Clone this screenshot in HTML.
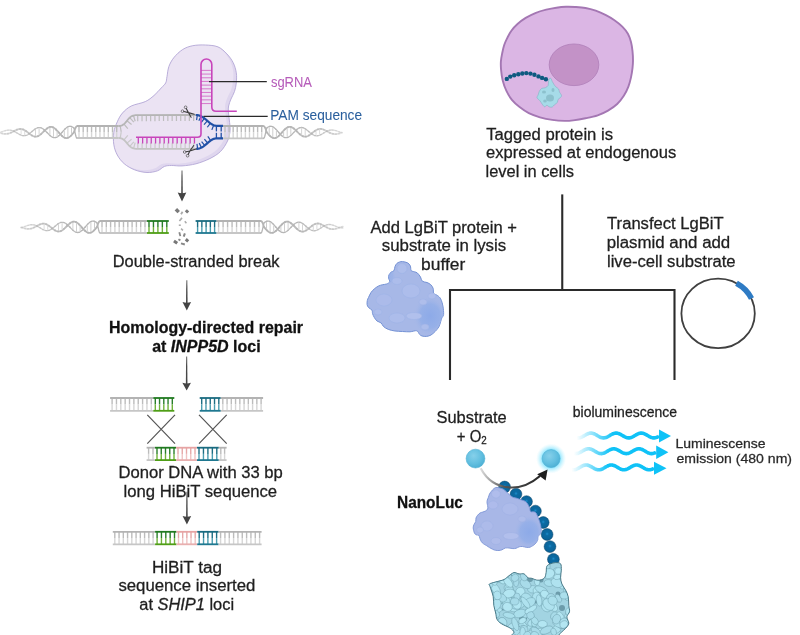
<!DOCTYPE html><html><head><meta charset="utf-8"><style>html,body{margin:0;padding:0;background:#fff;width:800px;height:635px;overflow:hidden}svg{display:block;will-change:transform}text{font-family:"Liberation Sans",sans-serif;font-size:16px}</style></head><body><svg width="800" height="635" viewBox="0 0 800 635"><defs><linearGradient id="shaft" x1="0" y1="0" x2="0" y2="1"><stop offset="0" stop-color="#777"/><stop offset="0.35" stop-color="#4a4a4a"/><stop offset="1" stop-color="#444"/></linearGradient></defs>
<defs><clipPath id="casclip"><path d="M205.4,45 C209.6,45.2 214.42,45.42 218,46.9 C221.58,48.38 224.37,51.27 226.9,53.9 C229.43,56.53 231.63,59.55 233.2,62.7 C234.77,65.85 235.78,69.43 236.3,72.8 C236.82,76.17 236.6,79.78 236.3,82.9 C236,86.02 235.38,88.82 234.5,91.5 C233.62,94.18 231.98,96.58 231,99 C230.02,101.42 229.03,103.83 228.6,106 C228.17,108.17 228.28,109.67 228.4,112 C228.52,114.33 229.02,116.92 229.3,120 C229.58,123.08 230.4,127 230.1,130.5 C229.8,134 229.1,137.5 227.5,141 C225.9,144.5 223.42,148.58 220.5,151.5 C217.58,154.42 214.08,156.45 210,158.5 C205.92,160.55 200.67,162.57 196,163.8 C191.33,165.03 186.08,165.62 182,165.9 C177.92,166.18 174.42,165.42 171.5,165.5 C168.58,165.58 166.83,165.52 164.5,166.4 C162.17,167.28 160.42,169.78 157.5,170.8 C154.58,171.82 150.78,172.65 147,172.5 C143.22,172.35 138.58,171.35 134.8,169.9 C131.02,168.45 127.22,166.28 124.3,163.8 C121.38,161.32 119.05,158.22 117.3,155 C115.55,151.78 114.38,148.28 113.8,144.5 C113.22,140.72 113.22,136.08 113.8,132.3 C114.38,128.52 115.85,125.02 117.3,121.8 C118.75,118.58 120.17,115.63 122.5,113 C124.83,110.37 127.5,107.9 131.3,106 C135.1,104.1 141.52,103.35 145.3,101.6 C149.08,99.85 151.33,97.78 154,95.5 C156.67,93.22 159.35,90 161.3,87.9 C163.25,85.8 164.75,84.78 165.7,82.9 C166.65,81.02 166.47,79.33 167,76.6 C167.53,73.87 167.75,69.67 168.9,66.5 C170.05,63.33 171.6,60.43 173.9,57.6 C176.2,54.77 179.55,51.48 182.7,49.5 C185.85,47.52 189.02,46.45 192.8,45.7 C196.58,44.95 201.2,44.8 205.4,45Z"/></clipPath></defs>
<path d="M205.4,45 C209.6,45.2 214.42,45.42 218,46.9 C221.58,48.38 224.37,51.27 226.9,53.9 C229.43,56.53 231.63,59.55 233.2,62.7 C234.77,65.85 235.78,69.43 236.3,72.8 C236.82,76.17 236.6,79.78 236.3,82.9 C236,86.02 235.38,88.82 234.5,91.5 C233.62,94.18 231.98,96.58 231,99 C230.02,101.42 229.03,103.83 228.6,106 C228.17,108.17 228.28,109.67 228.4,112 C228.52,114.33 229.02,116.92 229.3,120 C229.58,123.08 230.4,127 230.1,130.5 C229.8,134 229.1,137.5 227.5,141 C225.9,144.5 223.42,148.58 220.5,151.5 C217.58,154.42 214.08,156.45 210,158.5 C205.92,160.55 200.67,162.57 196,163.8 C191.33,165.03 186.08,165.62 182,165.9 C177.92,166.18 174.42,165.42 171.5,165.5 C168.58,165.58 166.83,165.52 164.5,166.4 C162.17,167.28 160.42,169.78 157.5,170.8 C154.58,171.82 150.78,172.65 147,172.5 C143.22,172.35 138.58,171.35 134.8,169.9 C131.02,168.45 127.22,166.28 124.3,163.8 C121.38,161.32 119.05,158.22 117.3,155 C115.55,151.78 114.38,148.28 113.8,144.5 C113.22,140.72 113.22,136.08 113.8,132.3 C114.38,128.52 115.85,125.02 117.3,121.8 C118.75,118.58 120.17,115.63 122.5,113 C124.83,110.37 127.5,107.9 131.3,106 C135.1,104.1 141.52,103.35 145.3,101.6 C149.08,99.85 151.33,97.78 154,95.5 C156.67,93.22 159.35,90 161.3,87.9 C163.25,85.8 164.75,84.78 165.7,82.9 C166.65,81.02 166.47,79.33 167,76.6 C167.53,73.87 167.75,69.67 168.9,66.5 C170.05,63.33 171.6,60.43 173.9,57.6 C176.2,54.77 179.55,51.48 182.7,49.5 C185.85,47.52 189.02,46.45 192.8,45.7 C196.58,44.95 201.2,44.8 205.4,45Z" fill="#dfd6ee"/>
<g clip-path="url(#casclip)"><path d="M205.4,45 C209.6,45.2 214.42,45.42 218,46.9 C221.58,48.38 224.37,51.27 226.9,53.9 C229.43,56.53 231.63,59.55 233.2,62.7 C234.77,65.85 235.78,69.43 236.3,72.8 C236.82,76.17 236.6,79.78 236.3,82.9 C236,86.02 235.38,88.82 234.5,91.5 C233.62,94.18 231.98,96.58 231,99 C230.02,101.42 229.03,103.83 228.6,106 C228.17,108.17 228.28,109.67 228.4,112 C228.52,114.33 229.02,116.92 229.3,120 C229.58,123.08 230.4,127 230.1,130.5 C229.8,134 229.1,137.5 227.5,141 C225.9,144.5 223.42,148.58 220.5,151.5 C217.58,154.42 214.08,156.45 210,158.5 C205.92,160.55 200.67,162.57 196,163.8 C191.33,165.03 186.08,165.62 182,165.9 C177.92,166.18 174.42,165.42 171.5,165.5 C168.58,165.58 166.83,165.52 164.5,166.4 C162.17,167.28 160.42,169.78 157.5,170.8 C154.58,171.82 150.78,172.65 147,172.5 C143.22,172.35 138.58,171.35 134.8,169.9 C131.02,168.45 127.22,166.28 124.3,163.8 C121.38,161.32 119.05,158.22 117.3,155 C115.55,151.78 114.38,148.28 113.8,144.5 C113.22,140.72 113.22,136.08 113.8,132.3 C114.38,128.52 115.85,125.02 117.3,121.8 C118.75,118.58 120.17,115.63 122.5,113 C124.83,110.37 127.5,107.9 131.3,106 C135.1,104.1 141.52,103.35 145.3,101.6 C149.08,99.85 151.33,97.78 154,95.5 C156.67,93.22 159.35,90 161.3,87.9 C163.25,85.8 164.75,84.78 165.7,82.9 C166.65,81.02 166.47,79.33 167,76.6 C167.53,73.87 167.75,69.67 168.9,66.5 C170.05,63.33 171.6,60.43 173.9,57.6 C176.2,54.77 179.55,51.48 182.7,49.5 C185.85,47.52 189.02,46.45 192.8,45.7 C196.58,44.95 201.2,44.8 205.4,45Z" fill="#ebe3f3" transform="translate(-3.2,-2.2)"/></g>
<path d="M205.4,45 C209.6,45.2 214.42,45.42 218,46.9 C221.58,48.38 224.37,51.27 226.9,53.9 C229.43,56.53 231.63,59.55 233.2,62.7 C234.77,65.85 235.78,69.43 236.3,72.8 C236.82,76.17 236.6,79.78 236.3,82.9 C236,86.02 235.38,88.82 234.5,91.5 C233.62,94.18 231.98,96.58 231,99 C230.02,101.42 229.03,103.83 228.6,106 C228.17,108.17 228.28,109.67 228.4,112 C228.52,114.33 229.02,116.92 229.3,120 C229.58,123.08 230.4,127 230.1,130.5 C229.8,134 229.1,137.5 227.5,141 C225.9,144.5 223.42,148.58 220.5,151.5 C217.58,154.42 214.08,156.45 210,158.5 C205.92,160.55 200.67,162.57 196,163.8 C191.33,165.03 186.08,165.62 182,165.9 C177.92,166.18 174.42,165.42 171.5,165.5 C168.58,165.58 166.83,165.52 164.5,166.4 C162.17,167.28 160.42,169.78 157.5,170.8 C154.58,171.82 150.78,172.65 147,172.5 C143.22,172.35 138.58,171.35 134.8,169.9 C131.02,168.45 127.22,166.28 124.3,163.8 C121.38,161.32 119.05,158.22 117.3,155 C115.55,151.78 114.38,148.28 113.8,144.5 C113.22,140.72 113.22,136.08 113.8,132.3 C114.38,128.52 115.85,125.02 117.3,121.8 C118.75,118.58 120.17,115.63 122.5,113 C124.83,110.37 127.5,107.9 131.3,106 C135.1,104.1 141.52,103.35 145.3,101.6 C149.08,99.85 151.33,97.78 154,95.5 C156.67,93.22 159.35,90 161.3,87.9 C163.25,85.8 164.75,84.78 165.7,82.9 C166.65,81.02 166.47,79.33 167,76.6 C167.53,73.87 167.75,69.67 168.9,66.5 C170.05,63.33 171.6,60.43 173.9,57.6 C176.2,54.77 179.55,51.48 182.7,49.5 C185.85,47.52 189.02,46.45 192.8,45.7 C196.58,44.95 201.2,44.8 205.4,45Z" fill="none" stroke="#b3a7d6" stroke-width="0.9"/>
<path d="M77,126.2 L76.5,126.4 L76,127 L75.5,127.96 L75,129.2 L74.5,130.65 L74,132.2" fill="none" stroke="#b5b5b5" stroke-width="1.8" stroke-opacity="1" stroke-linecap="round"/>
<path d="M74,132.2 L73.5,132.81 L73,133.4 L72.5,133.99 L72,134.55 L71.5,135.09 L71,135.6" fill="none" stroke="#b5b5b5" stroke-width="1.8" stroke-opacity="1" stroke-linecap="round"/>
<path d="M71,135.6 L70.5,136.07 L70,136.5 L69.5,136.89 L69,137.22 L68.5,137.51 L68,137.73" fill="none" stroke="#b5b5b5" stroke-width="1.8" stroke-opacity="1" stroke-linecap="round"/>
<path d="M68,137.73 L67.5,137.9 L67,138.01 L66.5,138.06 L66,138.05 L65.5,137.98 L65,137.84" fill="none" stroke="#b5b5b5" stroke-width="1.8" stroke-opacity="0.99" stroke-linecap="round"/>
<path d="M65,137.84 L64.5,137.66 L64,137.41 L63.5,137.11 L63,136.77 L62.5,136.38 L62,135.94" fill="none" stroke="#b5b5b5" stroke-width="1.8" stroke-opacity="0.99" stroke-linecap="round"/>
<path d="M62,135.94 L61.5,135.47 L61,134.97 L60.5,134.45 L60,133.9 L59.5,133.34 L59,132.77" fill="none" stroke="#b5b5b5" stroke-width="1.8" stroke-opacity="0.98" stroke-linecap="round"/>
<path d="M59,132.77 L58.5,132.2 L58,131.63 L57.5,131.07 L57,130.53 L56.5,130.01 L56,129.51" fill="none" stroke="#b5b5b5" stroke-width="1.8" stroke-opacity="0.97" stroke-linecap="round"/>
<path d="M56,129.51 L55.5,129.05 L55,128.62 L54.5,128.23 L54,127.89 L53.5,127.59 L53,127.34" fill="none" stroke="#b5b5b5" stroke-width="1.8" stroke-opacity="0.96" stroke-linecap="round"/>
<path d="M53,127.34 L52.5,127.15 L52,127 L51.5,126.92 L51,126.89 L50.5,126.91 L50,126.99" fill="none" stroke="#b5b5b5" stroke-width="1.8" stroke-opacity="0.95" stroke-linecap="round"/>
<path d="M50,126.99 L49.5,127.12 L49,127.3 L48.5,127.53 L48,127.81 L47.5,128.13 L47,128.49" fill="none" stroke="#b5b5b5" stroke-width="1.8" stroke-opacity="0.93" stroke-linecap="round"/>
<path d="M47,128.49 L46.5,128.88 L46,129.31 L45.5,129.75 L45,130.22 L44.5,130.71 L44,131.2" fill="none" stroke="#b5b5b5" stroke-width="1.8" stroke-opacity="0.91" stroke-linecap="round"/>
<path d="M44,131.2 L43.5,131.7 L43,132.2 L42.5,132.69 L42,133.17 L41.5,133.64 L41,134.08" fill="none" stroke="#b5b5b5" stroke-width="1.8" stroke-opacity="0.89" stroke-linecap="round"/>
<path d="M41,134.08 L40.5,134.5 L40,134.89 L39.5,135.25 L39,135.57 L38.5,135.85 L38,136.09" fill="none" stroke="#b5b5b5" stroke-width="1.8" stroke-opacity="0.87" stroke-linecap="round"/>
<path d="M38,136.09 L37.5,136.29 L37,136.44 L36.5,136.55 L36,136.6 L35.5,136.62 L35,136.58" fill="none" stroke="#b5b5b5" stroke-width="1.8" stroke-opacity="0.84" stroke-linecap="round"/>
<path d="M35,136.58 L34.5,136.5 L34,136.38 L33.5,136.22 L33,136.01 L32.5,135.77 L32,135.5" fill="none" stroke="#b5b5b5" stroke-width="1.8" stroke-opacity="0.82" stroke-linecap="round"/>
<path d="M32,135.5 L31.5,135.2 L31,134.87 L30.5,134.52 L30,134.15 L29.5,133.77 L29,133.38" fill="none" stroke="#b5b5b5" stroke-width="1.8" stroke-opacity="0.79" stroke-linecap="round"/>
<path d="M29,133.38 L28.5,132.99 L28,132.59 L27.5,132.2 L27,131.82 L26.5,131.44 L26,131.09" fill="none" stroke="#b5b5b5" stroke-width="1.8" stroke-opacity="0.75" stroke-linecap="round"/>
<path d="M26,131.09 L25.5,130.75 L25,130.44 L24.5,130.15 L24,129.89 L23.5,129.66 L23,129.46" fill="none" stroke="#b5b5b5" stroke-width="1.8" stroke-opacity="0.72" stroke-linecap="round"/>
<path d="M23,129.46 L22.5,129.29 L22,129.16 L21.5,129.07 L21,129.01 L20.5,128.99 L20,129" fill="none" stroke="#b5b5b5" stroke-width="1.8" stroke-opacity="0.68" stroke-linecap="round"/>
<path d="M20,129 L19.5,129.04 L19,129.12 L18.5,129.23 L18,129.36 L17.5,129.52 L17,129.71" fill="none" stroke="#b5b5b5" stroke-width="1.8" stroke-opacity="0.64" stroke-linecap="round"/>
<path d="M17,129.71 L16.5,129.91 L16,130.14 L15.5,130.38 L15,130.63 L14.5,130.89 L14,131.15" fill="none" stroke="#b5b5b5" stroke-width="1.8" stroke-opacity="0.6" stroke-linecap="round"/>
<path d="M14,131.15 L13.5,131.42 L13,131.68 L12.5,131.95 L12,132.2 L11.5,132.44 L11,132.68" fill="none" stroke="#b5b5b5" stroke-width="1.8" stroke-opacity="0.55" stroke-linecap="round"/>
<path d="M11,132.68 L10.5,132.89 L10,133.09 L9.5,133.27 L9,133.44 L8.5,133.58 L8,133.69" fill="none" stroke="#b5b5b5" stroke-width="1.8" stroke-opacity="0.5" stroke-linecap="round"/>
<path d="M8,133.69 L7.5,133.79 L7,133.86 L6.5,133.91 L6,133.94 L5.5,133.94 L5,133.93" fill="none" stroke="#b5b5b5" stroke-width="1.8" stroke-opacity="0.45" stroke-linecap="round"/>
<path d="M5,133.93 L4.5,133.89 L4,133.84 L3.5,133.77 L3,133.68 L2.5,133.58 L2,133.48" fill="none" stroke="#b5b5b5" stroke-width="1.8" stroke-opacity="0.4" stroke-linecap="round"/>
<path d="M2,133.48 L1.5,133.36 L1,133.24 L0.5,133.11 L0,132.98" fill="none" stroke="#b5b5b5" stroke-width="1.8" stroke-opacity="0.34" stroke-linecap="round"/>
<path d="M77,138.2 L76.5,137.76 L76,136.49 L75.5,134.59 L75,132.34 L74.5,130.07 L74,128.12" fill="none" stroke="#b5b5b5" stroke-width="1.3" stroke-opacity="1" stroke-linecap="round"/>
<path d="M74,128.12 L73.5,127.7 L73,127.33 L72.5,127.01 L72,126.74 L71.5,126.53 L71,126.38" fill="none" stroke="#b5b5b5" stroke-width="1.3" stroke-opacity="1" stroke-linecap="round"/>
<path d="M71,126.38 L70.5,126.29 L70,126.26 L69.5,126.3 L69,126.39 L68.5,126.54 L68,126.76" fill="none" stroke="#b5b5b5" stroke-width="1.3" stroke-opacity="1" stroke-linecap="round"/>
<path d="M68,126.76 L67.5,127.02 L67,127.34 L66.5,127.71 L66,128.12 L65.5,128.58 L65,129.07" fill="none" stroke="#b5b5b5" stroke-width="1.3" stroke-opacity="0.99" stroke-linecap="round"/>
<path d="M65,129.07 L64.5,129.59 L64,130.13 L63.5,130.69 L63,131.27 L62.5,131.85 L62,132.43" fill="none" stroke="#b5b5b5" stroke-width="1.3" stroke-opacity="0.99" stroke-linecap="round"/>
<path d="M62,132.43 L61.5,133.01 L61,133.58 L60.5,134.13 L60,134.65 L59.5,135.15 L59,135.61" fill="none" stroke="#b5b5b5" stroke-width="1.3" stroke-opacity="0.98" stroke-linecap="round"/>
<path d="M59,135.61 L58.5,136.04 L58,136.42 L57.5,136.76 L57,137.05 L56.5,137.28 L56,137.47" fill="none" stroke="#b5b5b5" stroke-width="1.3" stroke-opacity="0.97" stroke-linecap="round"/>
<path d="M56,137.47 L55.5,137.59 L55,137.66 L54.5,137.68 L54,137.63 L53.5,137.53 L53,137.38" fill="none" stroke="#b5b5b5" stroke-width="1.3" stroke-opacity="0.96" stroke-linecap="round"/>
<path d="M53,137.38 L52.5,137.17 L52,136.92 L51.5,136.62 L51,136.27 L50.5,135.89 L50,135.47" fill="none" stroke="#b5b5b5" stroke-width="1.3" stroke-opacity="0.95" stroke-linecap="round"/>
<path d="M50,135.47 L49.5,135.02 L49,134.55 L48.5,134.05 L48,133.55 L47.5,133.03 L47,132.51" fill="none" stroke="#b5b5b5" stroke-width="1.3" stroke-opacity="0.93" stroke-linecap="round"/>
<path d="M47,132.51 L46.5,131.99 L46,131.48 L45.5,130.99 L45,130.51 L44.5,130.05 L44,129.62" fill="none" stroke="#b5b5b5" stroke-width="1.3" stroke-opacity="0.91" stroke-linecap="round"/>
<path d="M44,129.62 L43.5,129.22 L43,128.86 L42.5,128.54 L42,128.26 L41.5,128.02 L41,127.83" fill="none" stroke="#b5b5b5" stroke-width="1.3" stroke-opacity="0.89" stroke-linecap="round"/>
<path d="M41,127.83 L40.5,127.68 L40,127.59 L39.5,127.54 L39,127.55 L38.5,127.6 L38,127.7" fill="none" stroke="#b5b5b5" stroke-width="1.3" stroke-opacity="0.87" stroke-linecap="round"/>
<path d="M38,127.7 L37.5,127.84 L37,128.03 L36.5,128.25 L36,128.52 L35.5,128.82 L35,129.15" fill="none" stroke="#b5b5b5" stroke-width="1.3" stroke-opacity="0.84" stroke-linecap="round"/>
<path d="M35,129.15 L34.5,129.5 L34,129.88 L33.5,130.28 L33,130.68 L32.5,131.1 L32,131.53" fill="none" stroke="#b5b5b5" stroke-width="1.3" stroke-opacity="0.82" stroke-linecap="round"/>
<path d="M32,131.53 L31.5,131.95 L31,132.37 L30.5,132.77 L30,133.17 L29.5,133.55 L29,133.9" fill="none" stroke="#b5b5b5" stroke-width="1.3" stroke-opacity="0.79" stroke-linecap="round"/>
<path d="M29,133.9 L28.5,134.24 L28,134.54 L27.5,134.81 L27,135.05 L26.5,135.26 L26,135.43" fill="none" stroke="#b5b5b5" stroke-width="1.3" stroke-opacity="0.75" stroke-linecap="round"/>
<path d="M26,135.43 L25.5,135.56 L25,135.65 L24.5,135.71 L24,135.73 L23.5,135.71 L23,135.65" fill="none" stroke="#b5b5b5" stroke-width="1.3" stroke-opacity="0.72" stroke-linecap="round"/>
<path d="M23,135.65 L22.5,135.56 L22,135.44 L21.5,135.28 L21,135.1 L20.5,134.89 L20,134.65" fill="none" stroke="#b5b5b5" stroke-width="1.3" stroke-opacity="0.68" stroke-linecap="round"/>
<path d="M20,134.65 L19.5,134.4 L19,134.13 L18.5,133.85 L18,133.56 L17.5,133.26 L17,132.96" fill="none" stroke="#b5b5b5" stroke-width="1.3" stroke-opacity="0.64" stroke-linecap="round"/>
<path d="M17,132.96 L16.5,132.67 L16,132.37 L15.5,132.09 L15,131.81 L14.5,131.55 L14,131.3" fill="none" stroke="#b5b5b5" stroke-width="1.3" stroke-opacity="0.6" stroke-linecap="round"/>
<path d="M14,131.3 L13.5,131.08 L13,130.87 L12.5,130.68 L12,130.52 L11.5,130.39 L11,130.27" fill="none" stroke="#b5b5b5" stroke-width="1.3" stroke-opacity="0.55" stroke-linecap="round"/>
<path d="M11,130.27 L10.5,130.19 L10,130.13 L9.5,130.1 L9,130.09 L8.5,130.1 L8,130.14" fill="none" stroke="#b5b5b5" stroke-width="1.3" stroke-opacity="0.5" stroke-linecap="round"/>
<path d="M8,130.14 L7.5,130.2 L7,130.28 L6.5,130.38 L6,130.49 L5.5,130.62 L5,130.76" fill="none" stroke="#b5b5b5" stroke-width="1.3" stroke-opacity="0.45" stroke-linecap="round"/>
<path d="M5,130.76 L4.5,130.9 L4,131.06 L3.5,131.22 L3,131.38 L2.5,131.54 L2,131.69" fill="none" stroke="#b5b5b5" stroke-width="1.3" stroke-opacity="0.4" stroke-linecap="round"/>
<path d="M2,131.69 L1.5,131.84 L1,131.99 L0.5,132.12 L0,132.25" fill="none" stroke="#b5b5b5" stroke-width="1.3" stroke-opacity="0.34" stroke-linecap="round"/>
<line x1="71.5" y1="127.33" x2="71.5" y2="134.29" stroke="#cdcdcd" stroke-width="1" stroke-opacity="1"/>
<line x1="67.9" y1="127.6" x2="67.9" y2="136.97" stroke="#cdcdcd" stroke-width="1" stroke-opacity="0.99"/>
<line x1="64.3" y1="130.6" x2="64.3" y2="136.76" stroke="#cdcdcd" stroke-width="1" stroke-opacity="0.99"/>
<line x1="57.1" y1="131.44" x2="57.1" y2="136.19" stroke="#cdcdcd" stroke-width="1" stroke-opacity="0.96"/>
<line x1="53.5" y1="128.39" x2="53.5" y2="136.73" stroke="#cdcdcd" stroke-width="1" stroke-opacity="0.95"/>
<line x1="49.9" y1="127.81" x2="49.9" y2="134.58" stroke="#cdcdcd" stroke-width="1" stroke-opacity="0.93"/>
<line x1="39.1" y1="128.34" x2="39.1" y2="134.71" stroke="#cdcdcd" stroke-width="1" stroke-opacity="0.85"/>
<line x1="35.5" y1="129.62" x2="35.5" y2="135.82" stroke="#cdcdcd" stroke-width="1" stroke-opacity="0.82"/>
<line x1="24.7" y1="131.06" x2="24.7" y2="134.89" stroke="#cdcdcd" stroke-width="1" stroke-opacity="0.7"/>
<line x1="21.1" y1="129.82" x2="21.1" y2="134.34" stroke="#cdcdcd" stroke-width="1" stroke-opacity="0.65"/>
<line x1="79" y1="126" x2="79" y2="132" stroke="#bcbcbc" stroke-width="1.4"/>
<line x1="79" y1="132" x2="79" y2="138" stroke="#d6d6d6" stroke-width="1.4"/>
<line x1="83.19" y1="126" x2="83.19" y2="132" stroke="#bcbcbc" stroke-width="1.4"/>
<line x1="83.19" y1="132" x2="83.19" y2="138" stroke="#d6d6d6" stroke-width="1.4"/>
<line x1="87.38" y1="126" x2="87.38" y2="132" stroke="#bcbcbc" stroke-width="1.4"/>
<line x1="87.38" y1="132" x2="87.38" y2="138" stroke="#d6d6d6" stroke-width="1.4"/>
<line x1="91.57" y1="126" x2="91.57" y2="132" stroke="#bcbcbc" stroke-width="1.4"/>
<line x1="91.57" y1="132" x2="91.57" y2="138" stroke="#d6d6d6" stroke-width="1.4"/>
<line x1="95.76" y1="126" x2="95.76" y2="132" stroke="#bcbcbc" stroke-width="1.4"/>
<line x1="95.76" y1="132" x2="95.76" y2="138" stroke="#d6d6d6" stroke-width="1.4"/>
<line x1="99.94" y1="126" x2="99.94" y2="132" stroke="#bcbcbc" stroke-width="1.4"/>
<line x1="99.94" y1="132" x2="99.94" y2="138" stroke="#d6d6d6" stroke-width="1.4"/>
<line x1="104.13" y1="126" x2="104.13" y2="132" stroke="#bcbcbc" stroke-width="1.4"/>
<line x1="104.13" y1="132" x2="104.13" y2="138" stroke="#d6d6d6" stroke-width="1.4"/>
<line x1="108.32" y1="126" x2="108.32" y2="132" stroke="#bcbcbc" stroke-width="1.4"/>
<line x1="108.32" y1="132" x2="108.32" y2="138" stroke="#d6d6d6" stroke-width="1.4"/>
<line x1="112.51" y1="126" x2="112.51" y2="132" stroke="#bcbcbc" stroke-width="1.4"/>
<line x1="112.51" y1="132" x2="112.51" y2="138" stroke="#d6d6d6" stroke-width="1.4"/>
<line x1="116.7" y1="126" x2="116.7" y2="132" stroke="#bcbcbc" stroke-width="1.4"/>
<line x1="116.7" y1="132" x2="116.7" y2="138" stroke="#d6d6d6" stroke-width="1.4"/>
<line x1="77" y1="126" x2="118.7" y2="126" stroke="#b3b3b3" stroke-width="1.8"/>
<line x1="77" y1="138" x2="118.7" y2="138" stroke="#c6c6c6" stroke-width="1.8"/>
<line x1="225" y1="126" x2="225" y2="132.2" stroke="#bcbcbc" stroke-width="1.4"/>
<line x1="225" y1="132.2" x2="225" y2="138.4" stroke="#d6d6d6" stroke-width="1.4"/>
<line x1="229.08" y1="126" x2="229.08" y2="132.2" stroke="#bcbcbc" stroke-width="1.4"/>
<line x1="229.08" y1="132.2" x2="229.08" y2="138.4" stroke="#d6d6d6" stroke-width="1.4"/>
<line x1="233.16" y1="126" x2="233.16" y2="132.2" stroke="#bcbcbc" stroke-width="1.4"/>
<line x1="233.16" y1="132.2" x2="233.16" y2="138.4" stroke="#d6d6d6" stroke-width="1.4"/>
<line x1="237.23" y1="126" x2="237.23" y2="132.2" stroke="#bcbcbc" stroke-width="1.4"/>
<line x1="237.23" y1="132.2" x2="237.23" y2="138.4" stroke="#d6d6d6" stroke-width="1.4"/>
<line x1="241.31" y1="126" x2="241.31" y2="132.2" stroke="#bcbcbc" stroke-width="1.4"/>
<line x1="241.31" y1="132.2" x2="241.31" y2="138.4" stroke="#d6d6d6" stroke-width="1.4"/>
<line x1="245.39" y1="126" x2="245.39" y2="132.2" stroke="#bcbcbc" stroke-width="1.4"/>
<line x1="245.39" y1="132.2" x2="245.39" y2="138.4" stroke="#d6d6d6" stroke-width="1.4"/>
<line x1="249.47" y1="126" x2="249.47" y2="132.2" stroke="#bcbcbc" stroke-width="1.4"/>
<line x1="249.47" y1="132.2" x2="249.47" y2="138.4" stroke="#d6d6d6" stroke-width="1.4"/>
<line x1="253.54" y1="126" x2="253.54" y2="132.2" stroke="#bcbcbc" stroke-width="1.4"/>
<line x1="253.54" y1="132.2" x2="253.54" y2="138.4" stroke="#d6d6d6" stroke-width="1.4"/>
<line x1="257.62" y1="126" x2="257.62" y2="132.2" stroke="#bcbcbc" stroke-width="1.4"/>
<line x1="257.62" y1="132.2" x2="257.62" y2="138.4" stroke="#d6d6d6" stroke-width="1.4"/>
<line x1="261.7" y1="126" x2="261.7" y2="132.2" stroke="#bcbcbc" stroke-width="1.4"/>
<line x1="261.7" y1="132.2" x2="261.7" y2="138.4" stroke="#d6d6d6" stroke-width="1.4"/>
<line x1="223" y1="126" x2="263.7" y2="126" stroke="#b3b3b3" stroke-width="1.8"/>
<line x1="223" y1="138.4" x2="263.7" y2="138.4" stroke="#c6c6c6" stroke-width="1.8"/>
<path d="M263.7,126.2 L264.2,126.41 L264.7,127.01 L265.21,127.97 L265.71,129.22 L266.21,130.68 L266.71,132.21" fill="none" stroke="#b5b5b5" stroke-width="1.8" stroke-opacity="1" stroke-linecap="round"/>
<path d="M266.71,132.21 L267.21,132.82 L267.72,133.42 L268.22,134.01 L268.72,134.57 L269.22,135.11 L269.72,135.62" fill="none" stroke="#b5b5b5" stroke-width="1.8" stroke-opacity="1" stroke-linecap="round"/>
<path d="M269.72,135.62 L270.22,136.1 L270.73,136.53 L271.23,136.91 L271.73,137.24 L272.23,137.52 L272.73,137.75" fill="none" stroke="#b5b5b5" stroke-width="1.8" stroke-opacity="1" stroke-linecap="round"/>
<path d="M272.73,137.75 L273.24,137.91 L273.74,138.02 L274.24,138.06 L274.74,138.05 L275.24,137.97 L275.75,137.83" fill="none" stroke="#b5b5b5" stroke-width="1.8" stroke-opacity="0.99" stroke-linecap="round"/>
<path d="M275.75,137.83 L276.25,137.64 L276.75,137.39 L277.25,137.09 L277.75,136.73 L278.26,136.34 L278.76,135.9" fill="none" stroke="#b5b5b5" stroke-width="1.8" stroke-opacity="0.99" stroke-linecap="round"/>
<path d="M278.76,135.9 L279.26,135.42 L279.76,134.91 L280.26,134.38 L280.77,133.83 L281.27,133.27 L281.77,132.69" fill="none" stroke="#b5b5b5" stroke-width="1.8" stroke-opacity="0.98" stroke-linecap="round"/>
<path d="M281.77,132.69 L282.27,132.12 L282.77,131.55 L283.27,130.99 L283.78,130.44 L284.28,129.92 L284.78,129.43" fill="none" stroke="#b5b5b5" stroke-width="1.8" stroke-opacity="0.97" stroke-linecap="round"/>
<path d="M284.78,129.43 L285.28,128.97 L285.78,128.54 L286.29,128.16 L286.79,127.82 L287.29,127.53 L287.79,127.29" fill="none" stroke="#b5b5b5" stroke-width="1.8" stroke-opacity="0.96" stroke-linecap="round"/>
<path d="M287.79,127.29 L288.29,127.1 L288.8,126.97 L289.3,126.89 L289.8,126.87 L290.3,126.9 L290.8,126.99" fill="none" stroke="#b5b5b5" stroke-width="1.8" stroke-opacity="0.95" stroke-linecap="round"/>
<path d="M290.8,126.99 L291.31,127.13 L291.81,127.33 L292.31,127.57 L292.81,127.86 L293.31,128.19 L293.82,128.56" fill="none" stroke="#b5b5b5" stroke-width="1.8" stroke-opacity="0.93" stroke-linecap="round"/>
<path d="M293.82,128.56 L294.32,128.96 L294.82,129.4 L295.32,129.85 L295.82,130.33 L296.32,130.82 L296.83,131.32" fill="none" stroke="#b5b5b5" stroke-width="1.8" stroke-opacity="0.91" stroke-linecap="round"/>
<path d="M296.83,131.32 L297.33,131.83 L297.83,132.33 L298.33,132.83 L298.83,133.31 L299.34,133.77 L299.84,134.22" fill="none" stroke="#b5b5b5" stroke-width="1.8" stroke-opacity="0.89" stroke-linecap="round"/>
<path d="M299.84,134.22 L300.34,134.64 L300.84,135.02 L301.34,135.37 L301.85,135.69 L302.35,135.96 L302.85,136.19" fill="none" stroke="#b5b5b5" stroke-width="1.8" stroke-opacity="0.87" stroke-linecap="round"/>
<path d="M302.85,136.19 L303.35,136.38 L303.85,136.52 L304.36,136.61 L304.86,136.66 L305.36,136.66 L305.86,136.61" fill="none" stroke="#b5b5b5" stroke-width="1.8" stroke-opacity="0.85" stroke-linecap="round"/>
<path d="M305.86,136.61 L306.36,136.52 L306.87,136.38 L307.37,136.2 L307.87,135.98 L308.37,135.73 L308.87,135.44" fill="none" stroke="#b5b5b5" stroke-width="1.8" stroke-opacity="0.82" stroke-linecap="round"/>
<path d="M308.87,135.44 L309.38,135.13 L309.88,134.79 L310.38,134.42 L310.88,134.04 L311.38,133.65 L311.88,133.25" fill="none" stroke="#b5b5b5" stroke-width="1.8" stroke-opacity="0.79" stroke-linecap="round"/>
<path d="M311.88,133.25 L312.39,132.85 L312.89,132.45 L313.39,132.05 L313.89,131.66 L314.39,131.29 L314.9,130.93" fill="none" stroke="#b5b5b5" stroke-width="1.8" stroke-opacity="0.76" stroke-linecap="round"/>
<path d="M314.9,130.93 L315.4,130.59 L315.9,130.28 L316.4,130 L316.9,129.74 L317.41,129.52 L317.91,129.33" fill="none" stroke="#b5b5b5" stroke-width="1.8" stroke-opacity="0.73" stroke-linecap="round"/>
<path d="M317.91,129.33 L318.41,129.17 L318.91,129.05 L319.41,128.96 L319.92,128.92 L320.42,128.91 L320.92,128.93" fill="none" stroke="#b5b5b5" stroke-width="1.8" stroke-opacity="0.69" stroke-linecap="round"/>
<path d="M320.92,128.93 L321.42,128.99 L321.92,129.08 L322.43,129.2 L322.93,129.35 L323.43,129.53 L323.93,129.73" fill="none" stroke="#b5b5b5" stroke-width="1.8" stroke-opacity="0.65" stroke-linecap="round"/>
<path d="M323.93,129.73 L324.43,129.95 L324.93,130.18 L325.44,130.44 L325.94,130.7 L326.44,130.97 L326.94,131.25" fill="none" stroke="#b5b5b5" stroke-width="1.8" stroke-opacity="0.61" stroke-linecap="round"/>
<path d="M326.94,131.25 L327.44,131.52 L327.95,131.8 L328.45,132.07 L328.95,132.33 L329.45,132.58 L329.95,132.82" fill="none" stroke="#b5b5b5" stroke-width="1.8" stroke-opacity="0.56" stroke-linecap="round"/>
<path d="M329.95,132.82 L330.46,133.04 L330.96,133.24 L331.46,133.42 L331.96,133.58 L332.46,133.72 L332.97,133.84" fill="none" stroke="#b5b5b5" stroke-width="1.8" stroke-opacity="0.52" stroke-linecap="round"/>
<path d="M332.97,133.84 L333.47,133.93 L333.97,134 L334.47,134.04 L334.97,134.06 L335.48,134.06 L335.98,134.04" fill="none" stroke="#b5b5b5" stroke-width="1.8" stroke-opacity="0.47" stroke-linecap="round"/>
<path d="M335.98,134.04 L336.48,133.99 L336.98,133.93 L337.48,133.85 L337.98,133.76 L338.49,133.65 L338.99,133.53" fill="none" stroke="#b5b5b5" stroke-width="1.8" stroke-opacity="0.41" stroke-linecap="round"/>
<path d="M338.99,133.53 L339.49,133.4 L339.99,133.27 L340.49,133.13 L341,132.99 L341.5,132.85 L342,132.72" fill="none" stroke="#b5b5b5" stroke-width="1.8" stroke-opacity="0.36" stroke-linecap="round"/>
<path d="M263.7,138.2 L264.2,137.75 L264.7,136.48 L265.21,134.57 L265.71,132.31 L266.21,130.03 L266.71,128.11" fill="none" stroke="#b5b5b5" stroke-width="1.3" stroke-opacity="1" stroke-linecap="round"/>
<path d="M266.71,128.11 L267.21,127.69 L267.72,127.32 L268.22,127 L268.72,126.73 L269.22,126.52 L269.72,126.38" fill="none" stroke="#b5b5b5" stroke-width="1.3" stroke-opacity="1" stroke-linecap="round"/>
<path d="M269.72,126.38 L270.22,126.29 L270.73,126.26 L271.23,126.3 L271.73,126.4 L272.23,126.55 L272.73,126.77" fill="none" stroke="#b5b5b5" stroke-width="1.3" stroke-opacity="1" stroke-linecap="round"/>
<path d="M272.73,126.77 L273.24,127.04 L273.74,127.37 L274.24,127.74 L274.74,128.16 L275.24,128.62 L275.75,129.11" fill="none" stroke="#b5b5b5" stroke-width="1.3" stroke-opacity="0.99" stroke-linecap="round"/>
<path d="M275.75,129.11 L276.25,129.63 L276.75,130.18 L277.25,130.75 L277.75,131.33 L278.26,131.92 L278.76,132.5" fill="none" stroke="#b5b5b5" stroke-width="1.3" stroke-opacity="0.99" stroke-linecap="round"/>
<path d="M278.76,132.5 L279.26,133.08 L279.76,133.65 L280.26,134.2 L280.77,134.72 L281.27,135.22 L281.77,135.68" fill="none" stroke="#b5b5b5" stroke-width="1.3" stroke-opacity="0.98" stroke-linecap="round"/>
<path d="M281.77,135.68 L282.27,136.1 L282.77,136.48 L283.27,136.82 L283.78,137.1 L284.28,137.33 L284.78,137.5" fill="none" stroke="#b5b5b5" stroke-width="1.3" stroke-opacity="0.97" stroke-linecap="round"/>
<path d="M284.78,137.5 L285.28,137.62 L285.78,137.68 L286.29,137.69 L286.79,137.63 L287.29,137.53 L287.79,137.36" fill="none" stroke="#b5b5b5" stroke-width="1.3" stroke-opacity="0.96" stroke-linecap="round"/>
<path d="M287.79,137.36 L288.29,137.15 L288.8,136.88 L289.3,136.57 L289.8,136.21 L290.3,135.82 L290.8,135.39" fill="none" stroke="#b5b5b5" stroke-width="1.3" stroke-opacity="0.95" stroke-linecap="round"/>
<path d="M290.8,135.39 L291.31,134.93 L291.81,134.45 L292.31,133.95 L292.81,133.44 L293.31,132.92 L293.82,132.39" fill="none" stroke="#b5b5b5" stroke-width="1.3" stroke-opacity="0.93" stroke-linecap="round"/>
<path d="M293.82,132.39 L294.32,131.87 L294.82,131.36 L295.32,130.86 L295.82,130.38 L296.32,129.93 L296.83,129.5" fill="none" stroke="#b5b5b5" stroke-width="1.3" stroke-opacity="0.91" stroke-linecap="round"/>
<path d="M296.83,129.5 L297.33,129.11 L297.83,128.75 L298.33,128.43 L298.83,128.16 L299.34,127.93 L299.84,127.75" fill="none" stroke="#b5b5b5" stroke-width="1.3" stroke-opacity="0.89" stroke-linecap="round"/>
<path d="M299.84,127.75 L300.34,127.62 L300.84,127.53 L301.34,127.5 L301.85,127.52 L302.35,127.58 L302.85,127.69" fill="none" stroke="#b5b5b5" stroke-width="1.3" stroke-opacity="0.87" stroke-linecap="round"/>
<path d="M302.85,127.69 L303.35,127.85 L303.85,128.05 L304.36,128.29 L304.86,128.57 L305.36,128.88 L305.86,129.22" fill="none" stroke="#b5b5b5" stroke-width="1.3" stroke-opacity="0.85" stroke-linecap="round"/>
<path d="M305.86,129.22 L306.36,129.59 L306.87,129.98 L307.37,130.39 L307.87,130.81 L308.37,131.24 L308.87,131.67" fill="none" stroke="#b5b5b5" stroke-width="1.3" stroke-opacity="0.82" stroke-linecap="round"/>
<path d="M308.87,131.67 L309.38,132.09 L309.88,132.52 L310.38,132.93 L310.88,133.32 L311.38,133.7 L311.88,134.06" fill="none" stroke="#b5b5b5" stroke-width="1.3" stroke-opacity="0.79" stroke-linecap="round"/>
<path d="M311.88,134.06 L312.39,134.39 L312.89,134.69 L313.39,134.95 L313.89,135.19 L314.39,135.39 L314.9,135.55" fill="none" stroke="#b5b5b5" stroke-width="1.3" stroke-opacity="0.76" stroke-linecap="round"/>
<path d="M314.9,135.55 L315.4,135.67 L315.9,135.75 L316.4,135.79 L316.9,135.8 L317.41,135.76 L317.91,135.69" fill="none" stroke="#b5b5b5" stroke-width="1.3" stroke-opacity="0.73" stroke-linecap="round"/>
<path d="M317.91,135.69 L318.41,135.59 L318.91,135.45 L319.41,135.28 L319.92,135.08 L320.42,134.85 L320.92,134.61" fill="none" stroke="#b5b5b5" stroke-width="1.3" stroke-opacity="0.69" stroke-linecap="round"/>
<path d="M320.92,134.61 L321.42,134.34 L321.92,134.06 L322.43,133.77 L322.93,133.46 L323.43,133.16 L323.93,132.85" fill="none" stroke="#b5b5b5" stroke-width="1.3" stroke-opacity="0.65" stroke-linecap="round"/>
<path d="M323.93,132.85 L324.43,132.54 L324.93,132.24 L325.44,131.95 L325.94,131.67 L326.44,131.4 L326.94,131.15" fill="none" stroke="#b5b5b5" stroke-width="1.3" stroke-opacity="0.61" stroke-linecap="round"/>
<path d="M326.94,131.15 L327.44,130.92 L327.95,130.72 L328.45,130.53 L328.95,130.37 L329.45,130.24 L329.95,130.14" fill="none" stroke="#b5b5b5" stroke-width="1.3" stroke-opacity="0.56" stroke-linecap="round"/>
<path d="M329.95,130.14 L330.46,130.06 L330.96,130 L331.46,129.98 L331.96,129.98 L332.46,130 L332.97,130.05" fill="none" stroke="#b5b5b5" stroke-width="1.3" stroke-opacity="0.52" stroke-linecap="round"/>
<path d="M332.97,130.05 L333.47,130.12 L333.97,130.21 L334.47,130.32 L334.97,130.45 L335.48,130.59 L335.98,130.74" fill="none" stroke="#b5b5b5" stroke-width="1.3" stroke-opacity="0.47" stroke-linecap="round"/>
<path d="M335.98,130.74 L336.48,130.9 L336.98,131.06 L337.48,131.23 L337.98,131.4 L338.49,131.57 L338.99,131.74" fill="none" stroke="#b5b5b5" stroke-width="1.3" stroke-opacity="0.41" stroke-linecap="round"/>
<path d="M338.99,131.74 L339.49,131.9 L339.99,132.05 L340.49,132.2 L341,132.33 L341.5,132.45 L342,132.56" fill="none" stroke="#b5b5b5" stroke-width="1.3" stroke-opacity="0.36" stroke-linecap="round"/>
<line x1="269.2" y1="127.33" x2="269.2" y2="134.29" stroke="#cdcdcd" stroke-width="1" stroke-opacity="1"/>
<line x1="272.8" y1="127.6" x2="272.8" y2="136.97" stroke="#cdcdcd" stroke-width="1" stroke-opacity="0.99"/>
<line x1="276.4" y1="130.6" x2="276.4" y2="136.77" stroke="#cdcdcd" stroke-width="1" stroke-opacity="0.99"/>
<line x1="283.6" y1="131.43" x2="283.6" y2="136.21" stroke="#cdcdcd" stroke-width="1" stroke-opacity="0.97"/>
<line x1="287.2" y1="128.37" x2="287.2" y2="136.75" stroke="#cdcdcd" stroke-width="1" stroke-opacity="0.95"/>
<line x1="290.8" y1="127.79" x2="290.8" y2="134.59" stroke="#cdcdcd" stroke-width="1" stroke-opacity="0.93"/>
<line x1="301.6" y1="128.3" x2="301.6" y2="134.74" stroke="#cdcdcd" stroke-width="1" stroke-opacity="0.86"/>
<line x1="305.2" y1="129.58" x2="305.2" y2="135.86" stroke="#cdcdcd" stroke-width="1" stroke-opacity="0.83"/>
<line x1="316" y1="131.02" x2="316" y2="134.96" stroke="#cdcdcd" stroke-width="1" stroke-opacity="0.71"/>
<line x1="319.6" y1="129.74" x2="319.6" y2="134.41" stroke="#cdcdcd" stroke-width="1" stroke-opacity="0.67"/>
<line x1="120.19" y1="125.87" x2="121.21" y2="131.78" stroke="#bdbdbd" stroke-width="1.2"/>
<line x1="124.01" y1="124.01" x2="127.8" y2="128.66" stroke="#bdbdbd" stroke-width="1.2"/>
<line x1="126.9" y1="120.83" x2="131.58" y2="124.58" stroke="#bdbdbd" stroke-width="1.2"/>
<line x1="129.76" y1="117.63" x2="133.81" y2="122.05" stroke="#bdbdbd" stroke-width="1.2"/>
<line x1="133.46" y1="115.53" x2="135.19" y2="121.28" stroke="#bdbdbd" stroke-width="1.2"/>
<line x1="137.73" y1="115.19" x2="137.75" y2="121.19" stroke="#bdbdbd" stroke-width="1.2"/>
<line x1="142.03" y1="115.18" x2="142.05" y2="121.18" stroke="#bdbdbd" stroke-width="1.2"/>
<line x1="146.33" y1="115.17" x2="146.35" y2="121.17" stroke="#bdbdbd" stroke-width="1.2"/>
<line x1="150.63" y1="115.15" x2="150.65" y2="121.15" stroke="#bdbdbd" stroke-width="1.2"/>
<line x1="154.93" y1="115.14" x2="154.95" y2="121.14" stroke="#bdbdbd" stroke-width="1.2"/>
<line x1="159.23" y1="115.12" x2="159.25" y2="121.12" stroke="#bdbdbd" stroke-width="1.2"/>
<line x1="163.53" y1="115.11" x2="163.55" y2="121.11" stroke="#bdbdbd" stroke-width="1.2"/>
<line x1="167.83" y1="115.09" x2="167.85" y2="121.09" stroke="#bdbdbd" stroke-width="1.2"/>
<line x1="172.13" y1="115.08" x2="172.15" y2="121.08" stroke="#bdbdbd" stroke-width="1.2"/>
<line x1="176.43" y1="115.06" x2="176.45" y2="121.06" stroke="#bdbdbd" stroke-width="1.2"/>
<line x1="180.73" y1="115.05" x2="180.75" y2="121.05" stroke="#bdbdbd" stroke-width="1.2"/>
<line x1="185.03" y1="115.04" x2="185.05" y2="121.04" stroke="#bdbdbd" stroke-width="1.2"/>
<line x1="189.33" y1="115.02" x2="189.35" y2="121.02" stroke="#bdbdbd" stroke-width="1.2"/>
<line x1="193.63" y1="115.01" x2="193.65" y2="121.01" stroke="#bdbdbd" stroke-width="1.2"/>
<line x1="120.19" y1="138.13" x2="121.21" y2="132.22" stroke="#c9c9c9" stroke-width="1.2"/>
<line x1="124.01" y1="139.98" x2="127.79" y2="135.32" stroke="#c9c9c9" stroke-width="1.2"/>
<line x1="126.93" y1="143.13" x2="131.57" y2="139.32" stroke="#c9c9c9" stroke-width="1.2"/>
<line x1="129.84" y1="146.3" x2="133.79" y2="141.78" stroke="#c9c9c9" stroke-width="1.2"/>
<line x1="133.55" y1="148.39" x2="135.19" y2="142.62" stroke="#c9c9c9" stroke-width="1.2"/>
<line x1="137.81" y1="148.8" x2="137.82" y2="142.8" stroke="#c9c9c9" stroke-width="1.2"/>
<line x1="142.11" y1="148.81" x2="142.12" y2="142.81" stroke="#c9c9c9" stroke-width="1.2"/>
<line x1="146.41" y1="148.82" x2="146.42" y2="142.82" stroke="#c9c9c9" stroke-width="1.2"/>
<line x1="150.71" y1="148.82" x2="150.72" y2="142.82" stroke="#c9c9c9" stroke-width="1.2"/>
<line x1="155.01" y1="148.83" x2="155.02" y2="142.83" stroke="#c9c9c9" stroke-width="1.2"/>
<line x1="159.31" y1="148.84" x2="159.32" y2="142.84" stroke="#c9c9c9" stroke-width="1.2"/>
<line x1="163.61" y1="148.85" x2="163.62" y2="142.85" stroke="#c9c9c9" stroke-width="1.2"/>
<line x1="167.91" y1="148.85" x2="167.92" y2="142.85" stroke="#c9c9c9" stroke-width="1.2"/>
<line x1="172.21" y1="148.86" x2="172.22" y2="142.86" stroke="#c9c9c9" stroke-width="1.2"/>
<line x1="176.51" y1="148.87" x2="176.52" y2="142.87" stroke="#c9c9c9" stroke-width="1.2"/>
<line x1="180.81" y1="148.87" x2="180.82" y2="142.87" stroke="#c9c9c9" stroke-width="1.2"/>
<line x1="185.11" y1="148.88" x2="185.12" y2="142.88" stroke="#c9c9c9" stroke-width="1.2"/>
<line x1="189.41" y1="148.89" x2="189.42" y2="142.89" stroke="#c9c9c9" stroke-width="1.2"/>
<line x1="193.71" y1="148.9" x2="193.72" y2="142.9" stroke="#c9c9c9" stroke-width="1.2"/>
<path d="M118.7,126 L119.31,125.98 L119.88,125.92 L120.43,125.83 L120.96,125.7 L121.46,125.54 L121.93,125.34 L122.39,125.12 L122.82,124.88 L123.24,124.61 L123.64,124.31 L124.02,124 L124.4,123.67 L124.76,123.32 L125.11,122.96 L125.45,122.58 L125.78,122.2 L126.11,121.81 L126.44,121.41 L126.76,121 L127.09,120.6 L127.41,120.2 L127.74,119.79 L128.07,119.39 L128.41,119 L128.76,118.62 L129.12,118.24 L129.48,117.88 L129.86,117.53 L130.26,117.2 L130.67,116.89 L131.09,116.59 L131.54,116.32 L132.01,116.08 L132.5,115.86 L133.01,115.66 L133.55,115.5 L134.12,115.37 L134.72,115.28 L135.34,115.22 L136,115.2 L195.8,115" fill="none" stroke="#b5b5b5" stroke-width="1.8"/>
<path d="M118.7,138 L119.31,138.02 L119.88,138.08 L120.43,138.17 L120.96,138.3 L121.46,138.46 L121.93,138.66 L122.39,138.88 L122.83,139.12 L123.24,139.39 L123.65,139.69 L124.03,140 L124.41,140.33 L124.77,140.68 L125.13,141.04 L125.47,141.42 L125.82,141.8 L126.15,142.19 L126.48,142.59 L126.82,143 L127.15,143.4 L127.49,143.8 L127.82,144.21 L128.17,144.61 L128.52,145 L128.88,145.38 L129.25,145.76 L129.64,146.12 L130.03,146.47 L130.45,146.8 L130.88,147.11 L131.33,147.41 L131.8,147.68 L132.29,147.92 L132.81,148.14 L133.35,148.34 L133.92,148.5 L134.52,148.63 L135.14,148.72 L135.81,148.78 L136.5,148.8 L196.2,148.9" fill="none" stroke="#c4c4c4" stroke-width="1.8"/>
<line x1="197.3" y1="115.1" x2="196.58" y2="120.05" stroke="#2150a6" stroke-width="1.2"/>
<line x1="201.01" y1="116.22" x2="198.84" y2="120.73" stroke="#2150a6" stroke-width="1.2"/>
<line x1="204.31" y1="118.29" x2="201.31" y2="122.29" stroke="#2150a6" stroke-width="1.2"/>
<line x1="207.31" y1="120.78" x2="204.03" y2="124.55" stroke="#2150a6" stroke-width="1.2"/>
<line x1="210.31" y1="123.27" x2="207.3" y2="127.26" stroke="#2150a6" stroke-width="1.2"/>
<line x1="213.68" y1="125.22" x2="211.83" y2="129.86" stroke="#2150a6" stroke-width="1.2"/>
<line x1="197.69" y1="148.79" x2="196.96" y2="143.85" stroke="#2150a6" stroke-width="1.2"/>
<line x1="201.39" y1="147.61" x2="199.2" y2="143.12" stroke="#2150a6" stroke-width="1.2"/>
<line x1="204.66" y1="145.49" x2="201.58" y2="141.55" stroke="#2150a6" stroke-width="1.2"/>
<line x1="207.65" y1="142.99" x2="204.39" y2="139.2" stroke="#2150a6" stroke-width="1.2"/>
<line x1="210.69" y1="140.56" x2="207.83" y2="136.46" stroke="#2150a6" stroke-width="1.2"/>
<path d="M195.8,115 L196.48,115.02 L197.14,115.08 L197.79,115.17 L198.41,115.3 L199.02,115.46 L199.62,115.64 L200.2,115.86 L200.77,116.1 L201.32,116.37 L201.86,116.66 L202.39,116.97 L202.91,117.29 L203.42,117.64 L203.92,118 L204.42,118.36 L204.9,118.74 L205.38,119.13 L205.85,119.53 L206.32,119.92 L206.79,120.32 L207.25,120.73 L207.71,121.13 L208.17,121.52 L208.62,121.91 L209.08,122.29 L209.54,122.67 L210,123.03 L210.46,123.38 L210.93,123.71 L211.4,124.03 L211.87,124.32 L212.35,124.6 L212.84,124.85 L213.33,125.08 L213.83,125.28 L214.35,125.45 L214.87,125.59 L215.4,125.69 L215.94,125.77 L216.5,125.8 L223,125.8" fill="none" stroke="#2150a6" stroke-width="2.2"/>
<path d="M196.2,148.9 L196.85,148.88 L197.49,148.82 L198.1,148.73 L198.7,148.61 L199.29,148.45 L199.86,148.27 L200.42,148.06 L200.97,147.82 L201.51,147.56 L202.03,147.27 L202.54,146.97 L203.05,146.65 L203.54,146.32 L204.03,145.97 L204.51,145.6 L204.99,145.23 L205.46,144.85 L205.92,144.47 L206.38,144.08 L206.84,143.69 L207.29,143.3 L207.74,142.91 L208.2,142.52 L208.65,142.14 L209.1,141.77 L209.56,141.4 L210.01,141.05 L210.47,140.71 L210.93,140.39 L211.4,140.08 L211.87,139.8 L212.35,139.53 L212.84,139.29 L213.33,139.07 L213.84,138.88 L214.35,138.72 L214.87,138.59 L215.4,138.49 L215.94,138.43 L216.5,138.4 L223,138.4" fill="none" stroke="#2150a6" stroke-width="2.2"/>
<line x1="216.4" y1="125.8" x2="216.4" y2="131.4" stroke="#2150a6" stroke-width="1.3"/><line x1="216.4" y1="132.8" x2="216.4" y2="138.4" stroke="#2150a6" stroke-width="1.3"/>
<line x1="221.2" y1="125.8" x2="221.2" y2="131.4" stroke="#2150a6" stroke-width="1.3"/><line x1="221.2" y1="132.8" x2="221.2" y2="138.4" stroke="#2150a6" stroke-width="1.3"/>
<line x1="138.3" y1="137.3" x2="138.3" y2="143.5" stroke="#c845bb" stroke-width="1.3"/>
<line x1="142.62" y1="137.3" x2="142.62" y2="143.5" stroke="#c845bb" stroke-width="1.3"/>
<line x1="146.94" y1="137.3" x2="146.94" y2="143.5" stroke="#c845bb" stroke-width="1.3"/>
<line x1="151.26" y1="137.3" x2="151.26" y2="143.5" stroke="#c845bb" stroke-width="1.3"/>
<line x1="155.58" y1="137.3" x2="155.58" y2="143.5" stroke="#c845bb" stroke-width="1.3"/>
<line x1="159.9" y1="137.3" x2="159.9" y2="143.5" stroke="#c845bb" stroke-width="1.3"/>
<line x1="164.22" y1="137.3" x2="164.22" y2="143.5" stroke="#c845bb" stroke-width="1.3"/>
<line x1="168.54" y1="137.3" x2="168.54" y2="143.5" stroke="#c845bb" stroke-width="1.3"/>
<line x1="172.86" y1="137.3" x2="172.86" y2="143.5" stroke="#c845bb" stroke-width="1.3"/>
<line x1="177.18" y1="137.3" x2="177.18" y2="143.5" stroke="#c845bb" stroke-width="1.3"/>
<line x1="181.5" y1="137.3" x2="181.5" y2="143.5" stroke="#c845bb" stroke-width="1.3"/>
<line x1="185.82" y1="137.3" x2="185.82" y2="143.5" stroke="#c845bb" stroke-width="1.3"/>
<line x1="190.14" y1="137.3" x2="190.14" y2="143.5" stroke="#c845bb" stroke-width="1.3"/>
<line x1="194.46" y1="137.3" x2="194.46" y2="143.5" stroke="#c845bb" stroke-width="1.3"/>
<line x1="201" y1="70.4" x2="211.8" y2="70.4" stroke="#d77fce" stroke-width="1.1"/>
<line x1="201" y1="74.08" x2="211.8" y2="74.08" stroke="#d77fce" stroke-width="1.1"/>
<line x1="201" y1="77.76" x2="211.8" y2="77.76" stroke="#d77fce" stroke-width="1.1"/>
<line x1="201" y1="81.44" x2="211.8" y2="81.44" stroke="#d77fce" stroke-width="1.1"/>
<line x1="201" y1="85.12" x2="211.8" y2="85.12" stroke="#d77fce" stroke-width="1.1"/>
<line x1="201" y1="88.8" x2="211.8" y2="88.8" stroke="#d77fce" stroke-width="1.1"/>
<line x1="201" y1="92.48" x2="211.8" y2="92.48" stroke="#d77fce" stroke-width="1.1"/>
<line x1="201" y1="96.16" x2="211.8" y2="96.16" stroke="#d77fce" stroke-width="1.1"/>
<line x1="201" y1="99.84" x2="211.8" y2="99.84" stroke="#d77fce" stroke-width="1.1"/>
<line x1="201" y1="103.52" x2="211.8" y2="103.52" stroke="#d77fce" stroke-width="1.1"/>
<path d="M136,137.3 L197.5,137.3 Q201,137.3 201,133.8 L201,64.4 A5.4,5.4 0 0 1 211.8,64.4 L211.8,107 Q211.8,111.2 216,111.2 L236.8,111.2" fill="none" stroke="#c845bb" stroke-width="1.6"/>
<g fill="none" stroke="#5a5a5a" stroke-width="0.75"><circle cx="185.6" cy="107.3" r="1.35"/><circle cx="182.5" cy="111.2" r="1.35"/><path d="M186.23,108.49 L188.4,112.6 L191.1,117.3 M183.81,111.51 L188.4,112.6 L194.3,114.2" stroke="#3d3d3d" stroke-width="1.1" stroke-linecap="round"/></g>
<g fill="none" stroke="#5a5a5a" stroke-width="0.75"><circle cx="184.7" cy="152" r="1.35"/><circle cx="187.6" cy="155.7" r="1.35"/><path d="M186.02,151.74 L189.8,151 L193.7,145.5 M188.17,154.48 L189.8,151 L196.1,148.9" stroke="#3d3d3d" stroke-width="1.1" stroke-linecap="round"/></g>
<line x1="209" y1="81.7" x2="266.8" y2="81.7" stroke="#2a2a2a" stroke-width="1.2"/>
<line x1="203.5" y1="116.3" x2="267.7" y2="116.3" stroke="#2a2a2a" stroke-width="1.2"/>
<text x="270.9" y="86.8" fill="#b65cb9" stroke="#b65cb9" stroke-width="0.05" textLength="41.09" lengthAdjust="spacingAndGlyphs"><tspan font-size="14">sgRNA</tspan></text>
<text x="270.22" y="120.4" fill="#2a5f9d" stroke="#2a5f9d" stroke-width="0.05" textLength="91.87" lengthAdjust="spacingAndGlyphs"><tspan font-size="14">PAM sequence</tspan></text>
<path d="M181.2,193.9 L181.45,170.6 L182.55,170.6 L182.8,193.9Z" fill="url(#shaft)"/><path d="M177.7,192.6 Q182,194.1 186.3,192.6 L182,201.4Z" fill="#444"/>
<path d="M186,303.4 L186.25,280.2 L187.35,280.2 L187.6,303.4Z" fill="url(#shaft)"/><path d="M182.5,302.1 Q186.8,303.6 191.1,302.1 L186.8,310.6Z" fill="#444"/>
<path d="M185.85,384 L186.1,356.5 L187.2,356.5 L187.45,384Z" fill="url(#shaft)"/><path d="M182.35,382.7 Q186.65,384.2 190.95,382.7 L186.65,390.6Z" fill="#444"/>
<path d="M186.1,517.4 L186.35,491.8 L187.45,491.8 L187.7,517.4Z" fill="url(#shaft)"/><path d="M182.6,516.1 Q186.9,517.6 191.2,516.1 L186.9,524.4Z" fill="#444"/>
<path d="M100,221 L99.5,221.2 L99,221.8 L98.5,222.76 L98,224 L97.5,225.45 L97,227" fill="none" stroke="#b5b5b5" stroke-width="1.8" stroke-opacity="1" stroke-linecap="round"/>
<path d="M97,227 L96.5,227.61 L96,228.2 L95.5,228.79 L95,229.35 L94.5,229.89 L94,230.4" fill="none" stroke="#b5b5b5" stroke-width="1.8" stroke-opacity="1" stroke-linecap="round"/>
<path d="M94,230.4 L93.5,230.87 L93,231.3 L92.5,231.69 L92,232.03 L91.5,232.31 L91,232.54" fill="none" stroke="#b5b5b5" stroke-width="1.8" stroke-opacity="1" stroke-linecap="round"/>
<path d="M91,232.54 L90.5,232.71 L90,232.82 L89.5,232.87 L89,232.85 L88.5,232.78 L88,232.65" fill="none" stroke="#b5b5b5" stroke-width="1.8" stroke-opacity="0.99" stroke-linecap="round"/>
<path d="M88,232.65 L87.5,232.46 L87,232.22 L86.5,231.92 L86,231.58 L85.5,231.18 L85,230.75" fill="none" stroke="#b5b5b5" stroke-width="1.8" stroke-opacity="0.99" stroke-linecap="round"/>
<path d="M85,230.75 L84.5,230.28 L84,229.78 L83.5,229.25 L83,228.71 L82.5,228.14 L82,227.57" fill="none" stroke="#b5b5b5" stroke-width="1.8" stroke-opacity="0.98" stroke-linecap="round"/>
<path d="M82,227.57 L81.5,227 L81,226.43 L80.5,225.87 L80,225.33 L79.5,224.8 L79,224.3" fill="none" stroke="#b5b5b5" stroke-width="1.8" stroke-opacity="0.97" stroke-linecap="round"/>
<path d="M79,224.3 L78.5,223.84 L78,223.4 L77.5,223.01 L77,222.67 L76.5,222.37 L76,222.12" fill="none" stroke="#b5b5b5" stroke-width="1.8" stroke-opacity="0.96" stroke-linecap="round"/>
<path d="M76,222.12 L75.5,221.92 L75,221.78 L74.5,221.69 L74,221.66 L73.5,221.68 L73,221.76" fill="none" stroke="#b5b5b5" stroke-width="1.8" stroke-opacity="0.95" stroke-linecap="round"/>
<path d="M73,221.76 L72.5,221.89 L72,222.07 L71.5,222.3 L71,222.58 L70.5,222.9 L70,223.26" fill="none" stroke="#b5b5b5" stroke-width="1.8" stroke-opacity="0.93" stroke-linecap="round"/>
<path d="M70,223.26 L69.5,223.66 L69,224.08 L68.5,224.53 L68,225.01 L67.5,225.49 L67,225.99" fill="none" stroke="#b5b5b5" stroke-width="1.8" stroke-opacity="0.92" stroke-linecap="round"/>
<path d="M67,225.99 L66.5,226.5 L66,227 L65.5,227.5 L65,227.98 L64.5,228.46 L64,228.91" fill="none" stroke="#b5b5b5" stroke-width="1.8" stroke-opacity="0.9" stroke-linecap="round"/>
<path d="M64,228.91 L63.5,229.33 L63,229.73 L62.5,230.09 L62,230.42 L61.5,230.7 L61,230.95" fill="none" stroke="#b5b5b5" stroke-width="1.8" stroke-opacity="0.88" stroke-linecap="round"/>
<path d="M61,230.95 L60.5,231.15 L60,231.3 L59.5,231.41 L59,231.47 L58.5,231.49 L58,231.45" fill="none" stroke="#b5b5b5" stroke-width="1.8" stroke-opacity="0.85" stroke-linecap="round"/>
<path d="M58,231.45 L57.5,231.38 L57,231.25 L56.5,231.09 L56,230.88 L55.5,230.64 L55,230.37" fill="none" stroke="#b5b5b5" stroke-width="1.8" stroke-opacity="0.83" stroke-linecap="round"/>
<path d="M55,230.37 L54.5,230.06 L54,229.73 L53.5,229.37 L53,229 L52.5,228.61 L52,228.21" fill="none" stroke="#b5b5b5" stroke-width="1.8" stroke-opacity="0.8" stroke-linecap="round"/>
<path d="M52,228.21 L51.5,227.81 L51,227.4 L50.5,227 L50,226.61 L49.5,226.22 L49,225.86" fill="none" stroke="#b5b5b5" stroke-width="1.8" stroke-opacity="0.77" stroke-linecap="round"/>
<path d="M49,225.86 L48.5,225.51 L48,225.19 L47.5,224.89 L47,224.62 L46.5,224.38 L46,224.17" fill="none" stroke="#b5b5b5" stroke-width="1.8" stroke-opacity="0.73" stroke-linecap="round"/>
<path d="M46,224.17 L45.5,224 L45,223.86 L44.5,223.76 L44,223.69 L43.5,223.66 L43,223.67" fill="none" stroke="#b5b5b5" stroke-width="1.8" stroke-opacity="0.7" stroke-linecap="round"/>
<path d="M43,223.67 L42.5,223.71 L42,223.79 L41.5,223.9 L41,224.04 L40.5,224.2 L40,224.39" fill="none" stroke="#b5b5b5" stroke-width="1.8" stroke-opacity="0.66" stroke-linecap="round"/>
<path d="M40,224.39 L39.5,224.6 L39,224.84 L38.5,225.08 L38,225.35 L37.5,225.62 L37,225.89" fill="none" stroke="#b5b5b5" stroke-width="1.8" stroke-opacity="0.62" stroke-linecap="round"/>
<path d="M37,225.89 L36.5,226.17 L36,226.45 L35.5,226.73 L35,227 L34.5,227.26 L34,227.51" fill="none" stroke="#b5b5b5" stroke-width="1.8" stroke-opacity="0.57" stroke-linecap="round"/>
<path d="M34,227.51 L33.5,227.74 L33,227.96 L32.5,228.16 L32,228.33 L31.5,228.49 L31,228.62" fill="none" stroke="#b5b5b5" stroke-width="1.8" stroke-opacity="0.53" stroke-linecap="round"/>
<path d="M31,228.62 L30.5,228.73 L30,228.82 L29.5,228.88 L29,228.91 L28.5,228.93 L28,228.92" fill="none" stroke="#b5b5b5" stroke-width="1.8" stroke-opacity="0.48" stroke-linecap="round"/>
<path d="M28,228.92 L27.5,228.88 L27,228.83 L26.5,228.76 L26,228.68 L25.5,228.58 L25,228.46" fill="none" stroke="#b5b5b5" stroke-width="1.8" stroke-opacity="0.43" stroke-linecap="round"/>
<path d="M25,228.46 L24.5,228.34 L24,228.2 L23.5,228.07 L23,227.92 L22.5,227.78 L22,227.64" fill="none" stroke="#b5b5b5" stroke-width="1.8" stroke-opacity="0.38" stroke-linecap="round"/>
<path d="M22,227.64 L21.5,227.49 L21,227.36" fill="none" stroke="#b5b5b5" stroke-width="1.8" stroke-opacity="0.32" stroke-linecap="round"/>
<path d="M100,233 L99.5,232.56 L99,231.29 L98.5,229.39 L98,227.14 L97.5,224.87 L97,222.92" fill="none" stroke="#b5b5b5" stroke-width="1.3" stroke-opacity="1" stroke-linecap="round"/>
<path d="M97,222.92 L96.5,222.5 L96,222.13 L95.5,221.81 L95,221.54 L94.5,221.33 L94,221.18" fill="none" stroke="#b5b5b5" stroke-width="1.3" stroke-opacity="1" stroke-linecap="round"/>
<path d="M94,221.18 L93.5,221.09 L93,221.06 L92.5,221.09 L92,221.19 L91.5,221.34 L91,221.55" fill="none" stroke="#b5b5b5" stroke-width="1.3" stroke-opacity="1" stroke-linecap="round"/>
<path d="M91,221.55 L90.5,221.82 L90,222.14 L89.5,222.51 L89,222.92 L88.5,223.37 L88,223.86" fill="none" stroke="#b5b5b5" stroke-width="1.3" stroke-opacity="0.99" stroke-linecap="round"/>
<path d="M88,223.86 L87.5,224.38 L87,224.93 L86.5,225.49 L86,226.07 L85.5,226.65 L85,227.23" fill="none" stroke="#b5b5b5" stroke-width="1.3" stroke-opacity="0.99" stroke-linecap="round"/>
<path d="M85,227.23 L84.5,227.81 L84,228.38 L83.5,228.93 L83,229.46 L82.5,229.96 L82,230.42" fill="none" stroke="#b5b5b5" stroke-width="1.3" stroke-opacity="0.98" stroke-linecap="round"/>
<path d="M82,230.42 L81.5,230.85 L81,231.24 L80.5,231.57 L80,231.86 L79.5,232.1 L79,232.29" fill="none" stroke="#b5b5b5" stroke-width="1.3" stroke-opacity="0.97" stroke-linecap="round"/>
<path d="M79,232.29 L78.5,232.41 L78,232.49 L77.5,232.5 L77,232.46 L76.5,232.36 L76,232.2" fill="none" stroke="#b5b5b5" stroke-width="1.3" stroke-opacity="0.96" stroke-linecap="round"/>
<path d="M76,232.2 L75.5,232 L75,231.74 L74.5,231.44 L74,231.09 L73.5,230.71 L73,230.29" fill="none" stroke="#b5b5b5" stroke-width="1.3" stroke-opacity="0.95" stroke-linecap="round"/>
<path d="M73,230.29 L72.5,229.84 L72,229.36 L71.5,228.87 L71,228.36 L70.5,227.84 L70,227.31" fill="none" stroke="#b5b5b5" stroke-width="1.3" stroke-opacity="0.93" stroke-linecap="round"/>
<path d="M70,227.31 L69.5,226.79 L69,226.28 L68.5,225.78 L68,225.29 L67.5,224.83 L67,224.4" fill="none" stroke="#b5b5b5" stroke-width="1.3" stroke-opacity="0.92" stroke-linecap="round"/>
<path d="M67,224.4 L66.5,223.99 L66,223.63 L65.5,223.3 L65,223.01 L64.5,222.77 L64,222.58" fill="none" stroke="#b5b5b5" stroke-width="1.3" stroke-opacity="0.9" stroke-linecap="round"/>
<path d="M64,222.58 L63.5,222.43 L63,222.33 L62.5,222.28 L62,222.29 L61.5,222.34 L61,222.43" fill="none" stroke="#b5b5b5" stroke-width="1.3" stroke-opacity="0.88" stroke-linecap="round"/>
<path d="M61,222.43 L60.5,222.58 L60,222.76 L59.5,222.99 L59,223.26 L58.5,223.56 L58,223.89" fill="none" stroke="#b5b5b5" stroke-width="1.3" stroke-opacity="0.85" stroke-linecap="round"/>
<path d="M58,223.89 L57.5,224.25 L57,224.64 L56.5,225.04 L56,225.46 L55.5,225.88 L55,226.31" fill="none" stroke="#b5b5b5" stroke-width="1.3" stroke-opacity="0.83" stroke-linecap="round"/>
<path d="M55,226.31 L54.5,226.74 L54,227.17 L53.5,227.59 L53,227.99 L52.5,228.38 L52,228.74" fill="none" stroke="#b5b5b5" stroke-width="1.3" stroke-opacity="0.8" stroke-linecap="round"/>
<path d="M52,228.74 L51.5,229.08 L51,229.4 L50.5,229.68 L50,229.93 L49.5,230.14 L49,230.32" fill="none" stroke="#b5b5b5" stroke-width="1.3" stroke-opacity="0.77" stroke-linecap="round"/>
<path d="M49,230.32 L48.5,230.46 L48,230.56 L47.5,230.62 L47,230.64 L46.5,230.62 L46,230.57" fill="none" stroke="#b5b5b5" stroke-width="1.3" stroke-opacity="0.73" stroke-linecap="round"/>
<path d="M46,230.57 L45.5,230.47 L45,230.35 L44.5,230.19 L44,230 L43.5,229.79 L43,229.55" fill="none" stroke="#b5b5b5" stroke-width="1.3" stroke-opacity="0.7" stroke-linecap="round"/>
<path d="M43,229.55 L42.5,229.29 L42,229.01 L41.5,228.72 L41,228.42 L40.5,228.11 L40,227.8" fill="none" stroke="#b5b5b5" stroke-width="1.3" stroke-opacity="0.66" stroke-linecap="round"/>
<path d="M40,227.8 L39.5,227.49 L39,227.18 L38.5,226.88 L38,226.59 L37.5,226.31 L37,226.05" fill="none" stroke="#b5b5b5" stroke-width="1.3" stroke-opacity="0.62" stroke-linecap="round"/>
<path d="M37,226.05 L36.5,225.81 L36,225.59 L35.5,225.39 L35,225.21 L34.5,225.06 L34,224.94" fill="none" stroke="#b5b5b5" stroke-width="1.3" stroke-opacity="0.57" stroke-linecap="round"/>
<path d="M34,224.94 L33.5,224.84 L33,224.78 L32.5,224.73 L32,224.72 L31.5,224.73 L31,224.76" fill="none" stroke="#b5b5b5" stroke-width="1.3" stroke-opacity="0.53" stroke-linecap="round"/>
<path d="M31,224.76 L30.5,224.82 L30,224.9 L29.5,225 L29,225.12 L28.5,225.25 L28,225.4" fill="none" stroke="#b5b5b5" stroke-width="1.3" stroke-opacity="0.48" stroke-linecap="round"/>
<path d="M28,225.4 L27.5,225.56 L27,225.72 L26.5,225.89 L26,226.07 L25.5,226.24 L25,226.42" fill="none" stroke="#b5b5b5" stroke-width="1.3" stroke-opacity="0.43" stroke-linecap="round"/>
<path d="M25,226.42 L24.5,226.59 L24,226.75 L23.5,226.91 L23,227.06 L22.5,227.19 L22,227.32" fill="none" stroke="#b5b5b5" stroke-width="1.3" stroke-opacity="0.38" stroke-linecap="round"/>
<path d="M22,227.32 L21.5,227.42 L21,227.52" fill="none" stroke="#b5b5b5" stroke-width="1.3" stroke-opacity="0.32" stroke-linecap="round"/>
<line x1="94.5" y1="222.13" x2="94.5" y2="229.09" stroke="#cdcdcd" stroke-width="1" stroke-opacity="1"/>
<line x1="90.9" y1="222.4" x2="90.9" y2="231.77" stroke="#cdcdcd" stroke-width="1" stroke-opacity="0.99"/>
<line x1="87.3" y1="225.4" x2="87.3" y2="231.57" stroke="#cdcdcd" stroke-width="1" stroke-opacity="0.99"/>
<line x1="80.1" y1="226.23" x2="80.1" y2="231.01" stroke="#cdcdcd" stroke-width="1" stroke-opacity="0.97"/>
<line x1="76.5" y1="223.17" x2="76.5" y2="231.56" stroke="#cdcdcd" stroke-width="1" stroke-opacity="0.95"/>
<line x1="72.9" y1="222.58" x2="72.9" y2="229.4" stroke="#cdcdcd" stroke-width="1" stroke-opacity="0.93"/>
<line x1="62.1" y1="223.08" x2="62.1" y2="229.55" stroke="#cdcdcd" stroke-width="1" stroke-opacity="0.86"/>
<line x1="58.5" y1="224.36" x2="58.5" y2="230.69" stroke="#cdcdcd" stroke-width="1" stroke-opacity="0.83"/>
<line x1="47.7" y1="225.8" x2="47.7" y2="229.8" stroke="#cdcdcd" stroke-width="1" stroke-opacity="0.72"/>
<line x1="44.1" y1="224.5" x2="44.1" y2="229.24" stroke="#cdcdcd" stroke-width="1" stroke-opacity="0.67"/>
<line x1="102" y1="221" x2="102" y2="227" stroke="#bcbcbc" stroke-width="1.4"/>
<line x1="102" y1="227" x2="102" y2="233" stroke="#d6d6d6" stroke-width="1.4"/>
<line x1="106.3" y1="221" x2="106.3" y2="227" stroke="#bcbcbc" stroke-width="1.4"/>
<line x1="106.3" y1="227" x2="106.3" y2="233" stroke="#d6d6d6" stroke-width="1.4"/>
<line x1="110.6" y1="221" x2="110.6" y2="227" stroke="#bcbcbc" stroke-width="1.4"/>
<line x1="110.6" y1="227" x2="110.6" y2="233" stroke="#d6d6d6" stroke-width="1.4"/>
<line x1="114.9" y1="221" x2="114.9" y2="227" stroke="#bcbcbc" stroke-width="1.4"/>
<line x1="114.9" y1="227" x2="114.9" y2="233" stroke="#d6d6d6" stroke-width="1.4"/>
<line x1="119.2" y1="221" x2="119.2" y2="227" stroke="#bcbcbc" stroke-width="1.4"/>
<line x1="119.2" y1="227" x2="119.2" y2="233" stroke="#d6d6d6" stroke-width="1.4"/>
<line x1="123.5" y1="221" x2="123.5" y2="227" stroke="#bcbcbc" stroke-width="1.4"/>
<line x1="123.5" y1="227" x2="123.5" y2="233" stroke="#d6d6d6" stroke-width="1.4"/>
<line x1="127.8" y1="221" x2="127.8" y2="227" stroke="#bcbcbc" stroke-width="1.4"/>
<line x1="127.8" y1="227" x2="127.8" y2="233" stroke="#d6d6d6" stroke-width="1.4"/>
<line x1="132.1" y1="221" x2="132.1" y2="227" stroke="#bcbcbc" stroke-width="1.4"/>
<line x1="132.1" y1="227" x2="132.1" y2="233" stroke="#d6d6d6" stroke-width="1.4"/>
<line x1="136.4" y1="221" x2="136.4" y2="227" stroke="#bcbcbc" stroke-width="1.4"/>
<line x1="136.4" y1="227" x2="136.4" y2="233" stroke="#d6d6d6" stroke-width="1.4"/>
<line x1="140.7" y1="221" x2="140.7" y2="227" stroke="#bcbcbc" stroke-width="1.4"/>
<line x1="140.7" y1="227" x2="140.7" y2="233" stroke="#d6d6d6" stroke-width="1.4"/>
<line x1="145" y1="221" x2="145" y2="227" stroke="#bcbcbc" stroke-width="1.4"/>
<line x1="145" y1="227" x2="145" y2="233" stroke="#d6d6d6" stroke-width="1.4"/>
<line x1="100" y1="221" x2="147" y2="221" stroke="#b3b3b3" stroke-width="1.8"/>
<line x1="100" y1="233" x2="147" y2="233" stroke="#c6c6c6" stroke-width="1.8"/>
<line x1="149" y1="221" x2="149" y2="227" stroke="#2a7f2a" stroke-width="1.4"/>
<line x1="149" y1="227" x2="149" y2="233" stroke="#6fb23a" stroke-width="1.4"/>
<line x1="153.45" y1="221" x2="153.45" y2="227" stroke="#2a7f2a" stroke-width="1.4"/>
<line x1="153.45" y1="227" x2="153.45" y2="233" stroke="#6fb23a" stroke-width="1.4"/>
<line x1="157.9" y1="221" x2="157.9" y2="227" stroke="#2a7f2a" stroke-width="1.4"/>
<line x1="157.9" y1="227" x2="157.9" y2="233" stroke="#6fb23a" stroke-width="1.4"/>
<line x1="162.35" y1="221" x2="162.35" y2="227" stroke="#2a7f2a" stroke-width="1.4"/>
<line x1="162.35" y1="227" x2="162.35" y2="233" stroke="#6fb23a" stroke-width="1.4"/>
<line x1="166.8" y1="221" x2="166.8" y2="227" stroke="#2a7f2a" stroke-width="1.4"/>
<line x1="166.8" y1="227" x2="166.8" y2="233" stroke="#6fb23a" stroke-width="1.4"/>
<line x1="147" y1="221" x2="168.8" y2="221" stroke="#217a21" stroke-width="1.8"/>
<line x1="147" y1="233" x2="168.8" y2="233" stroke="#4f9e16" stroke-width="1.8"/>
<line x1="197.6" y1="221" x2="197.6" y2="227" stroke="#1d6e84" stroke-width="1.4"/>
<line x1="197.6" y1="227" x2="197.6" y2="233" stroke="#4a9db0" stroke-width="1.4"/>
<line x1="201.85" y1="221" x2="201.85" y2="227" stroke="#1d6e84" stroke-width="1.4"/>
<line x1="201.85" y1="227" x2="201.85" y2="233" stroke="#4a9db0" stroke-width="1.4"/>
<line x1="206.1" y1="221" x2="206.1" y2="227" stroke="#1d6e84" stroke-width="1.4"/>
<line x1="206.1" y1="227" x2="206.1" y2="233" stroke="#4a9db0" stroke-width="1.4"/>
<line x1="210.35" y1="221" x2="210.35" y2="227" stroke="#1d6e84" stroke-width="1.4"/>
<line x1="210.35" y1="227" x2="210.35" y2="233" stroke="#4a9db0" stroke-width="1.4"/>
<line x1="214.6" y1="221" x2="214.6" y2="227" stroke="#1d6e84" stroke-width="1.4"/>
<line x1="214.6" y1="227" x2="214.6" y2="233" stroke="#4a9db0" stroke-width="1.4"/>
<line x1="195.6" y1="221" x2="216.6" y2="221" stroke="#1a6b80" stroke-width="1.8"/>
<line x1="195.6" y1="233" x2="216.6" y2="233" stroke="#1f7890" stroke-width="1.8"/>
<line x1="218.6" y1="221" x2="218.6" y2="227" stroke="#bcbcbc" stroke-width="1.4"/>
<line x1="218.6" y1="227" x2="218.6" y2="233" stroke="#d6d6d6" stroke-width="1.4"/>
<line x1="223.09" y1="221" x2="223.09" y2="227" stroke="#bcbcbc" stroke-width="1.4"/>
<line x1="223.09" y1="227" x2="223.09" y2="233" stroke="#d6d6d6" stroke-width="1.4"/>
<line x1="227.58" y1="221" x2="227.58" y2="227" stroke="#bcbcbc" stroke-width="1.4"/>
<line x1="227.58" y1="227" x2="227.58" y2="233" stroke="#d6d6d6" stroke-width="1.4"/>
<line x1="232.07" y1="221" x2="232.07" y2="227" stroke="#bcbcbc" stroke-width="1.4"/>
<line x1="232.07" y1="227" x2="232.07" y2="233" stroke="#d6d6d6" stroke-width="1.4"/>
<line x1="236.56" y1="221" x2="236.56" y2="227" stroke="#bcbcbc" stroke-width="1.4"/>
<line x1="236.56" y1="227" x2="236.56" y2="233" stroke="#d6d6d6" stroke-width="1.4"/>
<line x1="241.04" y1="221" x2="241.04" y2="227" stroke="#bcbcbc" stroke-width="1.4"/>
<line x1="241.04" y1="227" x2="241.04" y2="233" stroke="#d6d6d6" stroke-width="1.4"/>
<line x1="245.53" y1="221" x2="245.53" y2="227" stroke="#bcbcbc" stroke-width="1.4"/>
<line x1="245.53" y1="227" x2="245.53" y2="233" stroke="#d6d6d6" stroke-width="1.4"/>
<line x1="250.02" y1="221" x2="250.02" y2="227" stroke="#bcbcbc" stroke-width="1.4"/>
<line x1="250.02" y1="227" x2="250.02" y2="233" stroke="#d6d6d6" stroke-width="1.4"/>
<line x1="254.51" y1="221" x2="254.51" y2="227" stroke="#bcbcbc" stroke-width="1.4"/>
<line x1="254.51" y1="227" x2="254.51" y2="233" stroke="#d6d6d6" stroke-width="1.4"/>
<line x1="259" y1="221" x2="259" y2="227" stroke="#bcbcbc" stroke-width="1.4"/>
<line x1="259" y1="227" x2="259" y2="233" stroke="#d6d6d6" stroke-width="1.4"/>
<line x1="216.6" y1="221" x2="261" y2="221" stroke="#b3b3b3" stroke-width="1.8"/>
<line x1="216.6" y1="233" x2="261" y2="233" stroke="#c6c6c6" stroke-width="1.8"/>
<path d="M261,221 L261.5,221.2 L262,221.8 L262.5,222.76 L263,224 L263.5,225.45 L264,227" fill="none" stroke="#b5b5b5" stroke-width="1.8" stroke-opacity="1" stroke-linecap="round"/>
<path d="M264,227 L264.5,227.61 L265,228.2 L265.5,228.79 L266,229.35 L266.5,229.89 L267,230.4" fill="none" stroke="#b5b5b5" stroke-width="1.8" stroke-opacity="1" stroke-linecap="round"/>
<path d="M267,230.4 L267.5,230.88 L268,231.31 L268.5,231.69 L269,232.03 L269.5,232.31 L270,232.54" fill="none" stroke="#b5b5b5" stroke-width="1.8" stroke-opacity="1" stroke-linecap="round"/>
<path d="M270,232.54 L270.5,232.71 L271,232.82 L271.5,232.87 L272,232.86 L272.5,232.79 L273,232.66" fill="none" stroke="#b5b5b5" stroke-width="1.8" stroke-opacity="0.99" stroke-linecap="round"/>
<path d="M273,232.66 L273.5,232.47 L274,232.23 L274.5,231.93 L275,231.59 L275.5,231.19 L276,230.76" fill="none" stroke="#b5b5b5" stroke-width="1.8" stroke-opacity="0.99" stroke-linecap="round"/>
<path d="M276,230.76 L276.5,230.29 L277,229.79 L277.5,229.26 L278,228.71 L278.5,228.15 L279,227.58" fill="none" stroke="#b5b5b5" stroke-width="1.8" stroke-opacity="0.98" stroke-linecap="round"/>
<path d="M279,227.58 L279.5,227 L280,226.43 L280.5,225.87 L281,225.32 L281.5,224.79 L282,224.29" fill="none" stroke="#b5b5b5" stroke-width="1.8" stroke-opacity="0.98" stroke-linecap="round"/>
<path d="M282,224.29 L282.5,223.82 L283,223.38 L283.5,222.99 L284,222.64 L284.5,222.34 L285,222.09" fill="none" stroke="#b5b5b5" stroke-width="1.8" stroke-opacity="0.97" stroke-linecap="round"/>
<path d="M285,222.09 L285.5,221.89 L286,221.74 L286.5,221.65 L287,221.61 L287.5,221.64 L288,221.71" fill="none" stroke="#b5b5b5" stroke-width="1.8" stroke-opacity="0.95" stroke-linecap="round"/>
<path d="M288,221.71 L288.5,221.84 L289,222.02 L289.5,222.26 L290,222.54 L290.5,222.86 L291,223.22" fill="none" stroke="#b5b5b5" stroke-width="1.8" stroke-opacity="0.94" stroke-linecap="round"/>
<path d="M291,223.22 L291.5,223.62 L292,224.05 L292.5,224.5 L293,224.98 L293.5,225.48 L294,225.98" fill="none" stroke="#b5b5b5" stroke-width="1.8" stroke-opacity="0.92" stroke-linecap="round"/>
<path d="M294,225.98 L294.5,226.49 L295,227 L295.5,227.5 L296,228 L296.5,228.48 L297,228.94" fill="none" stroke="#b5b5b5" stroke-width="1.8" stroke-opacity="0.91" stroke-linecap="round"/>
<path d="M297,228.94 L297.5,229.37 L298,229.77 L298.5,230.14 L299,230.48 L299.5,230.77 L300,231.02" fill="none" stroke="#b5b5b5" stroke-width="1.8" stroke-opacity="0.89" stroke-linecap="round"/>
<path d="M300,231.02 L300.5,231.23 L301,231.39 L301.5,231.5 L302,231.57 L302.5,231.59 L303,231.55" fill="none" stroke="#b5b5b5" stroke-width="1.8" stroke-opacity="0.86" stroke-linecap="round"/>
<path d="M303,231.55 L303.5,231.48 L304,231.35 L304.5,231.19 L305,230.98 L305.5,230.74 L306,230.46" fill="none" stroke="#b5b5b5" stroke-width="1.8" stroke-opacity="0.84" stroke-linecap="round"/>
<path d="M306,230.46 L306.5,230.14 L307,229.8 L307.5,229.44 L308,229.06 L308.5,228.66 L309,228.25" fill="none" stroke="#b5b5b5" stroke-width="1.8" stroke-opacity="0.81" stroke-linecap="round"/>
<path d="M309,228.25 L309.5,227.83 L310,227.41 L310.5,227 L311,226.59 L311.5,226.2 L312,225.82" fill="none" stroke="#b5b5b5" stroke-width="1.8" stroke-opacity="0.78" stroke-linecap="round"/>
<path d="M312,225.82 L312.5,225.45 L313,225.11 L313.5,224.8 L314,224.52 L314.5,224.26 L315,224.04" fill="none" stroke="#b5b5b5" stroke-width="1.8" stroke-opacity="0.75" stroke-linecap="round"/>
<path d="M315,224.04 L315.5,223.86 L316,223.71 L316.5,223.6 L317,223.53 L317.5,223.5 L318,223.5" fill="none" stroke="#b5b5b5" stroke-width="1.8" stroke-opacity="0.72" stroke-linecap="round"/>
<path d="M318,223.5 L318.5,223.54 L319,223.61 L319.5,223.72 L320,223.86 L320.5,224.03 L321,224.23" fill="none" stroke="#b5b5b5" stroke-width="1.8" stroke-opacity="0.69" stroke-linecap="round"/>
<path d="M321,224.23 L321.5,224.45 L322,224.69 L322.5,224.95 L323,225.23 L323.5,225.52 L324,225.81" fill="none" stroke="#b5b5b5" stroke-width="1.8" stroke-opacity="0.65" stroke-linecap="round"/>
<path d="M324,225.81 L324.5,226.11 L325,226.41 L325.5,226.71 L326,227 L326.5,227.28 L327,227.55" fill="none" stroke="#b5b5b5" stroke-width="1.8" stroke-opacity="0.61" stroke-linecap="round"/>
<path d="M327,227.55 L327.5,227.81 L328,228.05 L328.5,228.27 L329,228.47 L329.5,228.65 L330,228.8" fill="none" stroke="#b5b5b5" stroke-width="1.8" stroke-opacity="0.57" stroke-linecap="round"/>
<path d="M330,228.8 L330.5,228.93 L331,229.03 L331.5,229.1 L332,229.15 L332.5,229.18 L333,229.18" fill="none" stroke="#b5b5b5" stroke-width="1.8" stroke-opacity="0.52" stroke-linecap="round"/>
<path d="M333,229.18 L333.5,229.15 L334,229.1 L334.5,229.03 L335,228.95 L335.5,228.84 L336,228.72" fill="none" stroke="#b5b5b5" stroke-width="1.8" stroke-opacity="0.47" stroke-linecap="round"/>
<path d="M336,228.72 L336.5,228.58 L337,228.43 L337.5,228.28 L338,228.12 L338.5,227.95 L339,227.78" fill="none" stroke="#b5b5b5" stroke-width="1.8" stroke-opacity="0.42" stroke-linecap="round"/>
<path d="M339,227.78 L339.5,227.62 L340,227.45 L340.5,227.29 L341,227.14 L341.5,227 L342,226.87" fill="none" stroke="#b5b5b5" stroke-width="1.8" stroke-opacity="0.37" stroke-linecap="round"/>
<path d="M342,226.87 L342.5,226.75 L343,226.64" fill="none" stroke="#b5b5b5" stroke-width="1.8" stroke-opacity="0.32" stroke-linecap="round"/>
<path d="M261,233 L261.5,232.56 L262,231.29 L262.5,229.39 L263,227.14 L263.5,224.87 L264,222.92" fill="none" stroke="#b5b5b5" stroke-width="1.3" stroke-opacity="1" stroke-linecap="round"/>
<path d="M264,222.92 L264.5,222.5 L265,222.13 L265.5,221.81 L266,221.54 L266.5,221.33 L267,221.18" fill="none" stroke="#b5b5b5" stroke-width="1.3" stroke-opacity="1" stroke-linecap="round"/>
<path d="M267,221.18 L267.5,221.09 L268,221.06 L268.5,221.09 L269,221.18 L269.5,221.34 L270,221.55" fill="none" stroke="#b5b5b5" stroke-width="1.3" stroke-opacity="1" stroke-linecap="round"/>
<path d="M270,221.55 L270.5,221.81 L271,222.13 L271.5,222.5 L272,222.91 L272.5,223.37 L273,223.86" fill="none" stroke="#b5b5b5" stroke-width="1.3" stroke-opacity="0.99" stroke-linecap="round"/>
<path d="M273,223.86 L273.5,224.38 L274,224.92 L274.5,225.49 L275,226.06 L275.5,226.65 L276,227.23" fill="none" stroke="#b5b5b5" stroke-width="1.3" stroke-opacity="0.99" stroke-linecap="round"/>
<path d="M276,227.23 L276.5,227.81 L277,228.38 L277.5,228.94 L278,229.47 L278.5,229.97 L279,230.44" fill="none" stroke="#b5b5b5" stroke-width="1.3" stroke-opacity="0.98" stroke-linecap="round"/>
<path d="M279,230.44 L279.5,230.87 L280,231.25 L280.5,231.6 L281,231.89 L281.5,232.13 L282,232.31" fill="none" stroke="#b5b5b5" stroke-width="1.3" stroke-opacity="0.98" stroke-linecap="round"/>
<path d="M282,232.31 L282.5,232.44 L283,232.52 L283.5,232.53 L284,232.49 L284.5,232.39 L285,232.24" fill="none" stroke="#b5b5b5" stroke-width="1.3" stroke-opacity="0.97" stroke-linecap="round"/>
<path d="M285,232.24 L285.5,232.03 L286,231.78 L286.5,231.47 L287,231.13 L287.5,230.74 L288,230.32" fill="none" stroke="#b5b5b5" stroke-width="1.3" stroke-opacity="0.95" stroke-linecap="round"/>
<path d="M288,230.32 L288.5,229.86 L289,229.38 L289.5,228.88 L290,228.37 L290.5,227.85 L291,227.32" fill="none" stroke="#b5b5b5" stroke-width="1.3" stroke-opacity="0.94" stroke-linecap="round"/>
<path d="M291,227.32 L291.5,226.79 L292,226.27 L292.5,225.76 L293,225.27 L293.5,224.8 L294,224.36" fill="none" stroke="#b5b5b5" stroke-width="1.3" stroke-opacity="0.92" stroke-linecap="round"/>
<path d="M294,224.36 L294.5,223.95 L295,223.58 L295.5,223.25 L296,222.96 L296.5,222.71 L297,222.51" fill="none" stroke="#b5b5b5" stroke-width="1.3" stroke-opacity="0.91" stroke-linecap="round"/>
<path d="M297,222.51 L297.5,222.36 L298,222.26 L298.5,222.2 L299,222.2 L299.5,222.25 L300,222.35" fill="none" stroke="#b5b5b5" stroke-width="1.3" stroke-opacity="0.89" stroke-linecap="round"/>
<path d="M300,222.35 L300.5,222.49 L301,222.68 L301.5,222.91 L302,223.18 L302.5,223.49 L303,223.82" fill="none" stroke="#b5b5b5" stroke-width="1.3" stroke-opacity="0.86" stroke-linecap="round"/>
<path d="M303,223.82 L303.5,224.19 L304,224.58 L304.5,224.99 L305,225.42 L305.5,225.85 L306,226.29" fill="none" stroke="#b5b5b5" stroke-width="1.3" stroke-opacity="0.84" stroke-linecap="round"/>
<path d="M306,226.29 L306.5,226.74 L307,227.17 L307.5,227.6 L308,228.02 L308.5,228.42 L309,228.8" fill="none" stroke="#b5b5b5" stroke-width="1.3" stroke-opacity="0.81" stroke-linecap="round"/>
<path d="M309,228.8 L309.5,229.15 L310,229.48 L310.5,229.77 L311,230.03 L311.5,230.26 L312,230.44" fill="none" stroke="#b5b5b5" stroke-width="1.3" stroke-opacity="0.78" stroke-linecap="round"/>
<path d="M312,230.44 L312.5,230.59 L313,230.7 L313.5,230.76 L314,230.79 L314.5,230.77 L315,230.72" fill="none" stroke="#b5b5b5" stroke-width="1.3" stroke-opacity="0.75" stroke-linecap="round"/>
<path d="M315,230.72 L315.5,230.63 L316,230.5 L316.5,230.34 L317,230.15 L317.5,229.93 L318,229.68" fill="none" stroke="#b5b5b5" stroke-width="1.3" stroke-opacity="0.72" stroke-linecap="round"/>
<path d="M318,229.68 L318.5,229.41 L319,229.12 L319.5,228.82 L320,228.5 L320.5,228.18 L321,227.85" fill="none" stroke="#b5b5b5" stroke-width="1.3" stroke-opacity="0.69" stroke-linecap="round"/>
<path d="M321,227.85 L321.5,227.52 L322,227.19 L322.5,226.87 L323,226.56 L323.5,226.26 L324,225.98" fill="none" stroke="#b5b5b5" stroke-width="1.3" stroke-opacity="0.65" stroke-linecap="round"/>
<path d="M324,225.98 L324.5,225.72 L325,225.48 L325.5,225.26 L326,225.06 L326.5,224.9 L327,224.76" fill="none" stroke="#b5b5b5" stroke-width="1.3" stroke-opacity="0.61" stroke-linecap="round"/>
<path d="M327,224.76 L327.5,224.65 L328,224.56 L328.5,224.51 L329,224.48 L329.5,224.49 L330,224.52" fill="none" stroke="#b5b5b5" stroke-width="1.3" stroke-opacity="0.57" stroke-linecap="round"/>
<path d="M330,224.52 L330.5,224.57 L331,224.65 L331.5,224.76 L332,224.88 L332.5,225.02 L333,225.18" fill="none" stroke="#b5b5b5" stroke-width="1.3" stroke-opacity="0.52" stroke-linecap="round"/>
<path d="M333,225.18 L333.5,225.35 L334,225.53 L334.5,225.72 L335,225.92 L335.5,226.12 L336,226.32" fill="none" stroke="#b5b5b5" stroke-width="1.3" stroke-opacity="0.47" stroke-linecap="round"/>
<path d="M336,226.32 L336.5,226.51 L337,226.71 L337.5,226.89 L338,227.07 L338.5,227.24 L339,227.39" fill="none" stroke="#b5b5b5" stroke-width="1.3" stroke-opacity="0.42" stroke-linecap="round"/>
<path d="M339,227.39 L339.5,227.53 L340,227.65 L340.5,227.76 L341,227.85 L341.5,227.92 L342,227.98" fill="none" stroke="#b5b5b5" stroke-width="1.3" stroke-opacity="0.37" stroke-linecap="round"/>
<path d="M342,227.98 L342.5,228.02 L343,228.04" fill="none" stroke="#b5b5b5" stroke-width="1.3" stroke-opacity="0.32" stroke-linecap="round"/>
<line x1="266.5" y1="222.13" x2="266.5" y2="229.09" stroke="#cdcdcd" stroke-width="1" stroke-opacity="1"/>
<line x1="270.1" y1="222.39" x2="270.1" y2="231.78" stroke="#cdcdcd" stroke-width="1" stroke-opacity="0.99"/>
<line x1="273.7" y1="225.39" x2="273.7" y2="231.58" stroke="#cdcdcd" stroke-width="1" stroke-opacity="0.99"/>
<line x1="280.9" y1="226.23" x2="280.9" y2="231.03" stroke="#cdcdcd" stroke-width="1" stroke-opacity="0.97"/>
<line x1="284.5" y1="223.14" x2="284.5" y2="231.59" stroke="#cdcdcd" stroke-width="1" stroke-opacity="0.96"/>
<line x1="288.1" y1="222.53" x2="288.1" y2="229.43" stroke="#cdcdcd" stroke-width="1" stroke-opacity="0.94"/>
<line x1="298.9" y1="223" x2="298.9" y2="229.61" stroke="#cdcdcd" stroke-width="1" stroke-opacity="0.87"/>
<line x1="302.5" y1="224.29" x2="302.5" y2="230.79" stroke="#cdcdcd" stroke-width="1" stroke-opacity="0.84"/>
<line x1="306.1" y1="227.18" x2="306.1" y2="229.6" stroke="#cdcdcd" stroke-width="1" stroke-opacity="0.81"/>
<line x1="313.3" y1="225.72" x2="313.3" y2="229.94" stroke="#cdcdcd" stroke-width="1" stroke-opacity="0.74"/>
<line x1="316.9" y1="224.34" x2="316.9" y2="229.39" stroke="#cdcdcd" stroke-width="1" stroke-opacity="0.7"/>
<line x1="320.5" y1="224.83" x2="320.5" y2="227.38" stroke="#cdcdcd" stroke-width="1" stroke-opacity="0.65"/>
<rect x="175.3" y="208.95" width="4" height="3.5" fill="#7a7a7a" transform="rotate(45 177.3 210.7)"/>
<rect x="180.3" y="212.1" width="3" height="1.8" fill="#aaa" transform="rotate(-60 181.8 213)"/>
<rect x="185.4" y="209.9" width="3.2" height="3" fill="#7a7a7a" transform="rotate(45 187 211.4)"/>
<rect x="178.7" y="218.6" width="4" height="1.6" fill="#aaa" transform="rotate(-50 180.7 219.4)"/>
<rect x="184.35" y="221.55" width="2.5" height="1.5" fill="#aaa" transform="rotate(50 185.6 222.3)"/>
<rect x="178.8" y="224.45" width="2" height="1.5" fill="#aaa" transform="rotate(0 179.8 225.2)"/>
<rect x="180.75" y="228.75" width="2.5" height="1.5" fill="#aaa" transform="rotate(40 182 229.5)"/>
<rect x="177.8" y="233.3" width="4" height="1.8" fill="#888" transform="rotate(75 179.8 234.2)"/>
<rect x="182.55" y="234" width="3.5" height="2" fill="#888" transform="rotate(-70 184.3 235)"/>
<rect x="178.3" y="238.8" width="2.2" height="2" fill="#888" transform="rotate(30 179.4 239.8)"/>
<rect x="185.4" y="238.8" width="3.2" height="3" fill="#777" transform="rotate(40 187 240.3)"/>
<rect x="173.6" y="240.7" width="4" height="3" fill="#777" transform="rotate(35 175.6 242.2)"/>
<rect x="180.9" y="242.9" width="4" height="2" fill="#888" transform="rotate(15 182.9 243.9)"/>
<text x="112.78" y="266.8" fill="#1f1f1f" stroke="#1f1f1f" stroke-width="0.28" textLength="166.7" lengthAdjust="spacingAndGlyphs">Double-stranded break</text>
<text x="109.1" y="332.9" fill="#111" stroke="#111" stroke-width="0.28" textLength="193.92" lengthAdjust="spacingAndGlyphs"><tspan font-weight="700">Homology-directed repair</tspan></text>
<text x="152.2" y="351.6" fill="#111" stroke="#111" stroke-width="0.28" textLength="108.45" lengthAdjust="spacingAndGlyphs"><tspan font-weight="700">at </tspan><tspan font-weight="700" font-style="italic">INPP5D</tspan><tspan font-weight="700"> loci</tspan></text>
<line x1="112.1" y1="398" x2="112.1" y2="404.4" stroke="#bcbcbc" stroke-width="1.4"/>
<line x1="112.1" y1="404.4" x2="112.1" y2="410.8" stroke="#d6d6d6" stroke-width="1.4"/>
<line x1="116.46" y1="398" x2="116.46" y2="404.4" stroke="#bcbcbc" stroke-width="1.4"/>
<line x1="116.46" y1="404.4" x2="116.46" y2="410.8" stroke="#d6d6d6" stroke-width="1.4"/>
<line x1="120.81" y1="398" x2="120.81" y2="404.4" stroke="#bcbcbc" stroke-width="1.4"/>
<line x1="120.81" y1="404.4" x2="120.81" y2="410.8" stroke="#d6d6d6" stroke-width="1.4"/>
<line x1="125.17" y1="398" x2="125.17" y2="404.4" stroke="#bcbcbc" stroke-width="1.4"/>
<line x1="125.17" y1="404.4" x2="125.17" y2="410.8" stroke="#d6d6d6" stroke-width="1.4"/>
<line x1="129.52" y1="398" x2="129.52" y2="404.4" stroke="#bcbcbc" stroke-width="1.4"/>
<line x1="129.52" y1="404.4" x2="129.52" y2="410.8" stroke="#d6d6d6" stroke-width="1.4"/>
<line x1="133.88" y1="398" x2="133.88" y2="404.4" stroke="#bcbcbc" stroke-width="1.4"/>
<line x1="133.88" y1="404.4" x2="133.88" y2="410.8" stroke="#d6d6d6" stroke-width="1.4"/>
<line x1="138.23" y1="398" x2="138.23" y2="404.4" stroke="#bcbcbc" stroke-width="1.4"/>
<line x1="138.23" y1="404.4" x2="138.23" y2="410.8" stroke="#d6d6d6" stroke-width="1.4"/>
<line x1="142.59" y1="398" x2="142.59" y2="404.4" stroke="#bcbcbc" stroke-width="1.4"/>
<line x1="142.59" y1="404.4" x2="142.59" y2="410.8" stroke="#d6d6d6" stroke-width="1.4"/>
<line x1="146.94" y1="398" x2="146.94" y2="404.4" stroke="#bcbcbc" stroke-width="1.4"/>
<line x1="146.94" y1="404.4" x2="146.94" y2="410.8" stroke="#d6d6d6" stroke-width="1.4"/>
<line x1="151.3" y1="398" x2="151.3" y2="404.4" stroke="#bcbcbc" stroke-width="1.4"/>
<line x1="151.3" y1="404.4" x2="151.3" y2="410.8" stroke="#d6d6d6" stroke-width="1.4"/>
<line x1="110.1" y1="398" x2="153.3" y2="398" stroke="#b3b3b3" stroke-width="1.8"/>
<line x1="110.1" y1="410.8" x2="153.3" y2="410.8" stroke="#c6c6c6" stroke-width="1.8"/>
<line x1="155.3" y1="398" x2="155.3" y2="404.4" stroke="#2a7f2a" stroke-width="1.4"/>
<line x1="155.3" y1="404.4" x2="155.3" y2="410.8" stroke="#6fb23a" stroke-width="1.4"/>
<line x1="159.55" y1="398" x2="159.55" y2="404.4" stroke="#2a7f2a" stroke-width="1.4"/>
<line x1="159.55" y1="404.4" x2="159.55" y2="410.8" stroke="#6fb23a" stroke-width="1.4"/>
<line x1="163.8" y1="398" x2="163.8" y2="404.4" stroke="#2a7f2a" stroke-width="1.4"/>
<line x1="163.8" y1="404.4" x2="163.8" y2="410.8" stroke="#6fb23a" stroke-width="1.4"/>
<line x1="168.05" y1="398" x2="168.05" y2="404.4" stroke="#2a7f2a" stroke-width="1.4"/>
<line x1="168.05" y1="404.4" x2="168.05" y2="410.8" stroke="#6fb23a" stroke-width="1.4"/>
<line x1="172.3" y1="398" x2="172.3" y2="404.4" stroke="#2a7f2a" stroke-width="1.4"/>
<line x1="172.3" y1="404.4" x2="172.3" y2="410.8" stroke="#6fb23a" stroke-width="1.4"/>
<line x1="153.3" y1="398" x2="174.3" y2="398" stroke="#217a21" stroke-width="1.8"/>
<line x1="153.3" y1="410.8" x2="174.3" y2="410.8" stroke="#4f9e16" stroke-width="1.8"/>
<line x1="201.7" y1="398" x2="201.7" y2="404.4" stroke="#1d6e84" stroke-width="1.4"/>
<line x1="201.7" y1="404.4" x2="201.7" y2="410.8" stroke="#4a9db0" stroke-width="1.4"/>
<line x1="205.97" y1="398" x2="205.97" y2="404.4" stroke="#1d6e84" stroke-width="1.4"/>
<line x1="205.97" y1="404.4" x2="205.97" y2="410.8" stroke="#4a9db0" stroke-width="1.4"/>
<line x1="210.25" y1="398" x2="210.25" y2="404.4" stroke="#1d6e84" stroke-width="1.4"/>
<line x1="210.25" y1="404.4" x2="210.25" y2="410.8" stroke="#4a9db0" stroke-width="1.4"/>
<line x1="214.53" y1="398" x2="214.53" y2="404.4" stroke="#1d6e84" stroke-width="1.4"/>
<line x1="214.53" y1="404.4" x2="214.53" y2="410.8" stroke="#4a9db0" stroke-width="1.4"/>
<line x1="218.8" y1="398" x2="218.8" y2="404.4" stroke="#1d6e84" stroke-width="1.4"/>
<line x1="218.8" y1="404.4" x2="218.8" y2="410.8" stroke="#4a9db0" stroke-width="1.4"/>
<line x1="199.7" y1="398" x2="220.8" y2="398" stroke="#1a6b80" stroke-width="1.8"/>
<line x1="199.7" y1="410.8" x2="220.8" y2="410.8" stroke="#1f7890" stroke-width="1.8"/>
<line x1="222.8" y1="398" x2="222.8" y2="404.4" stroke="#bcbcbc" stroke-width="1.4"/>
<line x1="222.8" y1="404.4" x2="222.8" y2="410.8" stroke="#d6d6d6" stroke-width="1.4"/>
<line x1="227.06" y1="398" x2="227.06" y2="404.4" stroke="#bcbcbc" stroke-width="1.4"/>
<line x1="227.06" y1="404.4" x2="227.06" y2="410.8" stroke="#d6d6d6" stroke-width="1.4"/>
<line x1="231.31" y1="398" x2="231.31" y2="404.4" stroke="#bcbcbc" stroke-width="1.4"/>
<line x1="231.31" y1="404.4" x2="231.31" y2="410.8" stroke="#d6d6d6" stroke-width="1.4"/>
<line x1="235.57" y1="398" x2="235.57" y2="404.4" stroke="#bcbcbc" stroke-width="1.4"/>
<line x1="235.57" y1="404.4" x2="235.57" y2="410.8" stroke="#d6d6d6" stroke-width="1.4"/>
<line x1="239.82" y1="398" x2="239.82" y2="404.4" stroke="#bcbcbc" stroke-width="1.4"/>
<line x1="239.82" y1="404.4" x2="239.82" y2="410.8" stroke="#d6d6d6" stroke-width="1.4"/>
<line x1="244.08" y1="398" x2="244.08" y2="404.4" stroke="#bcbcbc" stroke-width="1.4"/>
<line x1="244.08" y1="404.4" x2="244.08" y2="410.8" stroke="#d6d6d6" stroke-width="1.4"/>
<line x1="248.33" y1="398" x2="248.33" y2="404.4" stroke="#bcbcbc" stroke-width="1.4"/>
<line x1="248.33" y1="404.4" x2="248.33" y2="410.8" stroke="#d6d6d6" stroke-width="1.4"/>
<line x1="252.59" y1="398" x2="252.59" y2="404.4" stroke="#bcbcbc" stroke-width="1.4"/>
<line x1="252.59" y1="404.4" x2="252.59" y2="410.8" stroke="#d6d6d6" stroke-width="1.4"/>
<line x1="256.84" y1="398" x2="256.84" y2="404.4" stroke="#bcbcbc" stroke-width="1.4"/>
<line x1="256.84" y1="404.4" x2="256.84" y2="410.8" stroke="#d6d6d6" stroke-width="1.4"/>
<line x1="261.1" y1="398" x2="261.1" y2="404.4" stroke="#bcbcbc" stroke-width="1.4"/>
<line x1="261.1" y1="404.4" x2="261.1" y2="410.8" stroke="#d6d6d6" stroke-width="1.4"/>
<line x1="220.8" y1="398" x2="263.1" y2="398" stroke="#b3b3b3" stroke-width="1.8"/>
<line x1="220.8" y1="410.8" x2="263.1" y2="410.8" stroke="#c6c6c6" stroke-width="1.8"/>
<path d="M147.3,414.9 L175,443.7 M175,414.9 L147.3,443.7" stroke="#555" stroke-width="1.2" fill="none"/>
<path d="M199,414.9 L226.7,443.7 M226.7,414.9 L199,443.7" stroke="#555" stroke-width="1.2" fill="none"/>
<line x1="148.6" y1="447.7" x2="148.6" y2="453.9" stroke="#bcbcbc" stroke-width="1.4"/>
<line x1="148.6" y1="453.9" x2="148.6" y2="460.1" stroke="#d6d6d6" stroke-width="1.4"/>
<line x1="153" y1="447.7" x2="153" y2="453.9" stroke="#bcbcbc" stroke-width="1.4"/>
<line x1="153" y1="453.9" x2="153" y2="460.1" stroke="#d6d6d6" stroke-width="1.4"/>
<line x1="146.6" y1="447.7" x2="155" y2="447.7" stroke="#b3b3b3" stroke-width="1.8"/>
<line x1="146.6" y1="460.1" x2="155" y2="460.1" stroke="#c6c6c6" stroke-width="1.8"/>
<line x1="157" y1="447.7" x2="157" y2="453.9" stroke="#2a7f2a" stroke-width="1.4"/>
<line x1="157" y1="453.9" x2="157" y2="460.1" stroke="#6fb23a" stroke-width="1.4"/>
<line x1="161.25" y1="447.7" x2="161.25" y2="453.9" stroke="#2a7f2a" stroke-width="1.4"/>
<line x1="161.25" y1="453.9" x2="161.25" y2="460.1" stroke="#6fb23a" stroke-width="1.4"/>
<line x1="165.5" y1="447.7" x2="165.5" y2="453.9" stroke="#2a7f2a" stroke-width="1.4"/>
<line x1="165.5" y1="453.9" x2="165.5" y2="460.1" stroke="#6fb23a" stroke-width="1.4"/>
<line x1="169.75" y1="447.7" x2="169.75" y2="453.9" stroke="#2a7f2a" stroke-width="1.4"/>
<line x1="169.75" y1="453.9" x2="169.75" y2="460.1" stroke="#6fb23a" stroke-width="1.4"/>
<line x1="174" y1="447.7" x2="174" y2="453.9" stroke="#2a7f2a" stroke-width="1.4"/>
<line x1="174" y1="453.9" x2="174" y2="460.1" stroke="#6fb23a" stroke-width="1.4"/>
<line x1="155" y1="447.7" x2="176" y2="447.7" stroke="#217a21" stroke-width="1.8"/>
<line x1="155" y1="460.1" x2="176" y2="460.1" stroke="#4f9e16" stroke-width="1.8"/>
<line x1="178" y1="447.7" x2="178" y2="453.9" stroke="#e6a8a8" stroke-width="1.4"/>
<line x1="178" y1="453.9" x2="178" y2="460.1" stroke="#efc4c4" stroke-width="1.4"/>
<line x1="182.25" y1="447.7" x2="182.25" y2="453.9" stroke="#e6a8a8" stroke-width="1.4"/>
<line x1="182.25" y1="453.9" x2="182.25" y2="460.1" stroke="#efc4c4" stroke-width="1.4"/>
<line x1="186.5" y1="447.7" x2="186.5" y2="453.9" stroke="#e6a8a8" stroke-width="1.4"/>
<line x1="186.5" y1="453.9" x2="186.5" y2="460.1" stroke="#efc4c4" stroke-width="1.4"/>
<line x1="190.75" y1="447.7" x2="190.75" y2="453.9" stroke="#e6a8a8" stroke-width="1.4"/>
<line x1="190.75" y1="453.9" x2="190.75" y2="460.1" stroke="#efc4c4" stroke-width="1.4"/>
<line x1="195" y1="447.7" x2="195" y2="453.9" stroke="#e6a8a8" stroke-width="1.4"/>
<line x1="195" y1="453.9" x2="195" y2="460.1" stroke="#efc4c4" stroke-width="1.4"/>
<line x1="176" y1="447.7" x2="197" y2="447.7" stroke="#e6a4a4" stroke-width="1.8"/>
<line x1="176" y1="460.1" x2="197" y2="460.1" stroke="#e8b0b0" stroke-width="1.8"/>
<line x1="199" y1="447.7" x2="199" y2="453.9" stroke="#1d6e84" stroke-width="1.4"/>
<line x1="199" y1="453.9" x2="199" y2="460.1" stroke="#4a9db0" stroke-width="1.4"/>
<line x1="203.45" y1="447.7" x2="203.45" y2="453.9" stroke="#1d6e84" stroke-width="1.4"/>
<line x1="203.45" y1="453.9" x2="203.45" y2="460.1" stroke="#4a9db0" stroke-width="1.4"/>
<line x1="207.9" y1="447.7" x2="207.9" y2="453.9" stroke="#1d6e84" stroke-width="1.4"/>
<line x1="207.9" y1="453.9" x2="207.9" y2="460.1" stroke="#4a9db0" stroke-width="1.4"/>
<line x1="212.35" y1="447.7" x2="212.35" y2="453.9" stroke="#1d6e84" stroke-width="1.4"/>
<line x1="212.35" y1="453.9" x2="212.35" y2="460.1" stroke="#4a9db0" stroke-width="1.4"/>
<line x1="216.8" y1="447.7" x2="216.8" y2="453.9" stroke="#1d6e84" stroke-width="1.4"/>
<line x1="216.8" y1="453.9" x2="216.8" y2="460.1" stroke="#4a9db0" stroke-width="1.4"/>
<line x1="197" y1="447.7" x2="218.8" y2="447.7" stroke="#1a6b80" stroke-width="1.8"/>
<line x1="197" y1="460.1" x2="218.8" y2="460.1" stroke="#1f7890" stroke-width="1.8"/>
<line x1="220.8" y1="447.7" x2="220.8" y2="453.9" stroke="#bcbcbc" stroke-width="1.4"/>
<line x1="220.8" y1="453.9" x2="220.8" y2="460.1" stroke="#d6d6d6" stroke-width="1.4"/>
<line x1="224.6" y1="447.7" x2="224.6" y2="453.9" stroke="#bcbcbc" stroke-width="1.4"/>
<line x1="224.6" y1="453.9" x2="224.6" y2="460.1" stroke="#d6d6d6" stroke-width="1.4"/>
<line x1="218.8" y1="447.7" x2="226.6" y2="447.7" stroke="#b3b3b3" stroke-width="1.8"/>
<line x1="218.8" y1="460.1" x2="226.6" y2="460.1" stroke="#c6c6c6" stroke-width="1.8"/>
<text x="118.47" y="477.9" fill="#1f1f1f" stroke="#1f1f1f" stroke-width="0.28" textLength="164.33" lengthAdjust="spacingAndGlyphs">Donor DNA with 33 bp</text>
<text x="123.56" y="496.5" fill="#1f1f1f" stroke="#1f1f1f" stroke-width="0.28" textLength="153.53" lengthAdjust="spacingAndGlyphs">long HiBiT sequence</text>
<line x1="114.8" y1="531.8" x2="114.8" y2="538.05" stroke="#bcbcbc" stroke-width="1.4"/>
<line x1="114.8" y1="538.05" x2="114.8" y2="544.3" stroke="#d6d6d6" stroke-width="1.4"/>
<line x1="119.06" y1="531.8" x2="119.06" y2="538.05" stroke="#bcbcbc" stroke-width="1.4"/>
<line x1="119.06" y1="538.05" x2="119.06" y2="544.3" stroke="#d6d6d6" stroke-width="1.4"/>
<line x1="123.31" y1="531.8" x2="123.31" y2="538.05" stroke="#bcbcbc" stroke-width="1.4"/>
<line x1="123.31" y1="538.05" x2="123.31" y2="544.3" stroke="#d6d6d6" stroke-width="1.4"/>
<line x1="127.57" y1="531.8" x2="127.57" y2="538.05" stroke="#bcbcbc" stroke-width="1.4"/>
<line x1="127.57" y1="538.05" x2="127.57" y2="544.3" stroke="#d6d6d6" stroke-width="1.4"/>
<line x1="131.82" y1="531.8" x2="131.82" y2="538.05" stroke="#bcbcbc" stroke-width="1.4"/>
<line x1="131.82" y1="538.05" x2="131.82" y2="544.3" stroke="#d6d6d6" stroke-width="1.4"/>
<line x1="136.08" y1="531.8" x2="136.08" y2="538.05" stroke="#bcbcbc" stroke-width="1.4"/>
<line x1="136.08" y1="538.05" x2="136.08" y2="544.3" stroke="#d6d6d6" stroke-width="1.4"/>
<line x1="140.33" y1="531.8" x2="140.33" y2="538.05" stroke="#bcbcbc" stroke-width="1.4"/>
<line x1="140.33" y1="538.05" x2="140.33" y2="544.3" stroke="#d6d6d6" stroke-width="1.4"/>
<line x1="144.59" y1="531.8" x2="144.59" y2="538.05" stroke="#bcbcbc" stroke-width="1.4"/>
<line x1="144.59" y1="538.05" x2="144.59" y2="544.3" stroke="#d6d6d6" stroke-width="1.4"/>
<line x1="148.84" y1="531.8" x2="148.84" y2="538.05" stroke="#bcbcbc" stroke-width="1.4"/>
<line x1="148.84" y1="538.05" x2="148.84" y2="544.3" stroke="#d6d6d6" stroke-width="1.4"/>
<line x1="153.1" y1="531.8" x2="153.1" y2="538.05" stroke="#bcbcbc" stroke-width="1.4"/>
<line x1="153.1" y1="538.05" x2="153.1" y2="544.3" stroke="#d6d6d6" stroke-width="1.4"/>
<line x1="112.8" y1="531.8" x2="155.1" y2="531.8" stroke="#b3b3b3" stroke-width="1.8"/>
<line x1="112.8" y1="544.3" x2="155.1" y2="544.3" stroke="#c6c6c6" stroke-width="1.8"/>
<line x1="157.1" y1="531.8" x2="157.1" y2="538.05" stroke="#2a7f2a" stroke-width="1.4"/>
<line x1="157.1" y1="538.05" x2="157.1" y2="544.3" stroke="#6fb23a" stroke-width="1.4"/>
<line x1="161.45" y1="531.8" x2="161.45" y2="538.05" stroke="#2a7f2a" stroke-width="1.4"/>
<line x1="161.45" y1="538.05" x2="161.45" y2="544.3" stroke="#6fb23a" stroke-width="1.4"/>
<line x1="165.8" y1="531.8" x2="165.8" y2="538.05" stroke="#2a7f2a" stroke-width="1.4"/>
<line x1="165.8" y1="538.05" x2="165.8" y2="544.3" stroke="#6fb23a" stroke-width="1.4"/>
<line x1="170.15" y1="531.8" x2="170.15" y2="538.05" stroke="#2a7f2a" stroke-width="1.4"/>
<line x1="170.15" y1="538.05" x2="170.15" y2="544.3" stroke="#6fb23a" stroke-width="1.4"/>
<line x1="174.5" y1="531.8" x2="174.5" y2="538.05" stroke="#2a7f2a" stroke-width="1.4"/>
<line x1="174.5" y1="538.05" x2="174.5" y2="544.3" stroke="#6fb23a" stroke-width="1.4"/>
<line x1="155.1" y1="531.8" x2="176.5" y2="531.8" stroke="#217a21" stroke-width="1.8"/>
<line x1="155.1" y1="544.3" x2="176.5" y2="544.3" stroke="#4f9e16" stroke-width="1.8"/>
<line x1="178.5" y1="531.8" x2="178.5" y2="538.05" stroke="#e6a8a8" stroke-width="1.4"/>
<line x1="178.5" y1="538.05" x2="178.5" y2="544.3" stroke="#efc4c4" stroke-width="1.4"/>
<line x1="182.68" y1="531.8" x2="182.68" y2="538.05" stroke="#e6a8a8" stroke-width="1.4"/>
<line x1="182.68" y1="538.05" x2="182.68" y2="544.3" stroke="#efc4c4" stroke-width="1.4"/>
<line x1="186.85" y1="531.8" x2="186.85" y2="538.05" stroke="#e6a8a8" stroke-width="1.4"/>
<line x1="186.85" y1="538.05" x2="186.85" y2="544.3" stroke="#efc4c4" stroke-width="1.4"/>
<line x1="191.02" y1="531.8" x2="191.02" y2="538.05" stroke="#e6a8a8" stroke-width="1.4"/>
<line x1="191.02" y1="538.05" x2="191.02" y2="544.3" stroke="#efc4c4" stroke-width="1.4"/>
<line x1="195.2" y1="531.8" x2="195.2" y2="538.05" stroke="#e6a8a8" stroke-width="1.4"/>
<line x1="195.2" y1="538.05" x2="195.2" y2="544.3" stroke="#efc4c4" stroke-width="1.4"/>
<line x1="176.5" y1="531.8" x2="197.2" y2="531.8" stroke="#e6a4a4" stroke-width="1.8"/>
<line x1="176.5" y1="544.3" x2="197.2" y2="544.3" stroke="#e8b0b0" stroke-width="1.8"/>
<line x1="199.2" y1="531.8" x2="199.2" y2="538.05" stroke="#1d6e84" stroke-width="1.4"/>
<line x1="199.2" y1="538.05" x2="199.2" y2="544.3" stroke="#4a9db0" stroke-width="1.4"/>
<line x1="203.55" y1="531.8" x2="203.55" y2="538.05" stroke="#1d6e84" stroke-width="1.4"/>
<line x1="203.55" y1="538.05" x2="203.55" y2="544.3" stroke="#4a9db0" stroke-width="1.4"/>
<line x1="207.9" y1="531.8" x2="207.9" y2="538.05" stroke="#1d6e84" stroke-width="1.4"/>
<line x1="207.9" y1="538.05" x2="207.9" y2="544.3" stroke="#4a9db0" stroke-width="1.4"/>
<line x1="212.25" y1="531.8" x2="212.25" y2="538.05" stroke="#1d6e84" stroke-width="1.4"/>
<line x1="212.25" y1="538.05" x2="212.25" y2="544.3" stroke="#4a9db0" stroke-width="1.4"/>
<line x1="216.6" y1="531.8" x2="216.6" y2="538.05" stroke="#1d6e84" stroke-width="1.4"/>
<line x1="216.6" y1="538.05" x2="216.6" y2="544.3" stroke="#4a9db0" stroke-width="1.4"/>
<line x1="197.2" y1="531.8" x2="218.6" y2="531.8" stroke="#1a6b80" stroke-width="1.8"/>
<line x1="197.2" y1="544.3" x2="218.6" y2="544.3" stroke="#1f7890" stroke-width="1.8"/>
<line x1="220.6" y1="531.8" x2="220.6" y2="538.05" stroke="#bcbcbc" stroke-width="1.4"/>
<line x1="220.6" y1="538.05" x2="220.6" y2="544.3" stroke="#d6d6d6" stroke-width="1.4"/>
<line x1="224.93" y1="531.8" x2="224.93" y2="538.05" stroke="#bcbcbc" stroke-width="1.4"/>
<line x1="224.93" y1="538.05" x2="224.93" y2="544.3" stroke="#d6d6d6" stroke-width="1.4"/>
<line x1="229.27" y1="531.8" x2="229.27" y2="538.05" stroke="#bcbcbc" stroke-width="1.4"/>
<line x1="229.27" y1="538.05" x2="229.27" y2="544.3" stroke="#d6d6d6" stroke-width="1.4"/>
<line x1="233.6" y1="531.8" x2="233.6" y2="538.05" stroke="#bcbcbc" stroke-width="1.4"/>
<line x1="233.6" y1="538.05" x2="233.6" y2="544.3" stroke="#d6d6d6" stroke-width="1.4"/>
<line x1="237.93" y1="531.8" x2="237.93" y2="538.05" stroke="#bcbcbc" stroke-width="1.4"/>
<line x1="237.93" y1="538.05" x2="237.93" y2="544.3" stroke="#d6d6d6" stroke-width="1.4"/>
<line x1="242.27" y1="531.8" x2="242.27" y2="538.05" stroke="#bcbcbc" stroke-width="1.4"/>
<line x1="242.27" y1="538.05" x2="242.27" y2="544.3" stroke="#d6d6d6" stroke-width="1.4"/>
<line x1="246.6" y1="531.8" x2="246.6" y2="538.05" stroke="#bcbcbc" stroke-width="1.4"/>
<line x1="246.6" y1="538.05" x2="246.6" y2="544.3" stroke="#d6d6d6" stroke-width="1.4"/>
<line x1="250.93" y1="531.8" x2="250.93" y2="538.05" stroke="#bcbcbc" stroke-width="1.4"/>
<line x1="250.93" y1="538.05" x2="250.93" y2="544.3" stroke="#d6d6d6" stroke-width="1.4"/>
<line x1="255.27" y1="531.8" x2="255.27" y2="538.05" stroke="#bcbcbc" stroke-width="1.4"/>
<line x1="255.27" y1="538.05" x2="255.27" y2="544.3" stroke="#d6d6d6" stroke-width="1.4"/>
<line x1="259.6" y1="531.8" x2="259.6" y2="538.05" stroke="#bcbcbc" stroke-width="1.4"/>
<line x1="259.6" y1="538.05" x2="259.6" y2="544.3" stroke="#d6d6d6" stroke-width="1.4"/>
<line x1="218.6" y1="531.8" x2="261.6" y2="531.8" stroke="#b3b3b3" stroke-width="1.8"/>
<line x1="218.6" y1="544.3" x2="261.6" y2="544.3" stroke="#c6c6c6" stroke-width="1.8"/>
<text x="151.94" y="572.6" fill="#1f1f1f" stroke="#1f1f1f" stroke-width="0.28" textLength="70.02" lengthAdjust="spacingAndGlyphs">HiBiT tag</text>
<text x="118.4" y="591" fill="#1f1f1f" stroke="#1f1f1f" stroke-width="0.28" textLength="136.94" lengthAdjust="spacingAndGlyphs">sequence inserted</text>
<text x="139.3" y="610" fill="#1f1f1f" stroke="#1f1f1f" stroke-width="0.28" textLength="94.77" lengthAdjust="spacingAndGlyphs">at <tspan font-style="italic">SHIP1</tspan> loci</text>
<path d="M575.2,7 C578.45,7.2 582.08,7.38 585.5,8 C588.92,8.62 592.3,9.52 595.7,10.7 C599.1,11.88 602.83,13.55 605.9,15.1 C608.97,16.65 611.37,18.08 614.1,20 C616.83,21.92 620,24.3 622.3,26.6 C624.6,28.9 626.45,31.23 627.9,33.8 C629.35,36.37 630.23,39.1 631,42 C631.77,44.9 632.17,48.12 632.5,51.2 C632.83,54.28 633,57.67 633,60.5 C633,63.33 632.83,65.38 632.5,68.2 C632.17,71.02 631.68,74.33 631,77.4 C630.32,80.47 629.6,83.53 628.4,86.6 C627.2,89.67 625.67,92.9 623.8,95.8 C621.93,98.7 619.83,101.53 617.2,104 C614.57,106.47 611.25,108.72 608,110.6 C604.75,112.48 601.45,114.02 597.7,115.3 C593.95,116.58 589.58,117.45 585.5,118.3 C581.42,119.15 576.68,119.97 573.2,120.4 C569.72,120.83 568.08,120.98 564.6,120.9 C561.12,120.82 556.4,120.5 552.3,119.9 C548.2,119.3 543.92,118.42 540,117.3 C536.08,116.18 532.2,114.9 528.8,113.2 C525.4,111.5 522.42,109.32 519.6,107.1 C516.78,104.88 514.12,102.63 511.9,99.9 C509.68,97.17 507.83,93.93 506.3,90.7 C504.77,87.47 503.57,83.92 502.7,80.5 C501.83,77.08 501.4,73.38 501.1,70.2 C500.8,67.02 500.72,64.23 500.9,61.4 C501.08,58.57 501.65,55.93 502.2,53.2 C502.75,50.47 503.35,47.55 504.2,45 C505.05,42.45 506.1,40.28 507.3,37.9 C508.5,35.52 509.7,33.02 511.4,30.7 C513.1,28.38 515.12,26.13 517.5,24 C519.88,21.87 522.63,19.77 525.7,17.9 C528.77,16.03 532.48,14.17 535.9,12.8 C539.32,11.43 542.78,10.55 546.2,9.7 C549.62,8.85 553.1,8.18 556.4,7.7 C559.7,7.22 562.87,6.92 566,6.8 C569.13,6.68 571.95,6.8 575.2,7Z" fill="#dbb6e4" stroke="#a477b3" stroke-width="1.9"/>
<ellipse cx="574" cy="64.8" rx="24.8" ry="20.8" fill="#c392c7" stroke="#b282bb" stroke-width="0.9"/>
<circle cx="506.8" cy="78.9" r="2.2" fill="#0e5a80"/>
<circle cx="510.3" cy="76.6" r="2.2" fill="#0e5a80"/>
<circle cx="514.2" cy="75.3" r="2.2" fill="#0e5a80"/>
<circle cx="518.3" cy="74.3" r="2.2" fill="#0e5a80"/>
<circle cx="522.3" cy="73.5" r="2.2" fill="#0e5a80"/>
<circle cx="526.3" cy="73.1" r="2.2" fill="#0e5a80"/>
<circle cx="530.4" cy="73.6" r="2.2" fill="#0e5a80"/>
<circle cx="534.4" cy="74.8" r="2.2" fill="#0e5a80"/>
<circle cx="538.5" cy="76.4" r="2.2" fill="#0e5a80"/>
<circle cx="542.1" cy="77.9" r="2.2" fill="#0e5a80"/>
<circle cx="545.9" cy="79.2" r="2.2" fill="#0e5a80"/>
<path d="M549.2,78.8 C549.63,78.22 550.5,78.07 551,78.5 C551.5,78.93 551.72,80.43 552.2,81.4 C552.68,82.37 553.32,83.42 553.9,84.3 C554.48,85.18 554.92,85.92 555.7,86.7 C556.48,87.48 557.98,88.13 558.6,89 C559.22,89.87 558.92,90.83 559.4,91.9 C559.88,92.97 561.35,94.43 561.5,95.4 C561.65,96.37 560.88,97.02 560.3,97.7 C559.72,98.38 558.48,98.72 558,99.5 C557.52,100.28 557.98,101.53 557.4,102.4 C556.82,103.27 555.37,103.92 554.5,104.7 C553.63,105.48 553.08,106.75 552.2,107.1 C551.32,107.45 550.08,107.1 549.2,106.8 C548.32,106.5 547.67,105.3 546.9,105.3 C546.13,105.3 545.38,106.98 544.6,106.8 C543.82,106.62 542.98,105.22 542.2,104.2 C541.42,103.18 540.77,101.78 539.9,100.7 C539.03,99.62 537.28,98.68 537,97.7 C536.72,96.72 537.82,95.87 538.2,94.8 C538.58,93.73 538.72,92.37 539.3,91.3 C539.88,90.23 540.72,88.98 541.7,88.4 C542.68,87.82 544.13,88.28 545.2,87.8 C546.27,87.32 547.57,86.47 548.1,85.5 C548.63,84.53 548.22,83.12 548.4,82 C548.58,80.88 548.77,79.38 549.2,78.8Z" fill="#a6dbe8" stroke="#78acba" stroke-width="0.5"/>
<ellipse cx="550" cy="98" rx="4" ry="3.5" fill="#86bac6" opacity="0.8"/>
<ellipse cx="544" cy="92" rx="2" ry="1.5" fill="#86bac6" opacity="0.8"/>
<ellipse cx="553" cy="90" rx="1.5" ry="2" fill="#86bac6" opacity="0.8"/>
<ellipse cx="545" cy="101" rx="1.8" ry="1.5" fill="#86bac6" opacity="0.8"/>
<text x="486.2" y="139.7" fill="#1f1f1f" stroke="#1f1f1f" stroke-width="0.28" textLength="126.8" lengthAdjust="spacingAndGlyphs">Tagged protein is</text>
<text x="486" y="158.3" fill="#1f1f1f" stroke="#1f1f1f" stroke-width="0.28" textLength="190.2" lengthAdjust="spacingAndGlyphs">expressed at endogenous</text>
<text x="485.57" y="176.9" fill="#1f1f1f" stroke="#1f1f1f" stroke-width="0.28" textLength="88.43" lengthAdjust="spacingAndGlyphs">level in cells</text>
<line x1="562.25" y1="194.4" x2="562.25" y2="290" stroke="#2a2a2a" stroke-width="2.1"/>
<path d="M450,380 L450,290 L674.5,290 L674.5,380" fill="none" stroke="#2a2a2a" stroke-width="2.1"/>
<text x="370.5" y="232.6" fill="#1f1f1f" stroke="#1f1f1f" stroke-width="0.28" textLength="146.35" lengthAdjust="spacingAndGlyphs">Add LgBiT protein +</text>
<text x="381.8" y="251.4" fill="#1f1f1f" stroke="#1f1f1f" stroke-width="0.28" textLength="124.3" lengthAdjust="spacingAndGlyphs">substrate in lysis</text>
<text x="421.12" y="269.9" fill="#1f1f1f" stroke="#1f1f1f" stroke-width="0.28" textLength="44.06" lengthAdjust="spacingAndGlyphs">buffer</text>
<text x="607.1" y="229.2" fill="#1f1f1f" stroke="#1f1f1f" stroke-width="0.28" textLength="116.56" lengthAdjust="spacingAndGlyphs">Transfect LgBiT</text>
<text x="606.65" y="248.1" fill="#1f1f1f" stroke="#1f1f1f" stroke-width="0.28" textLength="123.6" lengthAdjust="spacingAndGlyphs">plasmid and add</text>
<text x="606.96" y="266.7" fill="#1f1f1f" stroke="#1f1f1f" stroke-width="0.28" textLength="128.64" lengthAdjust="spacingAndGlyphs">live-cell substrate</text>
<path d="M402.5,261.6 C403.83,261.73 406.2,262.1 407.5,262.8 C408.8,263.5 409.68,264.52 410.3,265.8 C410.92,267.08 410.5,269.5 411.2,270.5 C411.9,271.5 413.47,271.38 414.5,271.8 C415.53,272.22 416.4,272.13 417.4,273 C418.4,273.87 419.68,275.63 420.5,277 C421.32,278.37 421.22,280.28 422.3,281.2 C423.38,282.12 425.58,281.92 427,282.5 C428.42,283.08 429.77,283.7 430.8,284.7 C431.83,285.7 432.72,287.08 433.2,288.5 C433.68,289.92 432.98,292.03 433.7,293.2 C434.42,294.37 436.33,294.55 437.5,295.5 C438.67,296.45 439.8,297.15 440.7,298.9 C441.6,300.65 442.42,303.4 442.9,306 C443.38,308.6 443.78,312.5 443.6,314.5 C443.42,316.5 442.28,316.82 441.8,318 C441.32,319.18 441.2,320.1 440.7,321.6 C440.2,323.1 439.73,325.35 438.8,327 C437.87,328.65 436.4,330.17 435.1,331.5 C433.8,332.83 432.42,334.18 431,335 C429.58,335.82 428.1,336.23 426.6,336.4 C425.1,336.57 423.18,336.35 422,336 C420.82,335.65 420.38,335.17 419.5,334.3 C418.62,333.43 418.28,331.22 416.7,330.8 C415.12,330.38 412.37,331.68 410,331.8 C407.63,331.92 405,331.63 402.5,331.5 C400,331.37 397.37,331.35 395,331 C392.63,330.65 390.22,330.15 388.3,329.4 C386.38,328.65 384.68,327.57 383.5,326.5 C382.32,325.43 382.28,323.92 381.2,323 C380.12,322.08 378.17,321.95 377,321 C375.83,320.05 374.95,318.55 374.2,317.3 C373.45,316.05 372.87,314.68 372.5,313.5 C372.13,312.32 372.67,311.2 372,310.2 C371.33,309.2 369.32,308.43 368.5,307.5 C367.68,306.57 367.3,305.77 367.1,304.6 C366.9,303.43 367.07,301.68 367.3,300.5 C367.53,299.32 367.88,298.83 368.5,297.5 C369.12,296.17 370.05,293.92 371,292.5 C371.95,291.08 372.95,290.08 374.2,289 C375.45,287.92 377.08,286.72 378.5,286 C379.92,285.28 381.37,285.03 382.7,284.7 C384.03,284.37 385.33,284.47 386.5,284 C387.67,283.53 389.35,282.9 389.7,281.9 C390.05,280.9 388.72,279.18 388.6,278 C388.48,276.82 388.55,275.8 389,274.8 C389.45,273.8 390.47,272.7 391.3,272 C392.13,271.3 393.38,271.52 394,270.6 C394.62,269.68 394.53,267.68 395,266.5 C395.47,265.32 396.05,264.25 396.8,263.5 C397.55,262.75 398.55,262.32 399.5,262 C400.45,261.68 401.17,261.47 402.5,261.6Z" fill="#a7b8e7" stroke="#7391d4" stroke-width="1"/>
<defs><radialGradient id="lgdark" cx="0.5" cy="0.5" r="0.5"><stop offset="0" stop-color="#8daae8"/><stop offset="0.6" stop-color="#92aee8" stop-opacity="0.8"/><stop offset="1" stop-color="#a7b8e7" stop-opacity="0"/></radialGradient><clipPath id="lgclip"><path d="M402.5,261.6 C403.83,261.73 406.2,262.1 407.5,262.8 C408.8,263.5 409.68,264.52 410.3,265.8 C410.92,267.08 410.5,269.5 411.2,270.5 C411.9,271.5 413.47,271.38 414.5,271.8 C415.53,272.22 416.4,272.13 417.4,273 C418.4,273.87 419.68,275.63 420.5,277 C421.32,278.37 421.22,280.28 422.3,281.2 C423.38,282.12 425.58,281.92 427,282.5 C428.42,283.08 429.77,283.7 430.8,284.7 C431.83,285.7 432.72,287.08 433.2,288.5 C433.68,289.92 432.98,292.03 433.7,293.2 C434.42,294.37 436.33,294.55 437.5,295.5 C438.67,296.45 439.8,297.15 440.7,298.9 C441.6,300.65 442.42,303.4 442.9,306 C443.38,308.6 443.78,312.5 443.6,314.5 C443.42,316.5 442.28,316.82 441.8,318 C441.32,319.18 441.2,320.1 440.7,321.6 C440.2,323.1 439.73,325.35 438.8,327 C437.87,328.65 436.4,330.17 435.1,331.5 C433.8,332.83 432.42,334.18 431,335 C429.58,335.82 428.1,336.23 426.6,336.4 C425.1,336.57 423.18,336.35 422,336 C420.82,335.65 420.38,335.17 419.5,334.3 C418.62,333.43 418.28,331.22 416.7,330.8 C415.12,330.38 412.37,331.68 410,331.8 C407.63,331.92 405,331.63 402.5,331.5 C400,331.37 397.37,331.35 395,331 C392.63,330.65 390.22,330.15 388.3,329.4 C386.38,328.65 384.68,327.57 383.5,326.5 C382.32,325.43 382.28,323.92 381.2,323 C380.12,322.08 378.17,321.95 377,321 C375.83,320.05 374.95,318.55 374.2,317.3 C373.45,316.05 372.87,314.68 372.5,313.5 C372.13,312.32 372.67,311.2 372,310.2 C371.33,309.2 369.32,308.43 368.5,307.5 C367.68,306.57 367.3,305.77 367.1,304.6 C366.9,303.43 367.07,301.68 367.3,300.5 C367.53,299.32 367.88,298.83 368.5,297.5 C369.12,296.17 370.05,293.92 371,292.5 C371.95,291.08 372.95,290.08 374.2,289 C375.45,287.92 377.08,286.72 378.5,286 C379.92,285.28 381.37,285.03 382.7,284.7 C384.03,284.37 385.33,284.47 386.5,284 C387.67,283.53 389.35,282.9 389.7,281.9 C390.05,280.9 388.72,279.18 388.6,278 C388.48,276.82 388.55,275.8 389,274.8 C389.45,273.8 390.47,272.7 391.3,272 C392.13,271.3 393.38,271.52 394,270.6 C394.62,269.68 394.53,267.68 395,266.5 C395.47,265.32 396.05,264.25 396.8,263.5 C397.55,262.75 398.55,262.32 399.5,262 C400.45,261.68 401.17,261.47 402.5,261.6Z"/></clipPath></defs>
<g clip-path="url(#lgclip)">
<ellipse cx="430" cy="316" rx="17" ry="20" fill="url(#lgdark)"/>
<ellipse cx="388" cy="276" rx="8" ry="10" fill="url(#lgdark)" opacity="0.6"/>
<ellipse cx="402" cy="268.5" rx="5" ry="5" fill="#aebeeb" stroke="#9db2e6" stroke-width="0.5"/>
<ellipse cx="397" cy="281" rx="5" ry="3.5" fill="#adbdeb" stroke="#9db2e6" stroke-width="0.5"/>
<ellipse cx="411" cy="291" rx="9" ry="7" fill="#adbdeb" stroke="#9db2e6" stroke-width="0.5"/>
<ellipse cx="384" cy="300" rx="8" ry="6" fill="#acbbea" stroke="#9db2e6" stroke-width="0.5"/>
<ellipse cx="397" cy="318" rx="8" ry="5" fill="#adbdeb" stroke="#9db2e6" stroke-width="0.5"/>
<ellipse cx="414" cy="316" rx="8" ry="3.5" fill="#b1c0ec" stroke="#9db2e6" stroke-width="0.5"/>
<ellipse cx="423" cy="302" rx="4" ry="3" fill="#afbeeb" stroke="#9db2e6" stroke-width="0.5"/>
<ellipse cx="432" cy="296" rx="4" ry="3" fill="#afbeeb" stroke="#9db2e6" stroke-width="0.5"/>
<ellipse cx="378" cy="312" rx="4" ry="3" fill="#adbdeb" stroke="#9db2e6" stroke-width="0.5"/>
<ellipse cx="425" cy="327" rx="4" ry="3" fill="#adbdeb" stroke="#9db2e6" stroke-width="0.5"/>
</g>
<ellipse cx="718.1" cy="313.4" rx="36.7" ry="34.8" fill="none" stroke="#404040" stroke-width="1.8"/>
<path d="M736.5,283.2 A36.7,34.8 0 0 1 751.5,298.5" fill="none" stroke="#2e7bc4" stroke-width="5.6"/>
<text x="436.5" y="423.1" fill="#1f1f1f" stroke="#1f1f1f" stroke-width="0.28" textLength="70.2" lengthAdjust="spacingAndGlyphs">Substrate</text>
<text x="456.8" y="441.8" fill="#1f1f1f" stroke="#1f1f1f" stroke-width="0.28" textLength="29.85" lengthAdjust="spacingAndGlyphs">+ O<tspan font-size="10.5" dy="2.3">2</tspan></text>
<text x="572.8" y="416.5" fill="#1f1f1f" stroke="#1f1f1f" stroke-width="0.28" textLength="104.19" lengthAdjust="spacingAndGlyphs"><tspan font-size="14">bioluminescence</tspan></text>
<text x="675.46" y="448" fill="#2a2a2a" stroke="#2a2a2a" stroke-width="0.28" textLength="90.16" lengthAdjust="spacingAndGlyphs"><tspan font-size="13.5">Luminescense</tspan></text>
<text x="676.5" y="462.6" fill="#2a2a2a" stroke="#2a2a2a" stroke-width="0.28" textLength="115.52" lengthAdjust="spacingAndGlyphs"><tspan font-size="13.5">emission (480 nm)</tspan></text>
<defs><radialGradient id="glow"><stop offset="0.55" stop-color="#7fe3ff" stop-opacity="1"/><stop offset="1" stop-color="#bff2ff" stop-opacity="0"/></radialGradient><radialGradient id="ball" cx="0.4" cy="0.35" r="0.7"><stop offset="0" stop-color="#86d0ea"/><stop offset="0.6" stop-color="#62bfe0"/><stop offset="1" stop-color="#4aaed3"/></radialGradient><linearGradient id="arr" x1="480" y1="0" x2="548" y2="0" gradientUnits="userSpaceOnUse"><stop offset="0" stop-color="#e0e0e0"/><stop offset="0.35" stop-color="#555"/><stop offset="1" stop-color="#1e1e1e"/></linearGradient><linearGradient id="wv" x1="0" y1="0" x2="1" y2="0"><stop offset="0" stop-color="#0fc2f7" stop-opacity="0"/><stop offset="0.28" stop-color="#0fc2f7" stop-opacity="0.65"/><stop offset="0.45" stop-color="#0fc2f7"/><stop offset="1" stop-color="#0fc2f7"/></linearGradient></defs>
<circle cx="551.1" cy="458.6" r="15" fill="url(#glow)"/>
<circle cx="475.5" cy="458.6" r="9.4" fill="url(#ball)" stroke="#4fb0d4" stroke-width="0.6"/>
<circle cx="551.1" cy="458.6" r="9.0" fill="url(#ball)" stroke="#4fb0d4" stroke-width="0.6"/>
<path d="M576.5,437.66 L577,437.78 L577.5,437.85 L578,437.89 L578.5,437.9 L579,437.86 L579.5,437.79 L580,437.69 L580.5,437.55 L581,437.38 L581.5,437.18 L582,436.95 L582.5,436.7 L583,436.43 L583.5,436.15 L584,435.86 L584.5,435.56 L585,435.26 L585.5,434.97 L586,434.68 L586.5,434.41 L587,434.15 L587.5,433.91 L588,433.7 L588.5,433.52 L589,433.36 L589.5,433.24 L590,433.16 L590.5,433.11 L591,433.1 L591.5,433.13 L592,433.19 L592.5,433.29 L593,433.42 L593.5,433.59 L594,433.78 L594.5,434 L595,434.25 L595.5,434.51 L596,434.79 L596.5,435.08 L597,435.38 L597.5,435.68 L598,435.98 L598.5,436.26 L599,436.54 L599.5,436.8 L600,437.04 L600.5,437.26 L601,437.45 L601.5,437.61 L602,437.73 L602.5,437.83 L603,437.88 L603.5,437.9 L604,437.88 L604.5,437.83 L605,437.73 L605.5,437.61 L606,437.45 L606.5,437.26 L607,437.04 L607.5,436.8 L608,436.54 L608.5,436.26 L609,435.98 L609.5,435.68 L610,435.38 L610.5,435.08 L611,434.79 L611.5,434.51 L612,434.25 L612.5,434 L613,433.78 L613.5,433.59 L614,433.42 L614.5,433.29 L615,433.19 L615.5,433.13 L616,433.1 L616.5,433.11 L617,433.16 L617.5,433.24 L618,433.36 L618.5,433.52 L619,433.7 L619.5,433.91 L620,434.15 L620.5,434.41 L621,434.68 L621.5,434.97 L622,435.26 L622.5,435.56 L623,435.86 L623.5,436.15 L624,436.43 L624.5,436.7 L625,436.95 L625.5,437.18 L626,437.38 L626.5,437.55 L627,437.69 L627.5,437.79 L628,437.86 L628.5,437.9 L629,437.89 L629.5,437.85 L630,437.78 L630.5,437.66 L631,437.52 L631.5,437.34 L632,437.13 L632.5,436.9 L633,436.65 L633.5,436.38 L634,436.09 L634.5,435.8 L635,435.5 L635.5,435.2 L636,434.91 L636.5,434.62 L637,434.35 L637.5,434.1 L638,433.87 L638.5,433.66 L639,433.48 L639.5,433.34 L640,433.22 L640.5,433.15 L641,433.11 L641.5,433.1 L642,433.14 L642.5,433.21 L643,433.31 L643.5,433.45 L644,433.62 L644.5,433.82 L645,434.05 L645.5,434.3 L646,434.57 L646.5,434.85 L647,435.14 L647.5,435.44 L648,435.74 L648.5,436.03 L649,436.32 L649.5,436.59 L650,436.85 L650.5,437.09 L651,437.3 L651.5,437.48 L652,437.64 L652.5,437.76 L653,437.84 L653.5,437.89 L654,437.9 L654.5,437.87 L655,437.81 L655.5,437.71 L656,437.58 L656.5,437.41 L657,437.22 L657.5,437 L658,436.75 L658.5,436.49 L659,436.21" fill="none" stroke="url(#wv)" stroke-width="3.6"/><path d="M659,429.4 L671,436 L659,442.6Z" fill="#0fc2f7"/>
<path d="M574,453.34 L574.5,453.46 L575,453.54 L575.5,453.59 L576,453.6 L576.5,453.57 L577,453.51 L577.5,453.41 L578,453.28 L578.5,453.11 L579,452.92 L579.5,452.7 L580,452.45 L580.5,452.19 L581,451.91 L581.5,451.62 L582,451.32 L582.5,451.02 L583,450.72 L583.5,450.44 L584,450.16 L584.5,449.9 L585,449.66 L585.5,449.44 L586,449.25 L586.5,449.09 L587,448.97 L587.5,448.87 L588,448.82 L588.5,448.8 L589,448.82 L589.5,448.87 L590,448.97 L590.5,449.09 L591,449.25 L591.5,449.44 L592,449.66 L592.5,449.9 L593,450.16 L593.5,450.44 L594,450.72 L594.5,451.02 L595,451.32 L595.5,451.62 L596,451.91 L596.5,452.19 L597,452.45 L597.5,452.7 L598,452.92 L598.5,453.11 L599,453.28 L599.5,453.41 L600,453.51 L600.5,453.57 L601,453.6 L601.5,453.59 L602,453.54 L602.5,453.46 L603,453.34 L603.5,453.18 L604,453 L604.5,452.79 L605,452.55 L605.5,452.29 L606,452.02 L606.5,451.73 L607,451.44 L607.5,451.14 L608,450.84 L608.5,450.55 L609,450.27 L609.5,450 L610,449.75 L610.5,449.52 L611,449.32 L611.5,449.15 L612,449.01 L612.5,448.91 L613,448.84 L613.5,448.8 L614,448.81 L614.5,448.85 L615,448.92 L615.5,449.04 L616,449.18 L616.5,449.36 L617,449.57 L617.5,449.8 L618,450.05 L618.5,450.32 L619,450.61 L619.5,450.9 L620,451.2 L620.5,451.5 L621,451.79 L621.5,452.08 L622,452.35 L622.5,452.6 L623,452.83 L623.5,453.04 L624,453.22 L624.5,453.36 L625,453.48 L625.5,453.55 L626,453.59 L626.5,453.6 L627,453.56 L627.5,453.49 L628,453.39 L628.5,453.25 L629,453.08 L629.5,452.88 L630,452.65 L630.5,452.4 L631,452.13 L631.5,451.85 L632,451.56 L632.5,451.26 L633,450.96 L633.5,450.67 L634,450.38 L634.5,450.11 L635,449.85 L635.5,449.61 L636,449.4 L636.5,449.22 L637,449.06 L637.5,448.94 L638,448.86 L638.5,448.81 L639,448.8 L639.5,448.83 L640,448.89 L640.5,448.99 L641,449.12 L641.5,449.29 L642,449.48 L642.5,449.7 L643,449.95 L643.5,450.21 L644,450.49 L644.5,450.78 L645,451.08 L645.5,451.38 L646,451.68 L646.5,451.96 L647,452.24 L647.5,452.5 L648,452.74 L648.5,452.96 L649,453.15 L649.5,453.31 L650,453.43 L650.5,453.53 L651,453.58 L651.5,453.6 L652,453.58 L652.5,453.53 L653,453.43 L653.5,453.31 L654,453.15 L654.5,452.96 L655,452.74 L655.5,452.5 L656,452.24" fill="none" stroke="url(#wv)" stroke-width="3.6"/><path d="M656.2,445.5 L668.4,452.2 L656.2,458.9Z" fill="#0fc2f7"/>
<path d="M571.5,469.51 L572,469.63 L572.5,469.73 L573,469.78 L573.5,469.8 L574,469.78 L574.5,469.73 L575,469.63 L575.5,469.51 L576,469.35 L576.5,469.16 L577,468.94 L577.5,468.7 L578,468.44 L578.5,468.16 L579,467.88 L579.5,467.58 L580,467.28 L580.5,466.98 L581,466.69 L581.5,466.41 L582,466.15 L582.5,465.9 L583,465.68 L583.5,465.49 L584,465.32 L584.5,465.19 L585,465.09 L585.5,465.03 L586,465 L586.5,465.01 L587,465.06 L587.5,465.14 L588,465.26 L588.5,465.42 L589,465.6 L589.5,465.81 L590,466.05 L590.5,466.31 L591,466.58 L591.5,466.87 L592,467.16 L592.5,467.46 L593,467.76 L593.5,468.05 L594,468.33 L594.5,468.6 L595,468.85 L595.5,469.08 L596,469.28 L596.5,469.45 L597,469.59 L597.5,469.69 L598,469.76 L598.5,469.8 L599,469.79 L599.5,469.75 L600,469.68 L600.5,469.56 L601,469.42 L601.5,469.24 L602,469.03 L602.5,468.8 L603,468.55 L603.5,468.28 L604,467.99 L604.5,467.7 L605,467.4 L605.5,467.1 L606,466.81 L606.5,466.52 L607,466.25 L607.5,466 L608,465.77 L608.5,465.56 L609,465.38 L609.5,465.24 L610,465.12 L610.5,465.05 L611,465.01 L611.5,465 L612,465.04 L612.5,465.11 L613,465.21 L613.5,465.35 L614,465.52 L614.5,465.72 L615,465.95 L615.5,466.2 L616,466.47 L616.5,466.75 L617,467.04 L617.5,467.34 L618,467.64 L618.5,467.93 L619,468.22 L619.5,468.49 L620,468.75 L620.5,468.99 L621,469.2 L621.5,469.38 L622,469.54 L622.5,469.66 L623,469.74 L623.5,469.79 L624,469.8 L624.5,469.77 L625,469.71 L625.5,469.61 L626,469.48 L626.5,469.31 L627,469.12 L627.5,468.9 L628,468.65 L628.5,468.39 L629,468.11 L629.5,467.82 L630,467.52 L630.5,467.22 L631,466.92 L631.5,466.64 L632,466.36 L632.5,466.1 L633,465.86 L633.5,465.64 L634,465.45 L634.5,465.29 L635,465.17 L635.5,465.07 L636,465.02 L636.5,465 L637,465.02 L637.5,465.07 L638,465.17 L638.5,465.29 L639,465.45 L639.5,465.64 L640,465.86 L640.5,466.1 L641,466.36 L641.5,466.64 L642,466.92 L642.5,467.22 L643,467.52 L643.5,467.82 L644,468.11 L644.5,468.39 L645,468.65 L645.5,468.9 L646,469.12 L646.5,469.31 L647,469.48 L647.5,469.61 L648,469.71 L648.5,469.77 L649,469.8 L649.5,469.79 L650,469.74 L650.5,469.66 L651,469.54 L651.5,469.38 L652,469.2 L652.5,468.99 L653,468.75 L653.5,468.49 L654,468.22" fill="none" stroke="url(#wv)" stroke-width="3.6"/><path d="M654,461.8 L666.5,468.3 L654,474.8Z" fill="#0fc2f7"/>
<defs><radialGradient id="bead" cx="0.5" cy="0.45" r="0.6"><stop offset="0" stop-color="#1d8ccc"/><stop offset="0.25" stop-color="#0c6ba3"/><stop offset="0.8" stop-color="#0a6398"/><stop offset="1" stop-color="#094d78"/></radialGradient></defs>
<circle cx="504.6" cy="487" r="5.9" fill="url(#bead)" stroke="#0a4366" stroke-width="0.5"/>
<circle cx="516" cy="494.1" r="5.9" fill="url(#bead)" stroke="#0a4366" stroke-width="0.5"/>
<circle cx="526.5" cy="501.6" r="5.9" fill="url(#bead)" stroke="#0a4366" stroke-width="0.5"/>
<circle cx="535.4" cy="511.1" r="5.9" fill="url(#bead)" stroke="#0a4366" stroke-width="0.5"/>
<circle cx="543.2" cy="522.5" r="5.9" fill="url(#bead)" stroke="#0a4366" stroke-width="0.5"/>
<circle cx="547.1" cy="534.5" r="5.9" fill="url(#bead)" stroke="#0a4366" stroke-width="0.5"/>
<circle cx="550" cy="546.6" r="5.9" fill="url(#bead)" stroke="#0a4366" stroke-width="0.5"/>
<circle cx="553.4" cy="559.3" r="5.9" fill="url(#bead)" stroke="#0a4366" stroke-width="0.5"/>
<path d="M497.1,487.4 C498.6,487.48 501.43,488.27 503,489 C504.57,489.73 505.67,491.05 506.5,491.8 C507.33,492.55 507.25,492.8 508,493.5 C508.75,494.2 510.03,495.32 511,496 C511.97,496.68 512.8,497.22 513.8,497.6 C514.8,497.98 515.8,497.93 517,498.3 C518.2,498.67 519.67,499.32 521,499.8 C522.33,500.28 523.9,500.53 525,501.2 C526.1,501.87 526.85,502.7 527.6,503.8 C528.35,504.9 529,506.5 529.5,507.8 C530,509.1 529.98,510.93 530.6,511.6 C531.22,512.27 532.3,511.57 533.2,511.8 C534.1,512.03 535.08,511.8 536,513 C536.92,514.2 537.93,516.95 538.7,519 C539.47,521.05 540.18,523.2 540.6,525.3 C541.02,527.4 541.33,530.07 541.2,531.6 C541.07,533.13 540.33,533.65 539.8,534.5 C539.27,535.35 538.33,535.87 538,536.7 C537.67,537.53 538,538.67 537.8,539.5 C537.6,540.33 537.27,540.95 536.8,541.7 C536.33,542.45 535.63,543.37 535,544 C534.37,544.63 533.83,544.97 533,545.5 C532.17,546.03 531.05,546.88 530,547.2 C528.95,547.52 527.95,547.52 526.7,547.4 C525.45,547.28 523.75,546.6 522.5,546.5 C521.25,546.4 520.28,546.5 519.2,546.8 C518.12,547.1 517.05,548 516,548.3 C514.95,548.6 514.07,548.65 512.9,548.6 C511.73,548.55 510.27,548.1 509,548 C507.73,547.9 506.47,547.7 505.3,548 C504.13,548.3 503.05,549.38 502,549.8 C500.95,550.22 500.08,550.42 499,550.5 C497.92,550.58 496.55,550.5 495.5,550.3 C494.45,550.1 493.7,549.75 492.7,549.3 C491.7,548.85 490.55,548.23 489.5,547.6 C488.45,546.97 487.4,546.13 486.4,545.5 C485.4,544.87 484.33,544.43 483.5,543.8 C482.67,543.17 482,542.58 481.4,541.7 C480.8,540.82 480.32,539.55 479.9,538.5 C479.48,537.45 479.52,536.02 478.9,535.4 C478.28,534.78 476.95,535.22 476.2,534.8 C475.45,534.38 474.9,534.05 474.4,532.9 C473.9,531.75 473.27,529.3 473.2,527.9 C473.13,526.5 473.58,525.55 474,524.5 C474.42,523.45 475.37,522.68 475.7,521.6 C476.03,520.52 475.68,519.05 476,518 C476.32,516.95 476.93,516.13 477.6,515.3 C478.27,514.47 479.17,513.53 480,513 C480.83,512.47 481.68,512.43 482.6,512.1 C483.52,511.77 484.65,511.52 485.5,511 C486.35,510.48 487.35,509.92 487.7,509 C488.05,508.08 487.72,506.55 487.6,505.5 C487.48,504.45 487.05,503.62 487,502.7 C486.95,501.78 487.08,500.85 487.3,500 C487.52,499.15 487.93,498.6 488.3,497.6 C488.67,496.6 488.98,495.05 489.5,494 C490.02,492.95 490.65,492.22 491.4,491.3 C492.15,490.38 493.05,489.15 494,488.5 C494.95,487.85 495.6,487.32 497.1,487.4Z" fill="#a8b7e7" stroke="#7b93d5" stroke-width="0.9"/>
<defs><clipPath id="nlclip"><path d="M497.1,487.4 C498.6,487.48 501.43,488.27 503,489 C504.57,489.73 505.67,491.05 506.5,491.8 C507.33,492.55 507.25,492.8 508,493.5 C508.75,494.2 510.03,495.32 511,496 C511.97,496.68 512.8,497.22 513.8,497.6 C514.8,497.98 515.8,497.93 517,498.3 C518.2,498.67 519.67,499.32 521,499.8 C522.33,500.28 523.9,500.53 525,501.2 C526.1,501.87 526.85,502.7 527.6,503.8 C528.35,504.9 529,506.5 529.5,507.8 C530,509.1 529.98,510.93 530.6,511.6 C531.22,512.27 532.3,511.57 533.2,511.8 C534.1,512.03 535.08,511.8 536,513 C536.92,514.2 537.93,516.95 538.7,519 C539.47,521.05 540.18,523.2 540.6,525.3 C541.02,527.4 541.33,530.07 541.2,531.6 C541.07,533.13 540.33,533.65 539.8,534.5 C539.27,535.35 538.33,535.87 538,536.7 C537.67,537.53 538,538.67 537.8,539.5 C537.6,540.33 537.27,540.95 536.8,541.7 C536.33,542.45 535.63,543.37 535,544 C534.37,544.63 533.83,544.97 533,545.5 C532.17,546.03 531.05,546.88 530,547.2 C528.95,547.52 527.95,547.52 526.7,547.4 C525.45,547.28 523.75,546.6 522.5,546.5 C521.25,546.4 520.28,546.5 519.2,546.8 C518.12,547.1 517.05,548 516,548.3 C514.95,548.6 514.07,548.65 512.9,548.6 C511.73,548.55 510.27,548.1 509,548 C507.73,547.9 506.47,547.7 505.3,548 C504.13,548.3 503.05,549.38 502,549.8 C500.95,550.22 500.08,550.42 499,550.5 C497.92,550.58 496.55,550.5 495.5,550.3 C494.45,550.1 493.7,549.75 492.7,549.3 C491.7,548.85 490.55,548.23 489.5,547.6 C488.45,546.97 487.4,546.13 486.4,545.5 C485.4,544.87 484.33,544.43 483.5,543.8 C482.67,543.17 482,542.58 481.4,541.7 C480.8,540.82 480.32,539.55 479.9,538.5 C479.48,537.45 479.52,536.02 478.9,535.4 C478.28,534.78 476.95,535.22 476.2,534.8 C475.45,534.38 474.9,534.05 474.4,532.9 C473.9,531.75 473.27,529.3 473.2,527.9 C473.13,526.5 473.58,525.55 474,524.5 C474.42,523.45 475.37,522.68 475.7,521.6 C476.03,520.52 475.68,519.05 476,518 C476.32,516.95 476.93,516.13 477.6,515.3 C478.27,514.47 479.17,513.53 480,513 C480.83,512.47 481.68,512.43 482.6,512.1 C483.52,511.77 484.65,511.52 485.5,511 C486.35,510.48 487.35,509.92 487.7,509 C488.05,508.08 487.72,506.55 487.6,505.5 C487.48,504.45 487.05,503.62 487,502.7 C486.95,501.78 487.08,500.85 487.3,500 C487.52,499.15 487.93,498.6 488.3,497.6 C488.67,496.6 488.98,495.05 489.5,494 C490.02,492.95 490.65,492.22 491.4,491.3 C492.15,490.38 493.05,489.15 494,488.5 C494.95,487.85 495.6,487.32 497.1,487.4Z"/></clipPath></defs>
<g clip-path="url(#nlclip)">
<ellipse cx="529" cy="532" rx="15" ry="17" fill="url(#lgdark)"/>
<ellipse cx="496" cy="494" rx="4.5" ry="4" fill="#b0bdec" stroke="#9fb1e5" stroke-width="0.5"/>
<ellipse cx="493" cy="505" rx="5" ry="4" fill="#aebbeb" stroke="#9fb1e5" stroke-width="0.5"/>
<ellipse cx="510" cy="509" rx="8" ry="6" fill="#adbbea" stroke="#9fb1e5" stroke-width="0.5"/>
<ellipse cx="487" cy="526" rx="6" ry="5" fill="#adbbea" stroke="#9fb1e5" stroke-width="0.5"/>
<ellipse cx="511" cy="536" rx="8" ry="3.5" fill="#b2bfec" stroke="#9fb1e5" stroke-width="0.5"/>
<ellipse cx="496" cy="541" rx="5" ry="3.5" fill="#afbcea" stroke="#9fb1e5" stroke-width="0.5"/>
<ellipse cx="522" cy="519" rx="4" ry="3" fill="#aebcea" stroke="#9fb1e5" stroke-width="0.5"/>
<ellipse cx="480" cy="530" rx="3.5" ry="3" fill="#aebcea" stroke="#9fb1e5" stroke-width="0.5"/>
</g>
<path d="M480.6,468.2 C488,482 500,487.5 512.3,487.5 C524,487.5 533,482 540,476" fill="none" stroke="url(#arr)" stroke-width="2.2"/>
<path d="M547.6,469.4 L537.2,474.2 L545.6,480.6Z" fill="#1e1e1e"/>
<text x="397.04" y="508" fill="#111" stroke="#111" stroke-width="0.28" textLength="65.86" lengthAdjust="spacingAndGlyphs"><tspan font-weight="700">NanoLuc</tspan></text>
<defs><clipPath id="cyclip"><path d="M546.8,566.3 C547.53,564.83 549.03,564.42 550.5,563.8 C551.97,563.18 553.92,562.6 555.6,562.6 C557.28,562.6 559.65,562.55 560.6,563.8 C561.55,565.05 561.3,567.78 561.3,570.1 C561.3,572.42 560.5,575.38 560.6,577.7 C560.7,580.02 561.05,581.9 561.9,584 C562.75,586.1 564.65,588.2 565.7,590.3 C566.75,592.4 567.68,594.08 568.2,596.6 C568.72,599.12 568.58,602.88 568.8,605.4 C569.02,607.92 569.82,609.8 569.5,611.7 C569.18,613.6 567.02,614.9 566.9,616.8 C566.78,618.7 568.8,621.42 568.8,623.1 C568.8,624.78 567.83,625.65 566.9,626.9 C565.97,628.15 564.45,629.42 563.2,630.6 C561.95,631.78 560.67,633.1 559.4,634 C558.13,634.9 562.95,635.67 555.6,636 C548.25,636.33 522.23,636.68 515.3,636 C508.37,635.32 514.85,633.22 514,631.9 C513.15,630.58 512.3,629.47 510.2,628.1 C508.1,626.73 503.6,625.17 501.4,623.7 C499.2,622.23 497.95,621.08 497,619.3 C496.05,617.52 496.23,615.32 495.7,613 C495.17,610.68 494.22,608.13 493.8,605.4 C493.38,602.67 493.83,599.75 493.2,596.6 C492.57,593.45 490.63,588.6 490,586.5 C489.37,584.4 488.55,584.73 489.4,584 C490.25,583.27 492.68,582.83 495.1,582.1 C497.52,581.37 501.6,580.65 503.9,579.6 C506.2,578.55 507.22,576.97 508.9,575.8 C510.58,574.63 512.32,572.92 514,572.6 C515.68,572.28 517.32,573.68 519,573.9 C520.68,574.12 522.62,573.27 524.1,573.9 C525.58,574.53 526.65,576.97 527.9,577.7 C529.15,578.43 529.93,577.88 531.6,578.3 C533.27,578.72 535.8,580.2 537.9,580.2 C540,580.2 542.83,579.57 544.2,578.3 C545.57,577.03 545.67,574.6 546.1,572.6 C546.53,570.6 546.07,567.77 546.8,566.3Z"/></clipPath></defs>
<path d="M546.8,566.3 C547.53,564.83 549.03,564.42 550.5,563.8 C551.97,563.18 553.92,562.6 555.6,562.6 C557.28,562.6 559.65,562.55 560.6,563.8 C561.55,565.05 561.3,567.78 561.3,570.1 C561.3,572.42 560.5,575.38 560.6,577.7 C560.7,580.02 561.05,581.9 561.9,584 C562.75,586.1 564.65,588.2 565.7,590.3 C566.75,592.4 567.68,594.08 568.2,596.6 C568.72,599.12 568.58,602.88 568.8,605.4 C569.02,607.92 569.82,609.8 569.5,611.7 C569.18,613.6 567.02,614.9 566.9,616.8 C566.78,618.7 568.8,621.42 568.8,623.1 C568.8,624.78 567.83,625.65 566.9,626.9 C565.97,628.15 564.45,629.42 563.2,630.6 C561.95,631.78 560.67,633.1 559.4,634 C558.13,634.9 562.95,635.67 555.6,636 C548.25,636.33 522.23,636.68 515.3,636 C508.37,635.32 514.85,633.22 514,631.9 C513.15,630.58 512.3,629.47 510.2,628.1 C508.1,626.73 503.6,625.17 501.4,623.7 C499.2,622.23 497.95,621.08 497,619.3 C496.05,617.52 496.23,615.32 495.7,613 C495.17,610.68 494.22,608.13 493.8,605.4 C493.38,602.67 493.83,599.75 493.2,596.6 C492.57,593.45 490.63,588.6 490,586.5 C489.37,584.4 488.55,584.73 489.4,584 C490.25,583.27 492.68,582.83 495.1,582.1 C497.52,581.37 501.6,580.65 503.9,579.6 C506.2,578.55 507.22,576.97 508.9,575.8 C510.58,574.63 512.32,572.92 514,572.6 C515.68,572.28 517.32,573.68 519,573.9 C520.68,574.12 522.62,573.27 524.1,573.9 C525.58,574.53 526.65,576.97 527.9,577.7 C529.15,578.43 529.93,577.88 531.6,578.3 C533.27,578.72 535.8,580.2 537.9,580.2 C540,580.2 542.83,579.57 544.2,578.3 C545.57,577.03 545.67,574.6 546.1,572.6 C546.53,570.6 546.07,567.77 546.8,566.3Z" fill="#a2d4e2"/>
<g clip-path="url(#cyclip)"><circle cx="514" cy="574" r="3" fill="#6c9cab"/><circle cx="530" cy="579" r="3" fill="#6c9cab"/><circle cx="541" cy="580" r="2.5" fill="#6c9cab"/><circle cx="496" cy="594" r="3.5" fill="#6c9cab"/><circle cx="523" cy="618" r="4" fill="#6c9cab"/><circle cx="503" cy="608" r="2.5" fill="#6c9cab"/><circle cx="562" cy="608" r="3" fill="#6c9cab"/><circle cx="558" cy="594" r="2.5" fill="#6c9cab"/><circle cx="536" cy="600" r="3.5" fill="#6c9cab"/><ellipse cx="514.53" cy="572.07" rx="4.04" ry="4.29" transform="rotate(118.85 514.53 572.07)" fill="#abdfec" stroke="#5f909e" stroke-width="0.35"/><ellipse cx="542.33" cy="565.79" rx="4.39" ry="2.84" transform="rotate(84.19 542.33 565.79)" fill="#afe2ef" stroke="#5f909e" stroke-width="0.35"/><ellipse cx="532.55" cy="589.26" rx="4.89" ry="3.72" transform="rotate(178.18 532.55 589.26)" fill="#abdfec" stroke="#5f909e" stroke-width="0.35"/><ellipse cx="491.93" cy="600.59" rx="4.07" ry="3.58" transform="rotate(92.81 491.93 600.59)" fill="#b3e6f2" stroke="#5f909e" stroke-width="0.35"/><ellipse cx="490.19" cy="594.69" rx="4.97" ry="3.39" transform="rotate(16.59 490.19 594.69)" fill="#b3e6f2" stroke="#5f909e" stroke-width="0.35"/><ellipse cx="492.94" cy="567.26" rx="3.57" ry="3.89" transform="rotate(79.28 492.94 567.26)" fill="#afe2ef" stroke="#5f909e" stroke-width="0.35"/><ellipse cx="523.08" cy="626.15" rx="4.85" ry="3.79" transform="rotate(53.18 523.08 626.15)" fill="#afe2ef" stroke="#5f909e" stroke-width="0.35"/><ellipse cx="497.52" cy="577.86" rx="3.89" ry="4.8" transform="rotate(41.14 497.52 577.86)" fill="#afe2ef" stroke="#5f909e" stroke-width="0.35"/><ellipse cx="540.33" cy="635.82" rx="3.79" ry="3.18" transform="rotate(163.06 540.33 635.82)" fill="#abdfec" stroke="#5f909e" stroke-width="0.35"/><ellipse cx="536.05" cy="591.73" rx="4.45" ry="2.82" transform="rotate(76.01 536.05 591.73)" fill="#b3e6f2" stroke="#5f909e" stroke-width="0.35"/><ellipse cx="569.98" cy="563.73" rx="4.92" ry="3.84" transform="rotate(92.66 569.98 563.73)" fill="#a8dbe9" stroke="#5f909e" stroke-width="0.35"/><ellipse cx="559.97" cy="583.17" rx="5.95" ry="2.72" transform="rotate(10.35 559.97 583.17)" fill="#abdfec" stroke="#5f909e" stroke-width="0.35"/><ellipse cx="499.26" cy="569.42" rx="4.99" ry="2.68" transform="rotate(168.9 499.26 569.42)" fill="#afe2ef" stroke="#5f909e" stroke-width="0.35"/><ellipse cx="513.22" cy="625.29" rx="6.31" ry="2.71" transform="rotate(154.12 513.22 625.29)" fill="#afe2ef" stroke="#5f909e" stroke-width="0.35"/><ellipse cx="502.36" cy="606.53" rx="4.43" ry="2.8" transform="rotate(2.08 502.36 606.53)" fill="#a8dbe9" stroke="#5f909e" stroke-width="0.35"/><ellipse cx="541.31" cy="589.79" rx="6.74" ry="3.17" transform="rotate(23.26 541.31 589.79)" fill="#abdfec" stroke="#5f909e" stroke-width="0.35"/><ellipse cx="533.56" cy="565.02" rx="6.78" ry="4.92" transform="rotate(47.14 533.56 565.02)" fill="#abdfec" stroke="#5f909e" stroke-width="0.35"/><ellipse cx="492.07" cy="576.48" rx="4.21" ry="3.28" transform="rotate(54.9 492.07 576.48)" fill="#abdfec" stroke="#5f909e" stroke-width="0.35"/><ellipse cx="544.83" cy="594.21" rx="4.51" ry="3.75" transform="rotate(32.02 544.83 594.21)" fill="#b3e6f2" stroke="#5f909e" stroke-width="0.35"/><ellipse cx="513.7" cy="606.84" rx="6.31" ry="4.99" transform="rotate(6.65 513.7 606.84)" fill="#afe2ef" stroke="#5f909e" stroke-width="0.35"/><ellipse cx="525.52" cy="583.98" rx="6.07" ry="3.88" transform="rotate(34.1 525.52 583.98)" fill="#a8dbe9" stroke="#5f909e" stroke-width="0.35"/><ellipse cx="554.52" cy="615.92" rx="4.36" ry="3.62" transform="rotate(118.5 554.52 615.92)" fill="#a8dbe9" stroke="#5f909e" stroke-width="0.35"/><ellipse cx="507.75" cy="605.95" rx="5.8" ry="3.86" transform="rotate(159.97 507.75 605.95)" fill="#b3e6f2" stroke="#5f909e" stroke-width="0.35"/><ellipse cx="531.64" cy="630.01" rx="5.91" ry="4.96" transform="rotate(61.69 531.64 630.01)" fill="#abdfec" stroke="#5f909e" stroke-width="0.35"/><ellipse cx="549" cy="583.04" rx="4.92" ry="3.37" transform="rotate(9.79 549 583.04)" fill="#abdfec" stroke="#5f909e" stroke-width="0.35"/><ellipse cx="570.31" cy="569.45" rx="3.55" ry="4.06" transform="rotate(158.37 570.31 569.45)" fill="#a8dbe9" stroke="#5f909e" stroke-width="0.35"/><ellipse cx="522.54" cy="620.57" rx="4.07" ry="2.71" transform="rotate(151.43 522.54 620.57)" fill="#b3e6f2" stroke="#5f909e" stroke-width="0.35"/><ellipse cx="499.92" cy="599.12" rx="5.6" ry="4.23" transform="rotate(8.14 499.92 599.12)" fill="#abdfec" stroke="#5f909e" stroke-width="0.35"/><ellipse cx="490.33" cy="613.46" rx="4.05" ry="3.61" transform="rotate(47.38 490.33 613.46)" fill="#b3e6f2" stroke="#5f909e" stroke-width="0.35"/><ellipse cx="551.99" cy="605.84" rx="6.9" ry="3.87" transform="rotate(44 551.99 605.84)" fill="#b3e6f2" stroke="#5f909e" stroke-width="0.35"/><ellipse cx="561.42" cy="585.1" rx="4.26" ry="2.96" transform="rotate(60.36 561.42 585.1)" fill="#afe2ef" stroke="#5f909e" stroke-width="0.35"/><ellipse cx="546.1" cy="607.55" rx="5.16" ry="3.76" transform="rotate(36.18 546.1 607.55)" fill="#afe2ef" stroke="#5f909e" stroke-width="0.35"/><ellipse cx="536.29" cy="596.5" rx="3.82" ry="4.54" transform="rotate(25.9 536.29 596.5)" fill="#afe2ef" stroke="#5f909e" stroke-width="0.35"/><ellipse cx="558.4" cy="635.57" rx="4.88" ry="3.25" transform="rotate(113.34 558.4 635.57)" fill="#afe2ef" stroke="#5f909e" stroke-width="0.35"/><ellipse cx="527.3" cy="613.13" rx="5.55" ry="3.82" transform="rotate(135.1 527.3 613.13)" fill="#a8dbe9" stroke="#5f909e" stroke-width="0.35"/><ellipse cx="492.16" cy="616.12" rx="6.18" ry="4.3" transform="rotate(88.95 492.16 616.12)" fill="#b3e6f2" stroke="#5f909e" stroke-width="0.35"/><ellipse cx="542.01" cy="639.45" rx="6.03" ry="4.11" transform="rotate(7.88 542.01 639.45)" fill="#a8dbe9" stroke="#5f909e" stroke-width="0.35"/><ellipse cx="556.86" cy="582.77" rx="6.07" ry="4.53" transform="rotate(25.08 556.86 582.77)" fill="#afe2ef" stroke="#5f909e" stroke-width="0.35"/><ellipse cx="519.79" cy="613.49" rx="6.39" ry="3.96" transform="rotate(160.71 519.79 613.49)" fill="#abdfec" stroke="#5f909e" stroke-width="0.35"/><ellipse cx="488.92" cy="596.94" rx="3.8" ry="2.6" transform="rotate(114.68 488.92 596.94)" fill="#afe2ef" stroke="#5f909e" stroke-width="0.35"/><ellipse cx="501.28" cy="569.37" rx="4.82" ry="3.63" transform="rotate(9.14 501.28 569.37)" fill="#afe2ef" stroke="#5f909e" stroke-width="0.35"/><ellipse cx="492.01" cy="621.46" rx="5.69" ry="4.2" transform="rotate(88.07 492.01 621.46)" fill="#afe2ef" stroke="#5f909e" stroke-width="0.35"/><ellipse cx="497.99" cy="579.81" rx="5.1" ry="2.68" transform="rotate(167.85 497.99 579.81)" fill="#afe2ef" stroke="#5f909e" stroke-width="0.35"/><ellipse cx="520.23" cy="629.71" rx="5.81" ry="2.67" transform="rotate(132.62 520.23 629.71)" fill="#b3e6f2" stroke="#5f909e" stroke-width="0.35"/><ellipse cx="493.85" cy="595.93" rx="6.33" ry="4.62" transform="rotate(42.26 493.85 595.93)" fill="#abdfec" stroke="#5f909e" stroke-width="0.35"/><ellipse cx="533.7" cy="630.67" rx="4.31" ry="4.12" transform="rotate(82.86 533.7 630.67)" fill="#a8dbe9" stroke="#5f909e" stroke-width="0.35"/><ellipse cx="556.64" cy="629.12" rx="3.77" ry="4.78" transform="rotate(51.72 556.64 629.12)" fill="#afe2ef" stroke="#5f909e" stroke-width="0.35"/><ellipse cx="510.67" cy="593.22" rx="5.66" ry="4.11" transform="rotate(13.94 510.67 593.22)" fill="#abdfec" stroke="#5f909e" stroke-width="0.35"/><ellipse cx="517.5" cy="630.74" rx="4.66" ry="4.13" transform="rotate(124.72 517.5 630.74)" fill="#abdfec" stroke="#5f909e" stroke-width="0.35"/><ellipse cx="568.41" cy="572.07" rx="3.54" ry="2.65" transform="rotate(48.38 568.41 572.07)" fill="#afe2ef" stroke="#5f909e" stroke-width="0.35"/><ellipse cx="501.98" cy="578.56" rx="5.92" ry="4.19" transform="rotate(52.35 501.98 578.56)" fill="#b3e6f2" stroke="#5f909e" stroke-width="0.35"/><ellipse cx="506.83" cy="598.8" rx="5.13" ry="3.67" transform="rotate(21.33 506.83 598.8)" fill="#abdfec" stroke="#5f909e" stroke-width="0.35"/><ellipse cx="537.08" cy="581.02" rx="4.59" ry="2.71" transform="rotate(85.13 537.08 581.02)" fill="#b3e6f2" stroke="#5f909e" stroke-width="0.35"/><ellipse cx="487.35" cy="593.52" rx="5.11" ry="4.55" transform="rotate(174.26 487.35 593.52)" fill="#a8dbe9" stroke="#5f909e" stroke-width="0.35"/><ellipse cx="518.39" cy="605.31" rx="6.98" ry="3.47" transform="rotate(164.98 518.39 605.31)" fill="#abdfec" stroke="#5f909e" stroke-width="0.35"/><ellipse cx="568.01" cy="615.24" rx="3.76" ry="2.73" transform="rotate(134.55 568.01 615.24)" fill="#b3e6f2" stroke="#5f909e" stroke-width="0.35"/><ellipse cx="530.82" cy="609.41" rx="6.83" ry="2.83" transform="rotate(147.64 530.82 609.41)" fill="#b3e6f2" stroke="#5f909e" stroke-width="0.35"/><ellipse cx="544.48" cy="564.32" rx="6.6" ry="4.26" transform="rotate(41.65 544.48 564.32)" fill="#a8dbe9" stroke="#5f909e" stroke-width="0.35"/><ellipse cx="563.46" cy="622.4" rx="4.88" ry="2.9" transform="rotate(170.99 563.46 622.4)" fill="#a8dbe9" stroke="#5f909e" stroke-width="0.35"/><ellipse cx="561.33" cy="623.83" rx="4.92" ry="4.32" transform="rotate(74.91 561.33 623.83)" fill="#a8dbe9" stroke="#5f909e" stroke-width="0.35"/><ellipse cx="520.35" cy="591.92" rx="4.61" ry="4.6" transform="rotate(0.31 520.35 591.92)" fill="#b3e6f2" stroke="#5f909e" stroke-width="0.35"/><ellipse cx="495.8" cy="610.74" rx="6.44" ry="2.8" transform="rotate(166.75 495.8 610.74)" fill="#afe2ef" stroke="#5f909e" stroke-width="0.35"/><ellipse cx="492.29" cy="565.39" rx="6.66" ry="3.22" transform="rotate(67 492.29 565.39)" fill="#a8dbe9" stroke="#5f909e" stroke-width="0.35"/><ellipse cx="504.74" cy="572.98" rx="4.87" ry="4.67" transform="rotate(13.75 504.74 572.98)" fill="#a8dbe9" stroke="#5f909e" stroke-width="0.35"/><ellipse cx="515.9" cy="564.21" rx="6.14" ry="4.64" transform="rotate(50.51 515.9 564.21)" fill="#afe2ef" stroke="#5f909e" stroke-width="0.35"/><ellipse cx="487.02" cy="572.1" rx="6.42" ry="3.21" transform="rotate(168.41 487.02 572.1)" fill="#abdfec" stroke="#5f909e" stroke-width="0.35"/><ellipse cx="495.62" cy="589.09" rx="6.9" ry="3.59" transform="rotate(56.81 495.62 589.09)" fill="#b3e6f2" stroke="#5f909e" stroke-width="0.35"/><ellipse cx="489.17" cy="629.95" rx="6.25" ry="3.57" transform="rotate(5.22 489.17 629.95)" fill="#a8dbe9" stroke="#5f909e" stroke-width="0.35"/><ellipse cx="539.2" cy="571.88" rx="6.7" ry="4.85" transform="rotate(98.86 539.2 571.88)" fill="#afe2ef" stroke="#5f909e" stroke-width="0.35"/><ellipse cx="508.44" cy="587.79" rx="3.67" ry="4.33" transform="rotate(81.15 508.44 587.79)" fill="#abdfec" stroke="#5f909e" stroke-width="0.35"/><ellipse cx="517.95" cy="569.83" rx="5.76" ry="3.22" transform="rotate(8.82 517.95 569.83)" fill="#abdfec" stroke="#5f909e" stroke-width="0.35"/><ellipse cx="559.16" cy="639.45" rx="4.1" ry="3.54" transform="rotate(50.71 559.16 639.45)" fill="#b3e6f2" stroke="#5f909e" stroke-width="0.35"/><ellipse cx="526.61" cy="598.71" rx="6.09" ry="4.94" transform="rotate(46.83 526.61 598.71)" fill="#abdfec" stroke="#5f909e" stroke-width="0.35"/><ellipse cx="494.3" cy="568.18" rx="4.55" ry="3.89" transform="rotate(70.99 494.3 568.18)" fill="#abdfec" stroke="#5f909e" stroke-width="0.35"/><ellipse cx="516.12" cy="581.18" rx="5.75" ry="2.69" transform="rotate(90.11 516.12 581.18)" fill="#a8dbe9" stroke="#5f909e" stroke-width="0.35"/><ellipse cx="557.45" cy="572.92" rx="5.43" ry="3.63" transform="rotate(59.91 557.45 572.92)" fill="#a8dbe9" stroke="#5f909e" stroke-width="0.35"/><ellipse cx="488.96" cy="636.08" rx="5" ry="3.87" transform="rotate(43.94 488.96 636.08)" fill="#abdfec" stroke="#5f909e" stroke-width="0.35"/><ellipse cx="531.9" cy="571.73" rx="4.7" ry="2.73" transform="rotate(43.04 531.9 571.73)" fill="#b3e6f2" stroke="#5f909e" stroke-width="0.35"/><ellipse cx="533.17" cy="562.16" rx="6.33" ry="3.01" transform="rotate(3.61 533.17 562.16)" fill="#a8dbe9" stroke="#5f909e" stroke-width="0.35"/><ellipse cx="531.89" cy="638.28" rx="4.84" ry="4.36" transform="rotate(37.8 531.89 638.28)" fill="#b3e6f2" stroke="#5f909e" stroke-width="0.35"/><ellipse cx="560.38" cy="615.7" rx="4.68" ry="2.66" transform="rotate(49.95 560.38 615.7)" fill="#b3e6f2" stroke="#5f909e" stroke-width="0.35"/><ellipse cx="509.19" cy="589.34" rx="3.94" ry="3.76" transform="rotate(113.33 509.19 589.34)" fill="#abdfec" stroke="#5f909e" stroke-width="0.35"/><ellipse cx="501.2" cy="621.76" rx="3.82" ry="4.74" transform="rotate(69.22 501.2 621.76)" fill="#a8dbe9" stroke="#5f909e" stroke-width="0.35"/><ellipse cx="532.27" cy="622.32" rx="5.01" ry="3.28" transform="rotate(146.58 532.27 622.32)" fill="#afe2ef" stroke="#5f909e" stroke-width="0.35"/><ellipse cx="515.02" cy="577.84" rx="3.95" ry="3.56" transform="rotate(137.46 515.02 577.84)" fill="#a8dbe9" stroke="#5f909e" stroke-width="0.35"/><ellipse cx="555.98" cy="638.79" rx="6.89" ry="3.72" transform="rotate(13.16 555.98 638.79)" fill="#a8dbe9" stroke="#5f909e" stroke-width="0.35"/><ellipse cx="559.47" cy="624.49" rx="6.9" ry="3.12" transform="rotate(19.63 559.47 624.49)" fill="#abdfec" stroke="#5f909e" stroke-width="0.35"/><ellipse cx="556.56" cy="619.19" rx="4.03" ry="4.93" transform="rotate(19.6 556.56 619.19)" fill="#a8dbe9" stroke="#5f909e" stroke-width="0.35"/><ellipse cx="506.27" cy="601.41" rx="3.8" ry="4.44" transform="rotate(0.25 506.27 601.41)" fill="#abdfec" stroke="#5f909e" stroke-width="0.35"/><ellipse cx="517.22" cy="562.32" rx="4.31" ry="4.8" transform="rotate(116.19 517.22 562.32)" fill="#b3e6f2" stroke="#5f909e" stroke-width="0.35"/><ellipse cx="489.37" cy="582.35" rx="6.87" ry="4.07" transform="rotate(95.09 489.37 582.35)" fill="#a8dbe9" stroke="#5f909e" stroke-width="0.35"/><ellipse cx="509.03" cy="615.4" rx="5.95" ry="2.78" transform="rotate(12.66 509.03 615.4)" fill="#abdfec" stroke="#5f909e" stroke-width="0.35"/><ellipse cx="568.3" cy="595.78" rx="4.86" ry="3.06" transform="rotate(108.19 568.3 595.78)" fill="#afe2ef" stroke="#5f909e" stroke-width="0.35"/><ellipse cx="566.65" cy="639.04" rx="5.38" ry="4.99" transform="rotate(50.15 566.65 639.04)" fill="#b3e6f2" stroke="#5f909e" stroke-width="0.35"/><ellipse cx="568.18" cy="589.17" rx="5.76" ry="4.71" transform="rotate(85.55 568.18 589.17)" fill="#abdfec" stroke="#5f909e" stroke-width="0.35"/><ellipse cx="505.74" cy="578.15" rx="5.41" ry="2.57" transform="rotate(74.13 505.74 578.15)" fill="#b3e6f2" stroke="#5f909e" stroke-width="0.35"/><ellipse cx="503.72" cy="576.35" rx="3.69" ry="2.99" transform="rotate(159.27 503.72 576.35)" fill="#a8dbe9" stroke="#5f909e" stroke-width="0.35"/><ellipse cx="540.05" cy="632.02" rx="3.78" ry="3.07" transform="rotate(76.38 540.05 632.02)" fill="#b3e6f2" stroke="#5f909e" stroke-width="0.35"/><ellipse cx="558.44" cy="598.36" rx="4.29" ry="2.59" transform="rotate(60.85 558.44 598.36)" fill="#a8dbe9" stroke="#5f909e" stroke-width="0.35"/><ellipse cx="542.5" cy="623.97" rx="4.77" ry="3.49" transform="rotate(1.22 542.5 623.97)" fill="#b3e6f2" stroke="#5f909e" stroke-width="0.35"/><ellipse cx="494.21" cy="612.85" rx="6.09" ry="3.76" transform="rotate(36.94 494.21 612.85)" fill="#abdfec" stroke="#5f909e" stroke-width="0.35"/><ellipse cx="564.33" cy="622.58" rx="4.59" ry="4.55" transform="rotate(41.55 564.33 622.58)" fill="#abdfec" stroke="#5f909e" stroke-width="0.35"/><ellipse cx="550.76" cy="598.24" rx="4.43" ry="4.72" transform="rotate(19.62 550.76 598.24)" fill="#a8dbe9" stroke="#5f909e" stroke-width="0.35"/><ellipse cx="502.17" cy="623.13" rx="5.64" ry="4.74" transform="rotate(87.31 502.17 623.13)" fill="#afe2ef" stroke="#5f909e" stroke-width="0.35"/><ellipse cx="515.26" cy="624.07" rx="6.82" ry="2.87" transform="rotate(70.82 515.26 624.07)" fill="#abdfec" stroke="#5f909e" stroke-width="0.35"/><ellipse cx="569.59" cy="591.67" rx="3.58" ry="3.99" transform="rotate(74.77 569.59 591.67)" fill="#afe2ef" stroke="#5f909e" stroke-width="0.35"/><ellipse cx="521.12" cy="635.74" rx="4.14" ry="3.62" transform="rotate(128.17 521.12 635.74)" fill="#b3e6f2" stroke="#5f909e" stroke-width="0.35"/><ellipse cx="548.61" cy="573.6" rx="6.06" ry="4.99" transform="rotate(167.69 548.61 573.6)" fill="#b3e6f2" stroke="#5f909e" stroke-width="0.35"/><ellipse cx="497.8" cy="572.09" rx="4.17" ry="4.13" transform="rotate(94.46 497.8 572.09)" fill="#a8dbe9" stroke="#5f909e" stroke-width="0.35"/><ellipse cx="563.91" cy="624.52" rx="3.61" ry="4.16" transform="rotate(68.15 563.91 624.52)" fill="#b3e6f2" stroke="#5f909e" stroke-width="0.35"/><ellipse cx="499.42" cy="626.12" rx="6.95" ry="3.61" transform="rotate(19.61 499.42 626.12)" fill="#afe2ef" stroke="#5f909e" stroke-width="0.35"/><ellipse cx="570.33" cy="612.58" rx="4.48" ry="3.38" transform="rotate(171.99 570.33 612.58)" fill="#afe2ef" stroke="#5f909e" stroke-width="0.35"/><ellipse cx="516.78" cy="603.89" rx="5.46" ry="4.4" transform="rotate(68.42 516.78 603.89)" fill="#b3e6f2" stroke="#5f909e" stroke-width="0.35"/><ellipse cx="498.13" cy="561.14" rx="6.38" ry="3.58" transform="rotate(8.87 498.13 561.14)" fill="#a8dbe9" stroke="#5f909e" stroke-width="0.35"/><ellipse cx="569.53" cy="611.97" rx="4.19" ry="3.85" transform="rotate(80.34 569.53 611.97)" fill="#b3e6f2" stroke="#5f909e" stroke-width="0.35"/><ellipse cx="531.76" cy="634.69" rx="4.77" ry="4.74" transform="rotate(5.45 531.76 634.69)" fill="#a8dbe9" stroke="#5f909e" stroke-width="0.35"/><ellipse cx="523.87" cy="629.74" rx="4.37" ry="4.06" transform="rotate(72.86 523.87 629.74)" fill="#a8dbe9" stroke="#5f909e" stroke-width="0.35"/><ellipse cx="557.22" cy="576.88" rx="3.62" ry="2.66" transform="rotate(165.61 557.22 576.88)" fill="#b3e6f2" stroke="#5f909e" stroke-width="0.35"/><ellipse cx="508.41" cy="583.44" rx="4.18" ry="2.66" transform="rotate(109.01 508.41 583.44)" fill="#b3e6f2" stroke="#5f909e" stroke-width="0.35"/><ellipse cx="507.45" cy="606.91" rx="4.45" ry="4.89" transform="rotate(111.06 507.45 606.91)" fill="#b3e6f2" stroke="#5f909e" stroke-width="0.35"/><ellipse cx="509.05" cy="593.52" rx="6.11" ry="4.22" transform="rotate(166.36 509.05 593.52)" fill="#b3e6f2" stroke="#5f909e" stroke-width="0.35"/><ellipse cx="498.14" cy="632.8" rx="3.51" ry="4.39" transform="rotate(164.96 498.14 632.8)" fill="#afe2ef" stroke="#5f909e" stroke-width="0.35"/><ellipse cx="517.07" cy="596.65" rx="3.58" ry="3.08" transform="rotate(85.53 517.07 596.65)" fill="#a8dbe9" stroke="#5f909e" stroke-width="0.35"/><ellipse cx="536.58" cy="632.34" rx="6.84" ry="3.47" transform="rotate(45.19 536.58 632.34)" fill="#a8dbe9" stroke="#5f909e" stroke-width="0.35"/><ellipse cx="522.75" cy="633.42" rx="6.35" ry="2.83" transform="rotate(89.38 522.75 633.42)" fill="#afe2ef" stroke="#5f909e" stroke-width="0.35"/><ellipse cx="529.64" cy="602.55" rx="6.31" ry="4.35" transform="rotate(148.1 529.64 602.55)" fill="#abdfec" stroke="#5f909e" stroke-width="0.35"/><ellipse cx="531.5" cy="561.5" rx="5.63" ry="3.32" transform="rotate(57.52 531.5 561.5)" fill="#b3e6f2" stroke="#5f909e" stroke-width="0.35"/><ellipse cx="524.41" cy="574.65" rx="6.24" ry="3.99" transform="rotate(92.14 524.41 574.65)" fill="#a8dbe9" stroke="#5f909e" stroke-width="0.35"/><ellipse cx="487.33" cy="623.93" rx="6.14" ry="3.12" transform="rotate(11.65 487.33 623.93)" fill="#afe2ef" stroke="#5f909e" stroke-width="0.35"/><ellipse cx="501.65" cy="597.88" rx="5.19" ry="3.86" transform="rotate(28.92 501.65 597.88)" fill="#a8dbe9" stroke="#5f909e" stroke-width="0.35"/><ellipse cx="548.64" cy="604.52" rx="6.59" ry="4.97" transform="rotate(47.68 548.64 604.52)" fill="#afe2ef" stroke="#5f909e" stroke-width="0.35"/><ellipse cx="514.71" cy="601.47" rx="4.23" ry="3.55" transform="rotate(177.92 514.71 601.47)" fill="#a8dbe9" stroke="#5f909e" stroke-width="0.35"/><ellipse cx="534.21" cy="622.74" rx="4.11" ry="2.83" transform="rotate(82.97 534.21 622.74)" fill="#abdfec" stroke="#5f909e" stroke-width="0.35"/><ellipse cx="496.02" cy="604.82" rx="6.12" ry="4.62" transform="rotate(119.6 496.02 604.82)" fill="#afe2ef" stroke="#5f909e" stroke-width="0.35"/><ellipse cx="508.12" cy="582.15" rx="6.23" ry="3.23" transform="rotate(50.29 508.12 582.15)" fill="#b3e6f2" stroke="#5f909e" stroke-width="0.35"/><ellipse cx="552.64" cy="600.62" rx="4.81" ry="4.35" transform="rotate(35.85 552.64 600.62)" fill="#abdfec" stroke="#5f909e" stroke-width="0.35"/><ellipse cx="534.75" cy="620.8" rx="4.15" ry="3.09" transform="rotate(50.64 534.75 620.8)" fill="#abdfec" stroke="#5f909e" stroke-width="0.35"/><ellipse cx="564.56" cy="595.46" rx="4.64" ry="3.49" transform="rotate(178.64 564.56 595.46)" fill="#abdfec" stroke="#5f909e" stroke-width="0.35"/><ellipse cx="539.06" cy="600.44" rx="5.77" ry="2.75" transform="rotate(83.5 539.06 600.44)" fill="#afe2ef" stroke="#5f909e" stroke-width="0.35"/><ellipse cx="530.53" cy="615.42" rx="3.86" ry="3.69" transform="rotate(147.44 530.53 615.42)" fill="#a8dbe9" stroke="#5f909e" stroke-width="0.35"/><ellipse cx="525.45" cy="602.66" rx="6.7" ry="2.6" transform="rotate(52.86 525.45 602.66)" fill="#afe2ef" stroke="#5f909e" stroke-width="0.35"/><ellipse cx="527.63" cy="635.32" rx="3.68" ry="4" transform="rotate(149.03 527.63 635.32)" fill="#abdfec" stroke="#5f909e" stroke-width="0.35"/><ellipse cx="546.43" cy="630.12" rx="6.76" ry="3.43" transform="rotate(155.9 546.43 630.12)" fill="#a8dbe9" stroke="#5f909e" stroke-width="0.35"/><ellipse cx="567.09" cy="580.77" rx="5.61" ry="4.44" transform="rotate(119.66 567.09 580.77)" fill="#afe2ef" stroke="#5f909e" stroke-width="0.35"/><ellipse cx="534.56" cy="635.46" rx="3.87" ry="3.99" transform="rotate(111.59 534.56 635.46)" fill="#abdfec" stroke="#5f909e" stroke-width="0.35"/><ellipse cx="558.4" cy="570.97" rx="3.63" ry="3.35" transform="rotate(7.95 558.4 570.97)" fill="#b3e6f2" stroke="#5f909e" stroke-width="0.35"/><ellipse cx="497.34" cy="595.37" rx="3.63" ry="4.33" transform="rotate(164.51 497.34 595.37)" fill="#afe2ef" stroke="#5f909e" stroke-width="0.35"/><ellipse cx="493.17" cy="579.25" rx="6.37" ry="3.52" transform="rotate(66.93 493.17 579.25)" fill="#b3e6f2" stroke="#5f909e" stroke-width="0.35"/><ellipse cx="493.22" cy="613.56" rx="3.77" ry="2.58" transform="rotate(89.21 493.22 613.56)" fill="#a8dbe9" stroke="#5f909e" stroke-width="0.35"/><ellipse cx="553.63" cy="631.76" rx="3.72" ry="2.75" transform="rotate(71.15 553.63 631.76)" fill="#abdfec" stroke="#5f909e" stroke-width="0.35"/></g>
<path d="M546.8,566.3 C547.53,564.83 549.03,564.42 550.5,563.8 C551.97,563.18 553.92,562.6 555.6,562.6 C557.28,562.6 559.65,562.55 560.6,563.8 C561.55,565.05 561.3,567.78 561.3,570.1 C561.3,572.42 560.5,575.38 560.6,577.7 C560.7,580.02 561.05,581.9 561.9,584 C562.75,586.1 564.65,588.2 565.7,590.3 C566.75,592.4 567.68,594.08 568.2,596.6 C568.72,599.12 568.58,602.88 568.8,605.4 C569.02,607.92 569.82,609.8 569.5,611.7 C569.18,613.6 567.02,614.9 566.9,616.8 C566.78,618.7 568.8,621.42 568.8,623.1 C568.8,624.78 567.83,625.65 566.9,626.9 C565.97,628.15 564.45,629.42 563.2,630.6 C561.95,631.78 560.67,633.1 559.4,634 C558.13,634.9 562.95,635.67 555.6,636 C548.25,636.33 522.23,636.68 515.3,636 C508.37,635.32 514.85,633.22 514,631.9 C513.15,630.58 512.3,629.47 510.2,628.1 C508.1,626.73 503.6,625.17 501.4,623.7 C499.2,622.23 497.95,621.08 497,619.3 C496.05,617.52 496.23,615.32 495.7,613 C495.17,610.68 494.22,608.13 493.8,605.4 C493.38,602.67 493.83,599.75 493.2,596.6 C492.57,593.45 490.63,588.6 490,586.5 C489.37,584.4 488.55,584.73 489.4,584 C490.25,583.27 492.68,582.83 495.1,582.1 C497.52,581.37 501.6,580.65 503.9,579.6 C506.2,578.55 507.22,576.97 508.9,575.8 C510.58,574.63 512.32,572.92 514,572.6 C515.68,572.28 517.32,573.68 519,573.9 C520.68,574.12 522.62,573.27 524.1,573.9 C525.58,574.53 526.65,576.97 527.9,577.7 C529.15,578.43 529.93,577.88 531.6,578.3 C533.27,578.72 535.8,580.2 537.9,580.2 C540,580.2 542.83,579.57 544.2,578.3 C545.57,577.03 545.67,574.6 546.1,572.6 C546.53,570.6 546.07,567.77 546.8,566.3Z" fill="none" stroke="#3f6f7e" stroke-width="0.9"/></svg></body></html>
